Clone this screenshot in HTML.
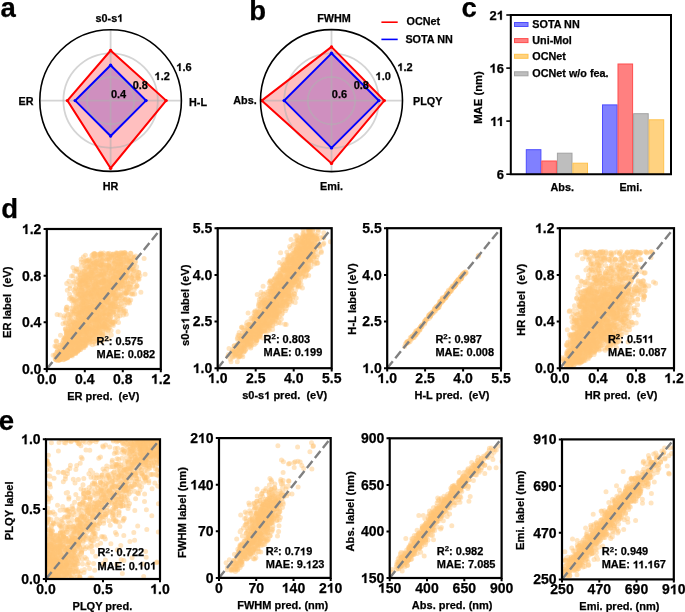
<!DOCTYPE html>
<html><head><meta charset="utf-8"><title>figure</title>
<style>
html,body{margin:0;padding:0;background:#fff;width:685px;height:612px;overflow:hidden}
svg{display:block;will-change:transform}
text{font-family:"Liberation Sans",sans-serif;font-weight:bold;fill:#000;stroke:#000;stroke-width:.25px}
.h{fill:none;stroke:none}
.o{fill:#000;stroke:#000;stroke-width:.25px}
</style></head><body>
<svg width="685" height="612" viewBox="0 0 685 612">
<rect width="685" height="612" fill="#fff"/>
<text x="0.6" y="17.3" font-size="27.5">a</text>
<text x="249.2" y="19.5" font-size="27.5">b</text>
<text x="461.5" y="17" font-size="27.5">c</text>
<text x="1.2" y="217.8" font-size="27.5">d</text>
<text x="-1.3" y="430" font-size="27.5">e</text>
<polygon points="110.6,65.2 146,100.6 110.6,136 75.2,100.6" fill="#0000ff" fill-opacity=".25"/>
<polygon points="110.6,50.5 166.1,100.6 110.6,168.2 67.4,100.6" fill="#ff0000" fill-opacity=".25"/>
<circle cx="110.6" cy="100.6" r="23.6" fill="none" stroke="#b0b0b0" stroke-opacity=".55" stroke-width="1.8"/>
<circle cx="110.6" cy="100.6" r="47.2" fill="none" stroke="#b0b0b0" stroke-opacity=".55" stroke-width="1.8"/>
<path d="M110.6 29.8V171.4M39.8 100.6H181.4" stroke="#b0b0b0" stroke-opacity=".55" stroke-width="1.8"/>
<polygon points="110.6,65.2 146,100.6 110.6,136 75.2,100.6" fill="none" stroke="#0000ff" stroke-width="2" stroke-linejoin="miter"/>
<polygon points="110.6,50.5 166.1,100.6 110.6,168.2 67.4,100.6" fill="none" stroke="#ff0000" stroke-width="2" stroke-linejoin="miter"/>
<circle cx="110.6" cy="65.2" r="1.7" fill="#00f"/>
<circle cx="146" cy="100.6" r="1.7" fill="#00f"/>
<circle cx="110.6" cy="136" r="1.7" fill="#00f"/>
<circle cx="75.2" cy="100.6" r="1.7" fill="#00f"/>
<circle cx="110.6" cy="50.5" r="1.7" fill="#f00"/>
<circle cx="166.1" cy="100.6" r="1.7" fill="#f00"/>
<circle cx="110.6" cy="168.2" r="1.7" fill="#f00"/>
<circle cx="67.4" cy="100.6" r="1.7" fill="#f00"/>
<circle cx="110.6" cy="100.6" r="70.8" fill="none" stroke="#000" stroke-width="1.6"/>
<text x="110.9" y="98" font-size="11">0.4</text>
<text x="132.7" y="89" font-size="11">0.8</text>
<text x="154.5" y="79.9" font-size="11"><tspan class="h">1</tspan>.2</text>
<text x="176.3" y="70.9" font-size="11"><tspan class="h">1</tspan>.6</text>
<text x="109.4" y="21.8" font-size="10.8" text-anchor="middle">s0-s<tspan class="h">1</tspan></text>
<text x="189" y="105.6" font-size="10.8">H-L</text>
<text x="110.6" y="189.8" font-size="10.8" text-anchor="middle">HR</text>
<text x="33.5" y="105.1" font-size="10.8" text-anchor="end">ER</text>
<polygon points="331.5,53.3 378.8,100.6 331.5,147.9 284.2,100.6" fill="#0000ff" fill-opacity=".25"/>
<polygon points="331.5,46.9 384.3,100.6 331.5,163.4 261.7,100.6" fill="#ff0000" fill-opacity=".25"/>
<circle cx="331.5" cy="100.6" r="23.7" fill="none" stroke="#b0b0b0" stroke-opacity=".55" stroke-width="1.8"/>
<circle cx="331.5" cy="100.6" r="47.3" fill="none" stroke="#b0b0b0" stroke-opacity=".55" stroke-width="1.8"/>
<path d="M331.5 29.6V171.6M260.5 100.6H402.5" stroke="#b0b0b0" stroke-opacity=".55" stroke-width="1.8"/>
<polygon points="331.5,53.3 378.8,100.6 331.5,147.9 284.2,100.6" fill="none" stroke="#0000ff" stroke-width="2" stroke-linejoin="miter"/>
<polygon points="331.5,46.9 384.3,100.6 331.5,163.4 261.7,100.6" fill="none" stroke="#ff0000" stroke-width="2" stroke-linejoin="miter"/>
<circle cx="331.5" cy="53.3" r="1.7" fill="#00f"/>
<circle cx="378.8" cy="100.6" r="1.7" fill="#00f"/>
<circle cx="331.5" cy="147.9" r="1.7" fill="#00f"/>
<circle cx="284.2" cy="100.6" r="1.7" fill="#00f"/>
<circle cx="331.5" cy="46.9" r="1.7" fill="#f00"/>
<circle cx="384.3" cy="100.6" r="1.7" fill="#f00"/>
<circle cx="331.5" cy="163.4" r="1.7" fill="#f00"/>
<circle cx="261.7" cy="100.6" r="1.7" fill="#f00"/>
<circle cx="331.5" cy="100.6" r="71" fill="none" stroke="#000" stroke-width="1.6"/>
<text x="331.8" y="98" font-size="11">0.6</text>
<text x="353.7" y="88.9" font-size="11">0.8</text>
<text x="375.5" y="79.9" font-size="11"><tspan class="h">1</tspan>.0</text>
<text x="397.4" y="70.8" font-size="11"><tspan class="h">1</tspan>.2</text>
<text x="334" y="21.8" font-size="10.8" text-anchor="middle">FWHM</text>
<text x="413" y="105.1" font-size="10.8">PLQY</text>
<text x="331.5" y="189.8" font-size="10.8" text-anchor="middle">Emi.</text>
<text x="256.7" y="103.9" font-size="10.8" text-anchor="end">Abs.</text>
<path d="M381.4 22.2H397.7" stroke="#f00" stroke-width="1.6"/>
<path d="M381.4 39.4H397.7" stroke="#00f" stroke-width="1.6"/>
<text x="406.6" y="25.2" font-size="10.8">OCNet</text>
<text x="405.4" y="42.9" font-size="10.8">SOTA NN</text>
<rect x="526.3" y="149.7" width="14.6" height="24.5" fill="#8080ff" stroke="#4d4dff" stroke-width="1"/>
<rect x="541.8" y="161" width="14.6" height="13.2" fill="#ff8080" stroke="#ff4d4d" stroke-width="1"/>
<rect x="557.4" y="153.2" width="14.6" height="21" fill="#bebebe" stroke="#a3a3a3" stroke-width="1"/>
<rect x="572.9" y="163.2" width="14.6" height="11" fill="#ffd280" stroke="#ffc24d" stroke-width="1"/>
<rect x="602.5" y="104.9" width="14.6" height="69.3" fill="#8080ff" stroke="#4d4dff" stroke-width="1"/>
<rect x="618" y="64" width="14.6" height="110.2" fill="#ff8080" stroke="#ff4d4d" stroke-width="1"/>
<rect x="633.6" y="113.7" width="14.6" height="60.5" fill="#bebebe" stroke="#a3a3a3" stroke-width="1"/>
<rect x="649.1" y="119.8" width="14.6" height="54.4" fill="#ffd280" stroke="#ffc24d" stroke-width="1"/>
<path d="M510.8 15H671V174.2H510.8Z" fill="none" stroke="#000" stroke-width="2"/>
<path d="M506.3 174.2H510.8" stroke="#000" stroke-width="1.6"/>
<text x="504" y="178.9" font-size="13" text-anchor="end">6</text>
<path d="M506.3 121.1H510.8" stroke="#000" stroke-width="1.6"/>
<text x="504" y="125.9" font-size="13" text-anchor="end"><tspan class="h">1</tspan><tspan class="h">1</tspan></text>
<path d="M506.3 68.1H510.8" stroke="#000" stroke-width="1.6"/>
<text x="504" y="72.8" font-size="13" text-anchor="end"><tspan class="h">1</tspan>6</text>
<path d="M506.3 15H510.8" stroke="#000" stroke-width="1.6"/>
<text x="504" y="19.8" font-size="13" text-anchor="end">2<tspan class="h">1</tspan></text>
<text x="562.2" y="190.7" font-size="10.8" text-anchor="middle">Abs.</text>
<text x="630.8" y="190.7" font-size="10.8" text-anchor="middle">Emi.</text>
<text transform="translate(481.6 97.5) rotate(-90)" font-size="11.3" text-anchor="middle">MAE (nm)</text>
<rect x="514.5" y="22.5" width="13.5" height="4" fill="#8080ff" stroke="#4d4dff" stroke-width="1"/>
<text x="532.3" y="27.8" font-size="10.8">SOTA NN</text>
<rect x="514.5" y="38.6" width="13.5" height="4" fill="#ff8080" stroke="#ff4d4d" stroke-width="1"/>
<text x="532.3" y="44.2" font-size="10.8">Uni-Mol</text>
<rect x="514.5" y="54.3" width="13.5" height="4" fill="#ffd280" stroke="#ffc24d" stroke-width="1"/>
<text x="532.3" y="60" font-size="10.8">OCNet</text>
<rect x="514.5" y="71.8" width="13.5" height="4" fill="#bebebe" stroke="#a3a3a3" stroke-width="1"/>
<text x="532.3" y="77.3" font-size="10.8">OCNet w/o fea.</text>
<clipPath id="cd1"><rect x="46.8" y="229" width="114" height="140"/></clipPath>
<g clip-path="url(#cd1)" fill="none" stroke="#ffc473" stroke-opacity=".45" stroke-width="5" stroke-linecap="round">
<path d="M101.8 256.2h0m1.3-1h0m6.1-1.9h0m7.3-0.5h0m2.6 0.7h0m3 0.1h0m12 3.6h0m-39.6 5.3h0m1.8 1h0m0.8 0.3h0m3-4h0m0.5-1.2h0m0.5 1.4h0m0.3 2.2h0m1.9-3.9h0m11.7 4.2h0m1.6 0.9h0m0.5-3.7h0m0-1.5h0m2 5.6h0m6.9-2.1h0m0.8-1.8h0m3.3 0.9h0m3 2.7h0m1.9-0.8h0m-45.2 1.3h0m0.1 3.3h0m2.3-2.5h0m3.4 0h0m0.5 3.9h0m3.7-4h0m0.6 0h0m8.6 3.3h0m0-1.1h0m14.8 0h0m0.1 0.4h0m2.1 2.4h0m2-1.3h0m-55.1 7.4h0m3.1-4.2h0m0.5 0.2h0m8-0.9h0m1.9 3.8h0m0.7-1.9h0m0.5-2h0m2.3 0.2h0m1.3 1.6h0m11.5 0.4h0m0.1 2.6h0m0.5-4.3h0m3.9 2.1h0m0.5 2.1h0m3.8-2.9h0m1.8-1.2h0m2.8 0.5h0m4.6 2.9h0m1.9-4.7h0m0.4 5.3h0m4.7-3.7h0m10.2 3.8h0m-57.2 3.2h0m2.3-1.5h0m2.3 2.5h0m0.3-2.1h0m1.7 3.7h0m0.8-1.5h0m1.5-0.4h0m6 2.5h0m1.2-0.6h0m0.2-4.9h0m1.6 0.2h0m2.2 0.6h0m1.1 2.1h0m1.4-1h0m2.6-2.1h0m3.6 4.4h0m3.8-3.9h0m1.9 1h0m3.2 3.7h0m1.7 0h0m1.8-4.6h0m2.9 0.9h0m5.8 2.2h0m0.3-2.9h0m2.4 4.7h0m5.7-2.5h0m-59.2 5.5h0m1.3-1.9h0m0.5 1.8h0m0.2-1h0m7 0.8h0m4.4 3.4h0m0.4-2.7h0m4.1-2.3h0m0.2 0.4h0m1.1 1.8h0m4.3-2.3h0m6.2 4.2h0m0.9-3.9h0m0.4-1h0m6.6 2.6h0m0.4 3.2h0m19.3-1.7h0m-61.6 2.3h0m3.5 2.3h0m3.4-0.3h0m5.1 2.6h0m4.7-1h0m6.1 1.1h0m1.4-3h0m0.5 0.7h0m2.9 0.9h0m0.7 0.3h0m0.2-3.6h0m0.4 1.1h0m6-0.7h0m0.3 1.5h0m6.4 3.4h0m7.5-1.3h0m7.4 0.9h0m2.3-3.7h0m-55.8 5h0m2.6 0.9h0m1.7-0.2h0m1.5 0.2h0m0.7-0.6h0m5.9 0.3h0m4.3 4.3h0m2.5-3.8h0m2.6 3.4h0m0.3-2.8h0m0.6-1.2h0m6.4 2.9h0m0.1 1.9h0m5.1-5.4h0m1.5 4.5h0m2.3-0.8h0m0.2-2.2h0m3.5-1.8h0m-39.4 10.1h0m2.8 0.7h0m0.4-4.2h0m0.7 2.5h0m0.2-2.3h0m4.3 0.9h0m7.7 2.2h0m2.6-2.8h0m0.4 3.7h0m0.8-0.9h0m3.2-3.4h0m0.1 1.2h0m0.4 2.3h0m4.1-1.9h0m1-0.8h0m1.2 1.5h0m2.4-0.2h0m0.8-2.1h0m1.4 1.3h0m1.9 1.6h0m-43.2 8.3h0m1.7-3.2h0m4.2 2.3h0m2.9-2.5h0m0 3.4h0m4.9-3.4h0m1.4 3.4h0m0.1-4.2h0m0.2-0.2h0m5.5 0.4h0m2.2 3.6h0m0.9-5.5h0m3.1 1.3h0m14-0.8h0m-48.7 9.9h0m1.1 1.5h0m0.6-3.7h0m1 3.2h0m9.2 0.1h0m1.7-3.5h0m1.9-0.7h0m0.8 1.2h0m1-0.5h0m2.1 1.2h0m1.4-2.6h0m2.7 5h0m0.3-2.1h0m2.3-3.1h0m2.2 1.2h0m2.5 4h0m0.3-3.8h0m2-1.8h0m0.8 3.6h0m2.6 0.8h0m0.4-0.2h0m0.2-1h0m5.9 0h0m4.3-3.1h0m-44.7 9.3h0m3.3 0.2h0m8 1.6h0m4.5-2.8h0m6.6 1.8h0m0.5-1h0m0.1 2.4h0m3.4-3.8h0m0.1-0.8h0m0.4-0.8h0m0.7 2h0m3.3-0.2h0m1.8 2.6h0m3.5 0.4h0m1.7-2.7h0m-32 4.1h0m0.6 4h0m0.2-4.1h0m1.3 1.1h0m2.3 4.4h0m0.9-0.3h0m1-5.1h0m1.6 2.5h0m1.5 2.5h0m0-1.7h0m0.1-1.2h0m3.6 3.3h0m2.7-0.4h0m1 0.4h0m0.7-1.6h0m1.7-2.4h0m1.5 0.9h0m1-1h0m5.7 0.8h0m3.1 0.7h0m0.6 2.2h0m3.9-4.6h0m3.3 0.7h0m-46.9 6.4h0m0.5 2.3h0m0.4-2.1h0m6.7-0.5h0m1 0.4h0m0.9-0.5h0m0.2 4.3h0m0.6-0.3h0m1.2-1.6h0m0.9-3.6h0m1.9 4h0m0.8-2.1h0m0.1 0.8h0m3.8-2h0m0.7-1h0m1.6 4.9h0m1.2-2.4h0m3 0.9h0m1.5 1.2h0m1.8-4.6h0m0.1 2.2h0m7.5 3.5h0m-39.6 4.3h0m1.1 1.7h0m0.7-4.1h0m1.7 3.7h0m0.8-1.5h0m0.7-1.4h0m2.5 1.8h0m2.4-3.3h0m0.1 4.1h0m3.4 0.6h0m1.8-3h0m0.3-1.1h0m0.1 2.3h0m0.4-0.1h0m0.5-0.5h0m1.9-2.6h0m0.2 3.7h0m0.3-3.8h0m2.5 1.9h0m3.9-1.4h0m0.7 2.8h0m1.8-1.6h0m6.6 1.5h0m6.1-0.3h0m-47 7.4h0m2.5-1.6h0m3.5 1.3h0m3.9-1.6h0m0.4-0.5h0m0 3.2h0m3.2-2.9h0m2.9 0.6h0m1.9 0.8h0m0-4.1h0m0.2 4.3h0m0.4-2.1h0m0.8 2.5h0m0.8-0.2h0m1.6 0.2h0m2.5-2.8h0m2.5-1.7h0m2.1 0.7h0m3.7 0.3h0m1.6-1.2h0m-34.5 10.3h0m2-0.1h0m1.1 0.8h0m3.1-0.3h0m0.8-2h0m0.4-2.4h0m1.4 1.2h0m2.4 2.9h0m0.6-3h0m1.6-0.6h0m0.5 4h0m0.8-2.1h0m1.7 1h0m0.7-1.8h0m0.3-1h0m0-0.2h0m1.4 0.8h0m4.4-1.5h0m-23.8 6.4h0m1 0.5h0m0.5 3h0m1.3-2.7h0m1 0.7h0m1 0.9h0m0.4-2.1h0m0.5 2.4h0m2.6-1.5h0m0.7 2.5h0m1.6-3.9h0m0.2 2.5h0m0.5 0.9h0m0.8-1.5h0m0.9-1.6h0m0.6 0.3h0m0.9-0.6h0"/>
<path d="M94.3 254h0m5.6 0.2h0m3.7-1.1h0m3.4 0.8h0m0.9 0.2h0m5 0.5h0m3.1 0.9h0m7.4-1.5h0m0.2 2.4h0m1.2-2.2h0m3.6 1.6h0m-44.9 6.4h0m5.3-2.6h0m18.2 0.4h0m3.4 3.4h0m6.1-1.8h0m4.1 0.3h0m8.8 0.2h0m1.4-1.2h0m-54.3 7.9h0m9.7-1.4h0m2.5-1h0m5.8-2h0m0.1 0.5h0m0 3.9h0m0-0.8h0m2.4-0.7h0m1.2-0.1h0m2.1 1.1h0m1.9 1h0m1-4.3h0m5.6-0.7h0m5.7 2.7h0m6-2.9h0m7.5 2.8h0m4.7 2h0m-46.4 3.9h0m3.9-2h0m3 4.9h0m1.1-3.2h0m3.8-2h0m0.3 5.1h0m2.2-1.8h0m3.2 0.2h0m3-3.9h0m2.8 2.3h0m0.1 0.6h0m9.1-0.8h0m3.8 3h0m15.2-0.5h0m0.9-2.1h0m-55.9 8.2h0m3.3-2.6h0m0.5-1h0m1.1 4.3h0m1.4-0.1h0m1.2-3.4h0m4 0.2h0m1.4-2.1h0m2.4 0.7h0m3.6 4.5h0m1.8 0.4h0m0.8-0.5h0m5.1-0.1h0m0.3-2.2h0m2.9-2.9h0m2.2 2.6h0m1.3 1.3h0m0.1 0.7h0m0.1-2.4h0m2.1-0.1h0m2.6 2.9h0m5.3-4h0m7.5 2.2h0m3.5-1.4h0m-57.9 5.6h0m1.2 2.1h0m0.1 1.6h0m2.4 0.2h0m0.5-0.3h0m2.2-1.6h0m7.5-1.9h0m1.1 3.1h0m1.4-3.4h0m1.5 3.6h0m4.8-3.9h0m7.3 4.6h0m1.5 0.3h0m0.2-1.3h0m2.5-0.3h0m3-0.1h0m0.8-2.2h0m2.7-0.7h0m1.9-0.8h0m1.2 2.9h0m6.2 1.4h0m-62.1 3.6h0m7.4 1.7h0m3.3 1.4h0m1.2-4.1h0m5.5 1.6h0m3.7-1.6h0m0.3-1.1h0m0.7 1.2h0m1.5 4.3h0m3.6-3.4h0m2.3-0.9h0m1.9 3.6h0m1.1-2.5h0m0.9-0.5h0m1.7-1.5h0m1.3 4h0m0.4-0.6h0m3.1-3.4h0m6.4 4.2h0m0.6-2.2h0m11.1 2.7h0m3.9-4.2h0m-48.8 8.8h0m3.2-2.5h0m2.4 3.3h0m6.5 1.1h0m8.6-2h0m0.2-2.4h0m0.9 4.6h0m3.1-3.7h0m1.7 3.7h0m1.8-1.9h0m5.7-3.3h0m0.3 4.2h0m0.6-0.1h0m0.9-1.7h0m5.2-1.9h0m3.8 4.2h0m-50 3.7h0m0.6 1.4h0m0.9-2.9h0m6-1.1h0m0.5 1.9h0m7.4-0.6h0m1.1 3.9h0m0.3-3.3h0m8.1 2.8h0m2.6-1h0m0.2-3.2h0m4.3 0.9h0m1.2-1.2h0m2.5 3h0m2.5-0.7h0m14.2-0.1h0m1.4-2.4h0m-63.1 9h0m6.3 1.2h0m9.8 1.2h0m2.4-3.4h0m0.4 2h0m2.8 0.9h0m0.5-2.7h0m0.3 0.9h0m8.6-3.4h0m4.6 0.3h0m4.3 5h0m0.7-1h0m2-2.5h0m0.1 1.6h0m1.7-3h0m8 0.7h0m5.6 4.3h0m-53.3 2.2h0m5.6 3.8h0m3.2-2.1h0m0 1.2h0m0.9 0.1h0m1.6-3.1h0m0.5 1.3h0m2.3 1.3h0m5.8 0.9h0m0.7-5h0m2.5 4.9h0m0.4-0.6h0m1-1.4h0m3-0.4h0m2-2h0m3.6 0.3h0m3-0.9h0m2 3.1h0m2 2.6h0m3.1-3.2h0m9.4 0.3h0m-53.9 3.1h0m6.7 5.1h0m2.9-4.4h0m2.7 2h0m0.1-0.4h0m1.5 0.6h0m8.5-2.6h0m2.1 1.3h0m3.6 3.6h0m0.6-5.1h0m1.6 2.4h0m0 1.4h0m2.6-1.2h0m1.4-0.5h0m1.3 1.2h0m0.8-1.8h0m0.9 0.5h0m0.2 0.1h0m3 0.5h0m3.5 1h0m5 0.8h0m-49.9 4.6h0m4 2.4h0m1.2-3.4h0m5-0.5h0m5.5 1.5h0m4.4 1.2h0m0.6-4.3h0m9 5.2h0m0.3-4.6h0m0.1 5h0m1.1-4.6h0m0.5 3.4h0m0-2.8h0m2-0.9h0m2.5 1.7h0m-38.6 6.6h0m4.7-0.8h0m0-1.9h0m5.2 2.9h0m0.1-1.2h0m0.7-1.1h0m2.9-0.2h0m0.6 2.8h0m5.2 0.5h0m0.9-2.1h0m6.5-1.4h0m2.5 1.6h0m0.2 1.4h0m0.5-1.1h0m0.1-1.5h0m14.8-0.5h0m-55 10.7h0m11.5-3.7h0m2 2.5h0m0.5 0.5h0m0.4 0.8h0m0.9-4.9h0m3.8 0.5h0m2.8 0.7h0m2.9 1.8h0m3.8-0.5h0m2 1.7h0m6-2.6h0m0.5 0.7h0m3.8-1.2h0m1.7 3.2h0m-34.2 6.4h0m0.4-3.4h0m2.8 2.4h0m1.5-1h0m0.2-2.2h0m0.6 1h0m2.1-0.9h0m1.8 2.7h0m0.1-0.4h0m1.5 1.5h0m1.9-4h0m2.4 2.7h0m0.7-2h0m2.8 0.1h0m0.9 0h0m0.3 2.2h0m0.1-2.8h0m0.4 1h0m-26.2 8.6h0m0.9 0h0m0.1-1.5h0m0.8 0.5h0m2.3 2.2h0m2-1.3h0m0.2 1.4h0m1.5-2.6h0m0.8-0.8h0m0.1 3h0m6.2-4.4h0m1.3 0.3h0m0.1 2.3h0m1.3-2.4h0m1 2h0m1-2.5h0m0.9 0h0m1.1 0.7h0m-21 8.6h0m0.1 1.4h0m0.1 0.4h0m0.7-2.6h0m1.3-1.6h0m1.5 0.5h0m0.4-0.8h0m0.2-0.7h0m0.3 3.1h0m0.6-1.9h0m1.3-1h0m1-0.2h0m0.5 1.5h0m0.3 1.3h0m1.4-1.5h0m-12.4 4.2h0"/>
<path d="M83.4 257.1h0m17.6-1.9h0m2 2.4h0m8.3-0.8h0m2.8 0h0m3.3-2.9h0m1.5 1h0m5.2 0.6h0m5 2h0m3.4-0.6h0m-45.6 3.5h0m3.2 0.9h0m8.1 1.9h0m3.1-1.5h0m3.1-3.4h0m1.3 0.3h0m3.1 1.5h0m0.6 3.8h0m2.3-3.1h0m10.7 2.5h0m1.5-4.9h0m0.5 2.8h0m5.9-0.5h0m-39.7 6.2h0m2.1 1.8h0m1.8 0.9h0m8.8-2.3h0m3.9 0.5h0m1 1.7h0m0.4 0.3h0m2.9-0.1h0m6-2.3h0m0.3 0.7h0m0.8-4.1h0m4.6 3.6h0m1.4-0.4h0m7 1.7h0m-57.2 2.1h0m5.9 4.1h0m2.3-0.3h0m3.1 0.7h0m2.7 0.3h0m2.3-2.2h0m0.1-1.6h0m1.3-1.4h0m3.1 0.5h0m14.6-0.9h0m5.4 1.3h0m0.6 2.3h0m2.3-1h0m0.3-2.8h0m3.5 1.3h0m1.6 4.3h0m2.8-2.9h0m10.5-1.4h0m-67.9 9.9h0m1.1 0.5h0m12.9-2.3h0m7.5 1h0m0.4-1.4h0m0.7 0.2h0m0-2.1h0m4.5 3.8h0m8-1.2h0m0.8 0.8h0m1.4-0.1h0m10.8-4h0m4.2 2.4h0m1.6 1.9h0m2 1.2h0m6.8-3.6h0m6-0.8h0m-63.3 6h0m4.9 3.2h0m0.5-4.1h0m1.1 1.5h0m1.3 1.7h0m1.1-1.3h0m1.9-2.2h0m1.9 5.4h0m7.6-2.5h0m0.8 0.7h0m1.4 1.9h0m2.5-5.5h0m4-0.3h0m0.4 5.3h0m0.3-3.9h0m2.7 0.3h0m0.1-1.5h0m3.4 1.3h0m3.9 2.3h0m1-0.3h0m1-2.8h0m0.9 1.3h0m3.5 2.1h0m0-1.7h0m7 2.9h0m-57.5 1.3h0m13.3 3.7h0m0.1-4h0m0.1-0.1h0m4.3 4h0m3.3-1.7h0m4.8-1.8h0m4.1 1.4h0m0.9 0.7h0m0.3-0.8h0m0.9 2.8h0m1.9-4.1h0m1.3 1.6h0m0.8 1.9h0m1.9-0.9h0m2.7-0.8h0m0.6 1.5h0m0.8-3.2h0m1.9 0.7h0m12 3.2h0m1.9-2.9h0m-55.5 9.8h0m7.2-5h0m0.4 1.5h0m3.5-0.2h0m4.2-0.7h0m2.9-0.4h0m2.3 2h0m2.6-1.7h0m0.9 1.9h0m0.2 1.4h0m0.8-3.7h0m2.4-0.6h0m2.4 3.2h0m1.9-1.7h0m0.6-1.6h0m2.1 5h0m2.1-2.7h0m4-2.2h0m4.8 2.2h0m3.2 2.9h0m1.9-0.4h0m-39 1.3h0m0.5 3.2h0m0.1 0.8h0m0.1 1.6h0m3.7-4.2h0m0.7 2.1h0m0.3-2.7h0m1.5 4.3h0m1.4-3.8h0m1.3 1.1h0m2.2 0.3h0m2 1.7h0m2.7-2.6h0m4.4-1.6h0m7.1 4.4h0m3-3.9h0m0.4 4.9h0m0.3-1.1h0m-48.9 5.8h0m9.1-3.5h0m0.8 1.8h0m6.8 0.3h0m0-1.8h0m4-0.1h0m1.1 4.7h0m2.5-0.7h0m1.2-1.9h0m3.9 0.3h0m1-1.9h0m3.4-1.6h0m1.1 0.2h0m0.9 0.6h0m2.6 2.6h0m5 1.9h0m0.2-1.1h0m0.2-2.8h0m2.5-0.9h0m4.5 2.7h0m-49.6 5.4h0m4.6 0.1h0m0.1-2.5h0m6.8 0.2h0m1.1 0.4h0m5.2 4.9h0m2-3.6h0m0.2-2.1h0m12.5 5.5h0m3.2 0.4h0m3-1.7h0m0.8-1.2h0m8.8-0.9h0m10.2 0.1h0m-62.6 3.8h0m2 4.3h0m1.5 1.4h0m3.2-1.8h0m4.6 0.4h0m3.2 1h0m1.8-2h0m1.6-3.2h0m3.4 2.8h0m3.3 0.9h0m0.4-0.5h0m3 0.2h0m0.9 0.7h0m2.1-0.9h0m0.9-1.7h0m0.9 3.8h0m1.3-1.3h0m2.4-3.4h0m5.6 4h0m1-2.9h0m0.6 2.6h0m2.4-2.6h0m7.9-1.5h0m-43.9 9.2h0m0.5-2.2h0m1.5 3.7h0m0.7-2.5h0m0.2 3.3h0m0.6-1.2h0m1.2 1h0m0.1-1.7h0m3.4 0.8h0m0.4-3.8h0m2.4 2.1h0m2 0.3h0m5.7 0.8h0m0.4 1.8h0m0.3-4.6h0m1.3-1.2h0m0.2 3.4h0m2-3.1h0m1.5 3.9h0m5.5-1.7h0m2.8 1.2h0m5.3-3.5h0m-41.8 6.6h0m0.6 2.6h0m3.2 2.2h0m2.2-2.5h0m0.4-0.1h0m1.2-0.8h0m0.3-1.6h0m0.3 5h0m1.5-4.8h0m3 1.1h0m2.1-0.8h0m0.9 0.6h0m0.5 3.6h0m1.6-3.4h0m0-0.2h0m0.2 4h0m0.3-1.7h0m2.4-3.7h0m0.7 3.6h0m1.7-0.7h0m2.1-0.1h0m2.1-2.6h0m2.2 0.3h0m0.6 1.9h0m18-1.1h0m-52.9 7.7h0m2.3 0.2h0m3.3-0.3h0m1.1 2.6h0m2.8-5.9h0m0.8 5.6h0m0.3-1.9h0m0.5-1.6h0m0.9 1.1h0m0.6 0.5h0m0.1 1.1h0m0.1-3.7h0m1.2 4.1h0m1.1-0.7h0m0.3-1.3h0m1.5 2.2h0m2.4-4.2h0m0.2 0.3h0m1.2 3h0m0.4-1.2h0m0.4-1.9h0m0.1 3.8h0m0.4-0.7h0m0.3-1.1h0m2.2-2.6h0m2.3 4.6h0m2 0.4h0m-27.8 1.2h0m1 0.2h0m0.3-0.8h0m1.6 4.9h0m0.3-3.3h0m1.7 2.4h0m0.6-2.4h0m0.7 0.4h0m0.8 0.8h0m0.5 2.5h0m2.8-1.5h0m1.2 0.6h0m2.2-4h0m2.8 0.7h0m1.2 4.3h0m-26.4 2.8h0m2.4 2.4h0m1.1-1.1h0m1.6-1.9h0m1.8-1.5h0m1.4 5.3h0m0.2-4.5h0m0.1 4.4h0m0.4-1.5h0m0.4-1.3h0m0.2 0.8h0m0.2 1h0m0.4-2.5h0m1.5 0.4h0m0.7-1.7h0m0.2-0.9h0m0.5 2.6h0m0.4 1.6h0m0.9 0.4h0m3.5-0.2h0m2.6-1.1h0m-23.2 4.3h0m0.4 3.2h0m5.5-1.4h0m0.9-2h0m0.5 2h0m1.5-0.8h0m0.7 0.1h0m1.4-0.7h0m0.1-1.2h0m0.8 3.4h0m0.9-1.9h0m4.9-1.8h0m-12.9 5.6h0"/>
<path d="M93.9 253.5h0m0.3 2.6h0m6.1-2h0m0 3.8h0m7.1 0h0m0.7-0.8h0m10.1 0.8h0m0.7-0.3h0m2.6-5.2h0m0.3 0.4h0m3.2-0.3h0m1.3 4.9h0m-39.4 4.3h0m9.2 0.1h0m11.1-2.9h0m8.1-0.6h0m6.2 2.6h0m6.3-1h0m7.8 1.3h0m-50.9 4.9h0m2.8 0.3h0m4.1-1.8h0m3.3 4.7h0m0.5-4.4h0m5.1 0.1h0m6.8-0.1h0m1.5 0.9h0m4.9 2.9h0m12.4-1.1h0m3.7-2.2h0m-51 6.7h0m17.7-2h0m0.5 0.7h0m4 3.9h0m0.2-3.5h0m2.9 1.2h0m16.5-1.5h0m1.9-0.5h0m10.5 3.3h0m2.3 2.2h0m-54 6h0m5.2-2h0m1.8-2.8h0m3 1.3h0m2.7 0.9h0m10.6 2h0m8.6-3.3h0m1.1 3.9h0m1.6-4.7h0m3.7-0.9h0m2 4h0m2.3-2.4h0m-39 5.6h0m1.2 0.3h0m1.7 4h0m0.1-0.6h0m4.4-0.7h0m1-3.9h0m2.4 1.7h0m0.8 0.6h0m1.1-1.6h0m1.1-1.1h0m3.3 0.5h0m1.6-0.1h0m2.6 2.7h0m1.1 2.1h0m1 0.2h0m0.8-5.6h0m2.2 4h0m0.1-0.5h0m0.3 1.3h0m14.9 1h0m1.5-4.2h0m3 0.7h0m5.7 1.1h0m-56.4 8.2h0m8.2-0.7h0m2.8 0.6h0m0.2-1.3h0m4.6 0.9h0m0.2-4.9h0m0.5 0.5h0m0.2 3.6h0m0.2-1h0m2.5-2.6h0m1.8 3.9h0m0.9 1.2h0m1.8-1.3h0m1.6-4.3h0m7.6 4.7h0m7.4-4.5h0m6.1 3.9h0m-57.6 6.5h0m7.9-3.4h0m0.3 1.1h0m1.1 0h0m2.4 2.8h0m3.6-5.1h0m0.4 1.5h0m5.9 1.3h0m2.8-2.6h0m1.4 4.9h0m5.1-2.2h0m0.8-0.9h0m1.8 1.5h0m0.7-1.3h0m5.5-2.3h0m9.9 3.9h0m11.9-4h0m-54.3 8.7h0m1.5-2h0m1.2-0.4h0m1.9 4.1h0m4.4-4h0m0.1 3.8h0m2.7 1.1h0m5.8-4.9h0m5.6 5.4h0m0.6-2.5h0m4 0.1h0m3.5 2.2h0m20.8-4.1h0m-46.5 7.7h0m1.8-2.1h0m5-0.3h0m0.9 4.2h0m0.4-4.2h0m0.3 1.9h0m0.8 1.8h0m2.4-4.4h0m0.7 1.5h0m2.8 4.2h0m0.5-1.3h0m5.4-2.3h0m0.1-1.9h0m0.1 2.7h0m2.4-1.4h0m0.7-0.3h0m6.6 4h0m1-3.8h0m-43.1 9.6h0m2.1-3.4h0m3.3 0.3h0m1 1.6h0m0.8-2.4h0m6.4-1h0m0.3 2.6h0m4.4-2.1h0m2.2 1.5h0m0.2 2.9h0m3.2-4.1h0m0 4.5h0m4.5-0.5h0m0.9-2.6h0m3.9 0.1h0m0.5 3.4h0m4.4-0.1h0m1.5-3.9h0m-33 6.2h0m0.6 0.7h0m1.2 2.7h0m0.3-4.1h0m3.6-1.1h0m0.2 3.1h0m0.3-2.7h0m7.3 1.8h0m1.4-0.5h0m1.3 1.4h0m2-2.3h0m5.1 2.1h0m0.5-0.4h0m0 0.6h0m1.4 2h0m7.1-2.5h0m-39.4 8.1h0m1.5 0h0m0-3.9h0m4.8 1.7h0m2.7-2.3h0m0.2 1h0m0.5 0.7h0m5.4-1h0m0.3-0.3h0m0.2 3.2h0m3.4-2.1h0m2 2.6h0m0.1 0.6h0m0.7-0.1h0m1.5-0.2h0m0.6-1.4h0m0.2 1.7h0m3-0.3h0m2.2-1.3h0m2.6-2.3h0m1.4 0.4h0m0.5-0.9h0m0.1 2.5h0m4.9 0.1h0m-42.1 3.9h0m0.4 4.2h0m3.5-0.1h0m2.7-3.6h0m0.8 0.8h0m1 2.4h0m4.6-3.7h0m1.7-0.7h0m4.4 1.4h0m2.5 2.3h0m0.4 0.9h0m2.7-1.8h0m1 1.8h0m0.7 0.2h0m2.3-1.3h0m0-0.3h0m0.2 0.4h0m4.8-1.2h0m0.9 2.2h0m0.8-3.5h0m8.7 3.2h0m-47.1 5.1h0m1.6-0.8h0m1.7-1.9h0m1 1.6h0m0.8-2.2h0m2.2 0.4h0m1.2 4.2h0m1.7 0h0m0-1.3h0m3 1.8h0m0.3-4.4h0m1 1.4h0m0.6-1.5h0m0.6 3.2h0m4.9-1.5h0m1.6 2h0m4.3-1.4h0m2.1-3.3h0m1.7 2.1h0m0.4-2.3h0m-31.9 6.1h0m1 3.6h0m1 1.1h0m0.5 0.5h0m1.1-2.7h0m0.7 1.4h0m0.6 1.5h0m0.1-2h0m1.7 1.1h0m0.4-0.2h0m1.1-0.4h0m0.1-3.7h0m0.3 0h0m0 4.7h0m0.8 0.4h0m0.8-4.6h0m1.8 2.3h0m2.5 1.6h0m4.9-0.4h0m-24.8 5.1h0m2.7 2h0m4.5-4.5h0m2 3.4h0m0.7-2h0m0.6 2.8h0m1.4-1.8h0m0.6-0.5h0m1.7 1.3h0m0.3-3.8h0m0.5 0.3h0m0.5 1.3h0m1.5 1.6h0m0.1 1.6h0m0.9-1.1h0m0.7-3.3h0m1.2-0.4h0m2.9 1h0m-23.9 7.1h0m0 0.4h0m0.6 0.1h0m0.2-0.4h0m0.2 1.5h0m1.8-0.2h0m0.1 1.6h0m0.1-5.4h0m0.2 1h0m1.1 0.7h0m1.6 1.8h0m0.9-0.3h0m0.3 2.4h0m0.2-2.8h0m0.5 1.3h0m0.4 0.2h0m3.2-1.3h0m3.6-2h0m0.1-0.9h0m-15.1 5.8h0m2.3 0h0"/>
<path d="M85.4 255.3h0m6.4 0.3h0m2.4 0.4h0m2.3-1h0m3.6-0.4h0m11.9-0.3h0m9.6 0h0m1.2-0.2h0m6.1 3.8h0m-47.7 4.2h0m4.2-1.1h0m0.4 2.8h0m1.6-2.8h0m6.4 2.1h0m1.4 0.2h0m1.7-2.1h0m1.7 0.5h0m11-3.2h0m5.2 2h0m6.4-1.8h0m2.7 1.4h0m1.8 3.3h0m2.1-4.8h0m2.2 3.6h0m2.1-3.5h0m12-0.3h0m-58.6 10h0m0 0.1h0m13.2-4.5h0m2.3 1.6h0m0.8-0.5h0m3.5 0.5h0m3-0.7h0m0.5 1.1h0m6.5-2h0m4.5 5.4h0m0-2.2h0m0.6-0.6h0m0.5-2.2h0m5.3 4.1h0m6.4-2.1h0m0.7 1.9h0m-51.6 5h0m10 1.5h0m1.3-0.5h0m8.5 0.5h0m7.8-3.6h0m0.1 2.4h0m6.4-3h0m5.9 3.7h0m1.2 1h0m1.8-3.7h0m0.4 3.3h0m0.5-1.3h0m0.2 1.6h0m7.3-0.5h0m1.7-3.3h0m1.3 0.7h0m2.8 0.4h0m6.2 1.7h0m-71.3 7.5h0m4.7-3.6h0m0.4-2h0m2.1 4h0m0.9-2.5h0m1.1 2.5h0m0.6-3.4h0m3.6 0.7h0m4 0.9h0m0.8 1.6h0m1.5-3.7h0m0.9 5.1h0m0.7-1.3h0m2.5-2.8h0m1.6 4.4h0m2.3-5.4h0m0.2 2.2h0m0.2 2.4h0m0.9-1.2h0m8.3-0.4h0m3 0.1h0m0.8-2.9h0m2.3 2.6h0m4.8 2.1h0m3.8-3.5h0m10.1 3.7h0m2.4-2.6h0m-62.6 9.1h0m0.8-2.9h0m6 1.9h0m3.7-3.1h0m0.9 2.5h0m2.2-1.2h0m1.3 1.1h0m3.4-2.1h0m4.6 1.9h0m1.7 0.2h0m0.4-1.6h0m0.2 3.1h0m1-4.8h0m5-0.5h0m0.5 3.3h0m1 0.3h0m1.6-2.5h0m0.6 0.3h0m1.9 2.2h0m0.8-1.9h0m1.6 0.5h0m3.8-1.5h0m12.8 4.2h0m4.3-0.2h0m-54.2 1.5h0m12.6 1.2h0m1.8 2.6h0m12.1-0.6h0m8.9 0.3h0m3-0.4h0m0.8 1.9h0m20.1-1.3h0m-68.9 5.2h0m3.9-2.7h0m1-0.1h0m5.3 3h0m2.5-0.6h0m1.9 0.6h0m2.8-3h0m2.1 3.4h0m2.1-1.5h0m6-0.6h0m7.5 1.2h0m0.7-2.5h0m1.1 1.6h0m1.5 2.4h0m2.6-2.8h0m1 0.2h0m18.8-1.8h0m-58.7 6.4h0m2.4 0.6h0m1.9-0.7h0m1.2 2.9h0m1.1-0.9h0m2.4 0.3h0m5.9-2.6h0m8.9 2.9h0m0.2 2.2h0m0.8-4.5h0m1.7 3.9h0m4.3-3.6h0m2.5 2.1h0m3.1 2.1h0m8.3-4h0m2.2-0.2h0m-40.4 5.1h0m0.6 5.6h0m5.3-5.6h0m0.3 3.5h0m0 1.8h0m0.7-1.6h0m0.3-2.2h0m1.8 4h0m0.2 0h0m0.2-4.1h0m3.4-1h0m0.8 4.9h0m0.8-2.2h0m3.1 0.3h0m2 0.9h0m1.3-4.1h0m9.2-0.2h0m0.3 2.5h0m2.1 1.2h0m2.7-0.9h0m2.6 0.9h0m1.7-2.7h0m1.1 1.4h0m-61 6.4h0m15.6-1.7h0m0.7-0.5h0m3.3-0.3h0m5.7 0.4h0m1.3 4.5h0m0.9-4.7h0m4.3 0.9h0m0.2-1.6h0m4.5 3.7h0m5.6-1.2h0m0.4 3.3h0m0.3-4.8h0m6.4 0.7h0m-46.3 10.1h0m11-0.7h0m0.7-0.5h0m5.9-0.2h0m1.5-2.4h0m1.9 3.3h0m2.8-1h0m0 1.4h0m0.8-4.4h0m2.3 1.4h0m0-2.4h0m1.8 0.9h0m0.3 0.2h0m1.1-1.1h0m3.8 1.5h0m2.6 3h0m6.4-0.4h0m7.1 0.1h0m-47.3 6.2h0m2.2 0.7h0m5.2-0.3h0m2.7-5.1h0m0.4 2.1h0m1.1 3.1h0m1.3-1.2h0m1.9-0.3h0m0.2-2.8h0m0.3 3.4h0m0.2-0.1h0m2.5-2.5h0m0 3.7h0m3.6-0.5h0m0.1-1.5h0m0.4-2h0m1.6 3.3h0m0.9-2.5h0m1.8 1.4h0m2.6 1.4h0m2 0.5h0m0-0.2h0m2.5-2.9h0m4.7 0.8h0m0.3-3.1h0m3.5 2.2h0m-47.2 8.9h0m9.2 0.7h0m2.4-3.4h0m1.6-2.2h0m0 2.2h0m1.6-1.3h0m1.8 2.1h0m1.7 2.3h0m1.9-0.7h0m4.9-2.5h0m0.6 2.8h0m0.3-4.6h0m1.8 4h0m2.5-1.1h0m0.8 1.4h0m1-3h0m1.8 1.1h0m1.5-1.9h0m0 0.7h0m2.5 2.8h0m-34.2 3.7h0m2.3 2h0m2.6-3.1h0m3 3.1h0m4.8-2.3h0m3.8-0.1h0m0.9 0.7h0m0.8 0.5h0m0.9-0.3h0m3.8 2.1h0m0.3-1.8h0m0.3-1.5h0m1.1-0.9h0m0.2 3.2h0m0.7 0.7h0m5 0.3h0m-35.2 6.7h0m4.9-4h0m1.3 2.9h0m1.7 1.1h0m5.1-5.3h0m3.6 0.2h0m0.2 2.9h0m1.3-2.1h0m1 1.1h0m3.8 1h0m0.8 1.8h0m0.2-1.1h0m0-1h0m0-1.9h0m0.3-0.5h0m2 2.1h0m2-2h0m-28.9 10.4h0m0.8-1h0m4.8 0.6h0m0.9-0.7h0m1.3-2.3h0m4.4 0.1h0m1.4 2.9h0m1.7-3.2h0m0.8 2.1h0m0.8-3.2h0m1.8 1.4h0m0.2 0.5h0m0.9-0.7h0m-23.2 4.8h0m2.5 0.7h0m2.2 3.6h0m0.5 0.2h0m0.6-3.3h0m0.3 2h0m1.7 1.8h0m1.2-3.9h0m0 1.7h0m0.6-3.2h0m0.4 3.8h0m2.1-2.3h0m0.1 1.4h0m3.5-2h0"/>
<path d="M92.7 257.8h0m4.8-1h0m4.4-2.9h0m6.2 1.1h0m5.2 0.7h0m3.2-2h0m2.1 3.5h0m7.6-3.3h0m4.3-0.7h0m-40.4 8.8h0m6.5-3.8h0m0.1 1.5h0m4.9 1.1h0m1.2 0.1h0m0.4 2.6h0m5-4.9h0m6.3 2.7h0m1.4-2.5h0m1.3 2.5h0m4-1.5h0m2.2 1.8h0m0 0.3h0m0.9-3.2h0m3.4 1.7h0m1 2.1h0m-55.8 4.9h0m4.5 2.2h0m1.5-0.3h0m0.4 0.6h0m1.2-2h0m1-2.1h0m15.2 1h0m4.2 1.3h0m7.8-2h0m1.2 0.7h0m0.2 0.6h0m7.5-0.3h0m1.2-2.5h0m1.7 3.1h0m2.8 0.6h0m3.2-3.8h0m1.4 5.2h0m1.9-0.1h0m4.3-4.2h0m-46 9.2h0m3.2-1.3h0m0.4-3.2h0m0.5 2.2h0m0.3 2.3h0m0.4 0.7h0m2.9-1.6h0m2.2 0h0m4 1.2h0m2.3-0.8h0m0 0.2h0m7-1.2h0m0.9-0.6h0m1.5-1.2h0m2.5-0.7h0m2.3 3.5h0m0.8-0.3h0m3.2-1.2h0m0.4-2.1h0m4.2 5.3h0m3.7-5.7h0m-59.4 6h0m4.6 2.7h0m3.9-0.8h0m3.7 1.7h0m0.9-3.6h0m1.1 3.6h0m6.2-1.9h0m11.7 2h0m3 1.8h0m15.3-4.8h0m4 0.8h0m6.2 0.2h0m-50.7 6h0m0.6 2.9h0m0.4 0h0m1.4-3.5h0m1.1-0.7h0m10.4 2.1h0m0.6 2.1h0m6.2-4h0m0.8 0.3h0m2.7 1.4h0m3.8-2.4h0m4.4 2.3h0m1.2 3.1h0m0.9-1h0m0.8-0.8h0m1.1 1.7h0m3.8-1h0m1.7 0h0m2.7-3.3h0m1.7-0.8h0m0 0.3h0m0.7 4.4h0m2 0.4h0m-50 3.4h0m2.3 1.7h0m1.8 0h0m0.3-0.9h0m0.6 0.3h0m6.3-1.5h0m0.6 0.1h0m0.7-0.5h0m2.8 1h0m6.7-2h0m0.5 1h0m0.2 2.6h0m2.3-3.6h0m2.4-0.4h0m3.3 3.6h0m0.5-2.6h0m0.1 2.4h0m0.6-2.1h0m3.2 1.4h0m11 2.1h0m0.2-4.9h0m2.6 0.5h0m0.8-0.2h0m-60.5 5.5h0m4 5.1h0m12.6-3.4h0m0.4 1.4h0m2.7 1.4h0m2.1-1.8h0m2.2-2.2h0m3-0.5h0m9.2 5h0m1.6-3.9h0m0.5 2.2h0m2.1-2.5h0m5.8 3.6h0m9.3 1.3h0m9.6-5.9h0m-48 7.6h0m4 3.4h0m7.1-2.6h0m0.5-0.4h0m8.5 0.6h0m0.8-2.6h0m4.6 3.6h0m8.9 2.3h0m3.1-0.8h0m6.5-5.1h0m-64.2 7.4h0m3.4 1.3h0m1.5-0.3h0m2.6 0.4h0m5.7-1.6h0m0.4-0.3h0m4.1 1.6h0m1.6-0.8h0m3-1h0m1 2.2h0m2-0.9h0m1 0h0m4.5 0.9h0m0.6 2h0m0.8-4.9h0m1 2h0m1.8 0h0m2.5 2.8h0m0.1-3h0m2.2 2.5h0m3.1-1.9h0m2-0.5h0m4.9-1.4h0m3.7 4.1h0m0.7-3.8h0m0.6 3.4h0m2.9 0.7h0m1.4 0.2h0m-47.9 2.5h0m1.2 1.1h0m0.7-2.2h0m0.6 3.3h0m1.5-2.6h0m3.9 3.8h0m1.1-4.8h0m1.7 5.7h0m0.7-2.5h0m0.3 0.9h0m1.9 1.1h0m3.8-5.1h0m4.4 3.4h0m2.9-1.7h0m3.4-1.3h0m2.1 1.3h0m2.9 2.4h0m-37.6 5.3h0m4.8 1.4h0m5.1-4.7h0m0.2 2.2h0m1.1-0.7h0m0.5-0.1h0m2.5 3h0m2.4-2.6h0m6.6-0.2h0m0 1h0m1.6-2.7h0m1.4 3.2h0m8.3-2.6h0m4.6 3.7h0m-44.1 2.8h0m6.4 4.5h0m2.5-4.1h0m6.2 4h0m1.4-0.1h0m0.3-4.6h0m0.6 0.3h0m0.5 1h0m0.3 0.3h0m2.4 1.4h0m0.1 1.1h0m2.6 0.2h0m3.9-3.9h0m2.7 3.8h0m0.4-4.2h0m0.4 1.8h0m0.5-0.3h0m3.9-1.5h0m0.7-0.8h0m3.9 5.1h0m-40.9 4.2h0m1.4 1.1h0m2.9-2.5h0m1.3 2h0m7.6-1.1h0m2.8 0.6h0m1.5 0.4h0m8-3.4h0m1.3 0.2h0m8.5 1.8h0m2.7 2h0m1.3-3h0m1 1.5h0m-41.6 3.5h0m1.4 2.6h0m1.3-1.2h0m2 3.1h0m0-0.6h0m1.9-3.7h0m0.9-0.6h0m1.8 2.5h0m1.1 3.1h0m2.5-3.2h0m2.9 0.4h0m0.9 0.6h0m2.3 0.8h0m0.5-3.6h0m0.6-0.7h0m3.3 1.7h0m11.8 1.2h0m0.6 2.7h0m-45.4 4.4h0m6.4-2.8h0m0.5 1.7h0m2.4 0h0m2-0.6h0m3.5-1.6h0m0.1 4.7h0m0.3-1.2h0m8.3-1.4h0m6.1 0.8h0m6.8-1.1h0m-30.6 8.3h0m1.4-1.7h0m0.9-2.7h0m0.3 4.8h0m0.3-3.5h0m1.1-0.7h0m2.1 2.9h0m0.1-1.7h0m0 2.1h0m0.6-4.1h0m0.9 3.9h0m0.5-1.8h0m0.2-2.2h0m2.9 3.2h0m1.4 0.6h0m1.2 1.3h0m2.5-5.2h0m0.7 0.9h0m-22.7 9.9h0m2.6-0.6h0m0.3 1h0m2.4-3.2h0m0.7 1.9h0m0.4-1.4h0m1-1.8h0m0.1 1.6h0m0.3-2.4h0m0.1 1.8h0m0.3-1.7h0m0.1 1.1h0m0.2-1.1h0m0.2 4.1h0m0.5-0.4h0m6.4-3.2h0"/>
<path d="M94.9 254h0m0.5 3.7h0m3.2-3.4h0m2-1.2h0m7.1 0.7h0m4 3.7h0m5.2-4h0m2.2 4.1h0m0.8-4.7h0m0.5 1h0m1.2-0.1h0m3.4-0.7h0m10.7 2.9h0m-47.4 4.5h0m5 2.3h0m20.8 1h0m5.2-5.1h0m0.4-0.3h0m9.9 3.2h0m2.1 0.3h0m-42.6 5.7h0m12.4-3.1h0m0.3 4.7h0m0.3-0.6h0m2.8-1.4h0m1.5 2.1h0m2.5-2.9h0m2.7 2h0m3.2-0.7h0m0.8-1.1h0m0.3-1.5h0m2.7 1h0m3.1-1.7h0m7.6 4.6h0m7.4-2.2h0m-52.9 6.2h0m0.4-1.6h0m3.6 3.7h0m4-2.7h0m0.3 0.9h0m7 1.7h0m1.5-0.6h0m4.1 1.5h0m0.7-5.4h0m0.2 4.6h0m9.2-2h0m1.1 1h0m1.3-1.1h0m2.2 1.4h0m8.4 1h0m0.2-3.6h0m1.9 3.3h0m3.6-4.8h0m0.3-0.1h0m-53.9 9.8h0m0.5 1h0m2.9-2.3h0m1.9-2.6h0m1.4 1.4h0m9.5 0.7h0m4.9 3.4h0m2.7-5.3h0m0.4 4.5h0m1.4-2.7h0m2.7-1.7h0m4.1 3.8h0m0.6 0.1h0m0.9-2.1h0m5 3.7h0m0.9-3.1h0m4.9 2.2h0m-44.7 6.7h0m6.3-4.8h0m0.8 1.8h0m0.9 0.2h0m10.6-0.5h0m5.2 1.8h0m3.7 0.6h0m0.2 0.6h0m3.5-2.7h0m1.9-2.3h0m5.6 2.2h0m0.3 2.4h0m3-1.5h0m0.7 1.2h0m-44.7 4.1h0m3.6-0.1h0m6.5 2.4h0m0.8-1.9h0m1.6 2.6h0m0.3-1.3h0m2.3 0.5h0m0.3-0.4h0m1-3.2h0m4.3 1.1h0m0.7 1.2h0m1.3-0.6h0m2.7 0.6h0m0.7 1.2h0m2-1h0m2.5-2.1h0m4.8-0.6h0m1.9-0.7h0m13 3.8h0m-52.2 7.3h0m6.1-1.6h0m12.4 1.3h0m2.4-5.3h0m0.7 3.4h0m2.1-3.4h0m0.9 3.3h0m3.5-0.7h0m5.1 1.8h0m2.7 0h0m0.8-3h0m0.2 3.4h0m2.2-0.4h0m-41.6 5.4h0m0.5 0.3h0m7.7-1.2h0m4.2 2.1h0m1.1-0.3h0m6.4-1.4h0m0.8-2.9h0m4.4 4.5h0m1.5-2.6h0m2 2.9h0m1.3-5.1h0m3 1.2h0m3.2 2.2h0m1.7 1.7h0m1.5-3.9h0m1.5 1.2h0m0.8 1.5h0m-42 2.3h0m3.6 0.1h0m0.3 1.8h0m1.4-0.1h0m0.2-0.4h0m1.8 1.6h0m4.3-2.3h0m0.6 1.6h0m4.9-0.7h0m0.8 4h0m0.6-3.2h0m1.3-1.7h0m11 0.5h0m0.7 3.9h0m1.1-1.7h0m2.8 2h0m1.5-0.1h0m13.2-2.3h0m-66.1 5.1h0m19.7-0.3h0m4 2.4h0m0.6-4h0m0.1 0.7h0m0.1 2.9h0m11.8-2.8h0m2.4 2.6h0m0.4-1.5h0m8.9 1.4h0m0.6 0.8h0m7.4-4h0m3.2 4.3h0m1.6-1.2h0m1.6-3.2h0m-54 10.5h0m8.8-3.5h0m0.7 1.6h0m1.5-0.5h0m0.1-0.2h0m0.1 0.1h0m5.5-1.3h0m0.4 2.5h0m0.8-0.5h0m0.3 0.9h0m3-2.9h0m0.7-0.2h0m6.2 0.1h0m1.8 2h0m1.4-0.1h0m2.6-2.9h0m3.2 1.7h0m0.2-0.2h0m11.9 2.6h0m-49.4 6.8h0m5.1-3.1h0m1.2-0.9h0m0.4 4h0m14.2-1.6h0m1.8 1.6h0m1.5-2.5h0m1.4 2h0m0.5-3.5h0m2 2h0m0.8 1.4h0m0.3-4.3h0m1.5 1.1h0m0.2 0.2h0m2-0.3h0m0.6 1.8h0m3.9-0.9h0m1.1 2.8h0m4.7-3.2h0m0.5 2.2h0m3.8-3.8h0m-46.4 10.8h0m3.2-1.7h0m4.1 1.3h0m0.2 0h0m3.1-0.4h0m0.7 1.5h0m3.8-4.7h0m0.1 1.5h0m0.3 0.8h0m1.1 0.4h0m0.1-3.1h0m1.1 2.5h0m1.2-1.1h0m2.7-0.3h0m0.5 0.4h0m5.2 3.9h0m4.5-3.4h0m3.2 1.6h0m1.3 0.2h0m-37.1 4.7h0m3.4 0.5h0m0.1 0.6h0m0.8 1.8h0m0.1-1.3h0m7.4-1.9h0m2.6 3h0m9.3-3.6h0m0 1.1h0m-34.5 6.8h0m5.4-0.6h0m4.7 2.5h0m0.6-0.7h0m1.1 0.3h0m2-1.3h0m0.1-0.5h0m0.3-0.6h0m3.7 0.8h0m0.6-0.4h0m0.5-3.1h0m0.7 4.2h0m3.4-1.6h0m3.1-2.1h0m0.7 3.4h0m0.3 0.2h0m0.6-2.6h0m1.7 0.9h0m-23.6 8.1h0m0.5-2.4h0m0.3 0.6h0m1.6 2.4h0m0.5-5.2h0m0.1 2.5h0m0.9 1.1h0m1.6-1.5h0m3.6-0.5h0m0.9-1.3h0m1.3 2.3h0m0.3 2.7h0m2-1h0m0.2-0.7h0m1.2 1.1h0m0.3-2.8h0m0.5 0.3h0m1.1-0.6h0m-22.2 9.6h0m1-0.6h0m0.2-1.7h0m1.9 2.3h0m2.3-0.4h0m1.7-4.9h0m0 2.7h0m3.1 1.4h0m0.8-1h0m1.6-2h0m2 0.6h0m-11.9 4.8h0"/>
<path d="M92.9 254.6h0m2.2-0.8h0m6.2 2.6h0m2-1.5h0m7.4 1.9h0m2.7-2.9h0m5.9 1.5h0m1.1 1h0m3.4-3.6h0m6.9 0.5h0m0.4 0.4h0m2.7 4.1h0m-52.7 1.4h0m4.2 1.9h0m6.7-1.1h0m4.1 3.4h0m1-1.1h0m5.4-2h0m0.5 3.5h0m0.4-1.7h0m5.5-2h0m0.5-0.1h0m4.7 3.3h0m5.2-1.9h0m12.8-0.5h0m-41.6 5.4h0m1.7-0.1h0m1.9 2.4h0m0.6-1h0m6.1-2.4h0m3.7-1.1h0m1.8 3.6h0m6.9-0.3h0m1-2.5h0m3.1 0.1h0m1.8 3.2h0m1.6-3.8h0m1.8 5.3h0m-42.2 4.9h0m2.5-2.9h0m0.5 1.8h0m2.4-1.3h0m4.8 0.4h0m0.5 3h0m1.5-1.8h0m0.9 1.4h0m3.6-0.4h0m2.3-3.2h0m0 2.4h0m1.1 1.8h0m4.7-3.2h0m0.4-2.2h0m8.4 4h0m4.8-2.8h0m0.5 1.1h0m1.8 1.1h0m0.3-2.8h0m1.9 1.6h0m1.3 0.1h0m15.5 3h0m-62.1 6.2h0m4.1-1.2h0m5.7-0.3h0m0.4 1.5h0m10.4-0.3h0m2-5.4h0m1.7 1.5h0m2.3 2.8h0m0.4-3.2h0m3.6 4.3h0m1.2-3.9h0m3.8-1.1h0m0.9 2.6h0m0.7-1.8h0m2.1 0.8h0m3 1.9h0m1.8 0.6h0m0.6-2.8h0m0.7-1.7h0m3.5 1.3h0m0.3 0.4h0m-60.4 5.6h0m3.4 2.5h0m9-2.8h0m8.1 3.3h0m2.3 0.8h0m0.2-5.1h0m15.8 3h0m0.5-0.5h0m0.2-0.3h0m0.7 0.5h0m0.5 1.3h0m1.4 0.3h0m0.1-3.5h0m0.2 4.4h0m0.5-0.1h0m2.9-1.3h0m4.1-4h0m0.3 1h0m1.1 1.7h0m4.2 0.6h0m1.9-0.2h0m4.8-1.5h0m2.6-1.2h0m-57.6 7.9h0m0.8 0.3h0m12.4 1.3h0m3-2.5h0m4.7-1.2h0m0.1 5.5h0m5.5-3.9h0m0.1 3.8h0m0.8-3.6h0m0.7 2.4h0m2.2-3.5h0m0 2h0m0 0.5h0m1.3 0.6h0m0.8-0.4h0m0.8-0.4h0m5.9 2h0m4.8-4.6h0m6.6 2.3h0m-53.6 7h0m10.3 1.1h0m0.3-4.2h0m0.5 0.2h0m3.7-0.7h0m0.9 0.1h0m2.7 1.8h0m0.3-0.9h0m2.3 1.2h0m3.1-1.9h0m3.1 3.6h0m1.1-2.5h0m0.2 2.4h0m0.8-0.4h0m2.2-3.5h0m0.1 0.2h0m12.6 0.7h0m2 0.4h0m2.6 0.3h0m3.9 1.9h0m1.3-2.8h0m0.7-0.9h0m2.1 5h0m-55.8 1.8h0m10.7 3.7h0m0.7-3.8h0m2.5-0.4h0m1.9 0.7h0m0.3-1h0m3.7 2.1h0m1.1 1.5h0m0.2 1.1h0m3.2-1.7h0m0.6 1.7h0m2.9 1.2h0m0-1.1h0m7.3-4.6h0m3.8 3.7h0m1.9 0.5h0m8.5-1.3h0m0.8 0.4h0m4.2-1.2h0m3.5 0.8h0m-62.6 3.8h0m7.3 3.6h0m4 1.2h0m0.3-4.6h0m2 3.5h0m3.4-0.4h0m1-0.2h0m0.8 1.3h0m0.7-4.7h0m0.2 5.2h0m0.3-3.6h0m2.5 3.4h0m3.2-3.5h0m1.6-1.9h0m2.6 5.4h0m1.3-2.5h0m2.7-2h0m0.5 3.2h0m4-1.2h0m1.1-1.6h0m2.5 3.6h0m0.2-3.1h0m0.3 0.6h0m0.7 2.9h0m2.1-5.5h0m0.6 3.6h0m-48.5 6.1h0m13.9 1.2h0m0.4-3.5h0m0.7 3.2h0m5.2-4.6h0m1 2h0m6.2-1.7h0m2.3-0.3h0m4.7 1.7h0m0.4-0.4h0m0.5-1.3h0m0.5 1.6h0m1.1 0.2h0m3-1.7h0m0.5 0.9h0m1.8 0.2h0m13.4 2.5h0m4.1-2.6h0m-54.4 7.8h0m1.4 3h0m4.9 0h0m0.6-0.1h0m1.1-1.8h0m1.6-1.8h0m0.7 2.3h0m2.2 0.4h0m1.4-3.6h0m2.3 3.1h0m0.1-1.3h0m0.6 1.5h0m2-1.9h0m5.6 0.6h0m2.6-1.6h0m0.4 0.8h0m7.5 1.1h0m6.2 0.1h0m4.4-0.5h0m-44.8 3.4h0m1.4 1.4h0m4.2 3.2h0m0.1-4.9h0m2.2 5.5h0m0.4-2.7h0m3.2 0.7h0m1.6 2.1h0m1.5-0.5h0m0.1-2.5h0m0.3 3h0m1-5.2h0m1.5 3.3h0m1.6 1.6h0m5.4-4.7h0m2.5 0.1h0m0 1h0m1.1-1.8h0m0.8 3.2h0m2-1h0m1 1.8h0m0.7-0.4h0m3.1-2.2h0m-40.2 4.9h0m2.2 3.6h0m2.7-4h0m0.2 1.6h0m0.6 3.7h0m2-5.1h0m2.7 3h0m3.8 1h0m2.6-0.1h0m0.8 1.6h0m4.8-3h0m0.1-1.6h0m6.7 1.1h0m1.5 1.7h0m3.3-1.2h0m8.3-2.4h0m-51.6 11.1h0m7.9-2.7h0m3.6 1.4h0m1.2-4.1h0m0.1 2.7h0m1.4-0.2h0m1.9 2.4h0m0.3 0h0m1.6-1.9h0m1 1.4h0m0.3-0.3h0m1.6-1.9h0m1.5 0.5h0m2.1 1.3h0m1 0.6h0m1.4-1.8h0m0.2 0.9h0m0.5-3.2h0m4.8 4.8h0m0.2-4.9h0m0.1 3h0m0.2 2.1h0m4.4-4.2h0m2 2.2h0m3.7-2.4h0m8.6 1.6h0m-45.7 7.6h0m0.1-0.7h0m4.2 0.3h0m0.1-1.7h0m0.5 1.2h0m0.9 0.4h0m2.7 1.5h0m0.4 0.3h0m0.4-2.4h0m1.3-1.2h0m3.1 0.7h0m1.1 0.5h0m0.1-1.8h0m0.7-1.1h0m0 4h0m0.2-0.1h0m5-2.2h0m1.3 0.1h0m0.3-1.3h0m10.3 0.8h0m-35.7 10.2h0m0.4-1.4h0m0.3-3.1h0m2.5 2.1h0m0.4-1.7h0m0.2 0.6h0m0.1 2.5h0m0.1 0h0m0.8-1.8h0m0.2-2.2h0m1.2 3.7h0m1.2-0.1h0m0.9 0h0m2.4-2.2h0m0.1-0.9h0m1.5 0.8h0m4.1 0.5h0m0.9 0.1h0m0.8-0.4h0m-24.6 4.9h0m5.7 3.9h0m0.2-2.8h0m1-1.1h0m0.9 2.8h0m1.4-2.5h0m2.6 1.9h0m0.6 0h0m0.8-1.6h0m6 0h0"/>
</g>
<path d="M46.8 369L160.8 229" stroke="#808080" stroke-width="2.4" stroke-dasharray="8.9 3.9" clip-path="url(#cd1)"/>
<rect x="46.8" y="229" width="114" height="140" fill="none" stroke="#000" stroke-width="2.2"/>
<path d="M46.8 369V372.2M43.6 369H46.8M84.8 369V372.2M43.6 322.3H46.8M122.8 369V372.2M43.6 275.7H46.8M160.8 369V372.2M43.6 229H46.8" stroke="#000" stroke-width="2"/>
<text x="46.8" y="383.8" font-size="14" text-anchor="middle">0.0</text>
<text x="41.4" y="373.9" font-size="14" text-anchor="end">0.0</text>
<text x="84.8" y="383.8" font-size="14" text-anchor="middle">0.4</text>
<text x="41.4" y="327.2" font-size="14" text-anchor="end">0.4</text>
<text x="122.8" y="383.8" font-size="14" text-anchor="middle">0.8</text>
<text x="41.4" y="280.6" font-size="14" text-anchor="end">0.8</text>
<text x="160.8" y="383.8" font-size="14" text-anchor="middle"><tspan class="h">1</tspan>.2</text>
<text x="41.4" y="233.9" font-size="14" text-anchor="end"><tspan class="h">1</tspan>.2</text>
<text x="103.3" y="400" font-size="11" text-anchor="middle">ER pred.  (eV)</text>
<text transform="translate(10.8 302.2) rotate(-90)" font-size="11.2" text-anchor="middle">ER label  (eV)</text>
<text x="96.5" y="344.7" font-size="11">R<tspan font-size="7.8" dy="-3.6">2</tspan><tspan dy="3.6">: 0.575</tspan></text>
<text x="96.5" y="357.8" font-size="11">MAE: 0.082</text>
<clipPath id="cd2"><rect x="217.7" y="228.2" width="114" height="140"/></clipPath>
<g clip-path="url(#cd2)" fill="none" stroke="#ffc473" stroke-opacity=".45" stroke-width="5" stroke-linecap="round">
<path d="M310.8 230h0m-9 8.5h0m1.6-3.8h0m2.3 2.1h0m1.6-0.9h0m0.4 3.9h0m0.9-0.7h0m2.1-1.7h0m0.5-2.8h0m4 3.3h0m1.8 1.3h0m-16.4 5.6h0m1.2-1.1h0m0.6 0.1h0m3.3-0.2h0m0.5-1.9h0m1.4 4h0m1.6-0.9h0m0.8-1.8h0m13.8 0.3h0m-34.2 3.1h0m4.6 4.4h0m2-0.8h0m0.9-2.8h0m0.4-0.7h0m0.2 0.4h0m0.6 1.6h0m0-2.5h0m2.4 1.8h0m0.9 1.4h0m2.7-2.8h0m0.5 3.5h0m1.5-2.6h0m0.2-0.7h0m0.5 0h0m5 0.9h0m-22.6 9.1h0m2.2 0.5h0m2.8-3.6h0m1 0.1h0m1 0.6h0m2.9 1.9h0m0.6-1.1h0m0.4 0.7h0m3.6-3.7h0m2.2 1.4h0m0.3 4.5h0m0.3-2.5h0m0.8-2.9h0m0.4 3.4h0m0.5-0.8h0m2.4-2h0m1 0.2h0m0.3-0.2h0m-32.8 9.5h0m9.1 0.9h0m1.7-3h0m3 0.4h0m0.6 2.6h0m0.3-1.7h0m2.6 0.5h0m2.4-0.5h0m0.3-2.8h0m0 2.8h0m0.9-2.1h0m2.7-0.7h0m5.8 0.1h0m-22.4 9.4h0m0.3-4.1h0m1 3.7h0m3.6 0.6h0m2.1 0.5h0m0.4-1.7h0m3.9 1.8h0m0.9-4.4h0m1.3 3h0m1.6-0.4h0m3.2 1.9h0m-24.6 1.3h0m0.2 4.1h0m2.2-1.9h0m2.2-1.7h0m0.9 4.3h0m1.5 0.4h0m0.1-1.6h0m0.8-2.2h0m0.6-1h0m0.1 0.7h0m2.7-0.5h0m0.3-1.3h0m0.1 4h0m0.1 0.5h0m0.7-2.1h0m2.7 1.1h0m1.7-1.2h0m0.2-2.3h0m0.5 3.5h0m-19.1 4.9h0m0.1 3.3h0m0.3 0h0m2.5-1.9h0m0.8 0.9h0m0.5-2.5h0m1.3 2.8h0m0.8 0.6h0m0.8-0.6h0m0.6-0.3h0m3-3.4h0m0.6 2.3h0m4.3 1.2h0m0.5-4.5h0m10.5 0.6h0m-30.6 8.4h0m0.8 1.6h0m3.6-3.6h0m3.4 3h0m1.3 1.6h0m2.1-3.3h0m0.4 0.3h0m1-0.4h0m0.3 2.4h0m1.8-2.5h0m4.6 1.1h0m1.2-2.3h0m0.5 0.7h0m2.1 1.8h0m-28.1 2.3h0m2.4 2.9h0m0.8 1.1h0m0.9 0.2h0m3.7-0.8h0m2.3-0.6h0m0.2 0.8h0m0.2-1.2h0m2.4 0.5h0m2 2.1h0m-25.1 6.6h0m9.1-0.1h0m1-2.9h0m3.4 3.3h0m1-1.6h0m0.7-3.5h0m0.4 3.4h0m0 0.3h0m0.5-3.3h0m2.4 4.4h0m0.7-2.8h0m2.4 0.9h0m0.4-2.3h0m0.4 3.2h0m7.4-2.7h0m0.2-1.8h0m-28.8 7.5h0m3.5 1.8h0m1.9 0.2h0m1.9-2h0m1.9 2.6h0m3.2 0.3h0m0.8 1.3h0m1.3 0h0m0.4-5.5h0m0.3 3.2h0m0.4-3.5h0m0.6 4.4h0m0.1-3.8h0m1.2 1h0m1.8 2.8h0m9.2 0.6h0m-24.1 4.1h0m2.1-0.4h0m0.3 0.6h0m0.6-1.3h0m0-0.7h0m0.2-0.4h0m0.7 1.1h0m0.5 1.6h0m0.9-2.8h0m0.1 2.4h0m0.4-1.9h0m0.8-0.7h0m0.5 3.7h0m0-3.9h0m2.6 2.9h0m7.8-2.1h0m2.3 1.2h0m1.6 0h0m-30.3 5.9h0m0.1 2.5h0m8.7-2h0m1.8 0.2h0m1.4 2.2h0m0.5-3.4h0m0.1 2.4h0m0-4.2h0m5.5 4.1h0m2.5-1.3h0m5.8-1.5h0m-35.7 10h0m0.5-1.1h0m0.9-0.5h0m8.4-3.4h0m0.9 4.1h0m1.3-1.9h0m0.3-1.5h0m0.8 2.3h0m2.1-3.3h0m0.2 1.4h0m0.5 1h0m0.4 2.5h0m1.5-0.9h0m2.1-0.4h0m1.6 2.3h0m1-4.5h0m4-0.3h0m2.9 0.9h0m5.2-1.1h0m-39.3 8.2h0m5.3 0.2h0m4.2 0.5h0m0.1 1.1h0m2.2-3.6h0m0.6-0.8h0m3.6 1.8h0m0.8 1h0m6.4-2.7h0m0.9 0.4h0m2.1 2.3h0m1.7-2.1h0m-31.8 10h0m9-1.1h0m3-3.8h0m1.4 1.2h0m4.1 0.6h0m3.6-0.8h0m0 4.5h0m2-3.9h0m3.8-0.8h0m-27.7 7.9h0m3.8 0.2h0m0.7-2.2h0m0.4 3.4h0m0.5-2.8h0m2.6-1.5h0m1.4 0.1h0m1-0.1h0m0.4 4.9h0m0.4-4.9h0m1.4 4.2h0m0.5-3.4h0m0.3 4.7h0m1.5-4.3h0m0.9 0h0m2.2 0.4h0m-21.1 8.1h0m7.9 1.8h0m0.1-3.6h0m1.3-1.6h0m0.1 1.2h0m0.3 0.1h0m-7.1 8h0m2.9 1.8h0m1.8-4h0m0.3 0.9h0m-14 6.2h0m2.5 2.7h0m8.3-5.3h0"/>
<path d="M301.6 239.8h0m0.6-0.6h0m0.9-2.3h0m1.6 1.6h0m7.7-4.2h0m5.7 3.7h0m1.4 0.9h0m0.8-1.2h0m-26.9 6.6h0m3.8-4.3h0m0.3 4.1h0m1.2 0.8h0m3.1-1.1h0m0.7-0.5h0m0.4-2.1h0m0.8 2.5h0m2-1.7h0m1.8 2.2h0m0.2 0.3h0m1.5-3.6h0m0.2 4.7h0m2-1.5h0m6.2 1.3h0m1.7 0.1h0m-19.9 3.2h0m0.9 3.2h0m1.4-0.4h0m0-1.3h0m3.4-3.5h0m0.1 3.2h0m0.4 0.8h0m0.2-2.4h0m2.7 3.5h0m0.9-4.7h0m-22.5 5.2h0m8.2-0.1h0m1.1 2h0m0.9-1h0m1 2.8h0m4.8-0.6h0m1-0.7h0m0.3 0.2h0m1.2-2.5h0m1.5 0.2h0m4.1 0.2h0m-23 6.5h0m3.5 2.4h0m0 0.6h0m2.1-3.1h0m1.2 3.6h0m0.8-2.1h0m0-1.2h0m0.8 0.5h0m1.2 3h0m2.3 0.3h0m0.3-2h0m0.8-0.2h0m0.1 0.4h0m0.2-2.8h0m0.4 4h0m0.6 1.1h0m1.8-5.2h0m1.3 4.8h0m0.6-0.8h0m0.5-3.5h0m0.1-1.1h0m0.9 1h0m1.9 0h0m-29.3 10.6h0m3.1-3.5h0m2.9 1.5h0m0.9-1.3h0m0.2 3.2h0m0.3-3h0m2.3 1.1h0m0.6 1.4h0m1.2-2.1h0m0.7-1.4h0m5 3.7h0m0.1-4.8h0m1.3 1.9h0m3.9-1.4h0m-11.8 7.5h0m1.4-1.1h0m1 1.3h0m0.9-1.1h0m0.6 3.5h0m0.7 0.2h0m0.9-3.9h0m0.1 2.6h0m0.7-1.4h0m0.1-1.9h0m0.2 0.3h0m0.6 1.7h0m4.9 2.2h0m1-3.2h0m2.7-0.7h0m-28.9 6.1h0m2.2 3.9h0m0.9-4.9h0m2.2 5.9h0m1.9-1.8h0m0.8 0.3h0m1.1 0.6h0m0 0.1h0m0.5-3.5h0m0.6 2.1h0m0.6 1.1h0m0.3 0h0m2.4-4.7h0m0 0.4h0m0.4 0h0m4.7 4.9h0m5.6-4.1h0m-30.5 4.8h0m3 3.5h0m6.1 2h0m0.3-3.7h0m2.5 1.7h0m1.2-2.8h0m0.8 1h0m2.5 0.5h0m0.6 3.4h0m0.9-4.7h0m2 0.4h0m7.6-0.2h0m-26.9 8h0m3.1 2.5h0m0.4-5.1h0m0.5 3.5h0m0.6-2.1h0m0.3 1.5h0m0.2-1.3h0m1.1 2.5h0m0.6 0.1h0m0.4-0.1h0m0.5-0.8h0m1.5-3.4h0m0.4 2.2h0m0.2 2.8h0m1.1-4.4h0m2.3 2.7h0m3.9-2.2h0m2.3 0h0m-30.6 6.7h0m3.4-2h0m0.1 3.4h0m3.8 0.1h0m1.8-2.6h0m2.4 0.3h0m2.4-0.9h0m2.5 1.9h0m3.5 3.1h0m0.8-3.5h0m2.6-1.5h0m0.1 0.9h0m2.5-0.4h0m3.2 0.7h0m4.2 0.8h0m2.1 1.3h0m-32.7 3h0m3.1 3.2h0m1.9-2.2h0m0.2-1.8h0m0.7 0.5h0m0.9 3.7h0m0.3-0.5h0m0.3-0.5h0m1.2-2.4h0m0.3 3.9h0m2.6 0.8h0m0.2-4.6h0m1.7 2.5h0m5.6 1.7h0m3.3-3.7h0m5.7 0.6h0m-35.9 9.8h0m8.2-0.5h0m2.4-3.4h0m1 1.1h0m2.4 0.3h0m0.2-2h0m1.3 3.2h0m1.9-2.1h0m1.9 2h0m1.8-3.1h0m0.7 4.4h0m1.9-1.9h0m0.1-2.5h0m0.2 3.1h0m0.3 0.8h0m0.9-2.9h0m2.2 0.4h0m-29.1 7.3h0m1.6-0.2h0m3.3 0.9h0m3 0.7h0m0.2-2.3h0m0.8-0.6h0m1.9-0.7h0m0 3.1h0m2.4-0.7h0m0.4-1.6h0m2.7-0.9h0m2.1 1.5h0m0.4-0.8h0m0.7 0.7h0m2.5 0h0m2.1-2.8h0m-27 5.9h0m8.5 0.9h0m0.3 2.7h0m2.6 0.5h0m0.1-3.8h0m0.7 2.3h0m1.2-1h0m6.5 1.8h0m3.6 0h0m5.8 1.4h0m-33.7 2.3h0m3 0.2h0m5.9-0.7h0m0.1 2.3h0m3-0.8h0m0.5 3.4h0m0.9-0.4h0m0.5-4.6h0m2.8 1.2h0m0.2-1.2h0m2.3-0.8h0m2.1 1.6h0m0.9-0.9h0m0 1.3h0m1.5 2.5h0m2.3 0.9h0m-30.4 3.5h0m3.3 1.1h0m0.4-0.8h0m1.9 2h0m1.2-0.9h0m2.4-1.1h0m0.6-0.5h0m0.3 3h0m1.7-1.3h0m0.7 0.8h0m1.2-0.7h0m5.2-3.3h0m1.5-1.1h0m2.2 0h0m-20 8.6h0m1.7 3.2h0m0.2-3.8h0m5.5-1.2h0m0.8-0.4h0m1.6 0.7h0m2.1 2.8h0m2.4-4h0m0.3 0.9h0m-25.2 9.2h0m4.6-1.8h0m1.6-0.2h0m1.5-0.1h0m0 1.6h0m0.6-0.4h0m1.5 0.4h0m0.9-2.6h0m1.8 3.1h0m1.7-0.9h0m0.5 1.6h0m1-1.4h0m-15.4 5.2h0m2-0.6h0m0.4-1.5h0m0 4.7h0m4.5-3.2h0m2.1 2.2h0m2.7-3.5h0m-10.9 6.5h0m3.2 1.6h0m3.5-1.7h0m-11 6.7h0m6.3 0h0"/>
<path d="M307.8 228.3h0m16 4.5h0m-19 4.2h0m1.5-0.1h0m2.1-0.7h0m0.4-1.3h0m0.6-0.4h0m0.4 2.5h0m0.2-0.1h0m1.7 2.4h0m0.9-3.4h0m0.4 1.3h0m4.1-1.3h0m0.1 4h0m-15.3 2.9h0m0.6 1.9h0m0.3 1h0m0.1-4.8h0m0.2 2.7h0m0.5 1.1h0m0.6-2.2h0m1.2 0.6h0m0.2-1.5h0m0.6-1.6h0m2.6 0.7h0m1.7 1.6h0m1.3-0.3h0m1.1 0.5h0m-16.9 6.9h0m2.2 0.6h0m0.8 1.2h0m1.1-4.5h0m1.3 0.6h0m0 2.3h0m1.8-0.7h0m0 2.8h0m0.6-1h0m0.1-1.5h0m0.3-1h0m2.5 1.9h0m0.6 1.5h0m2.7-3.5h0m1.7 0.9h0m3.8-2.8h0m0.4 5.5h0m-25.5 4.8h0m1.2-1.3h0m0.5 2.5h0m1-4.4h0m3.3 3.3h0m3.7-2.4h0m1 1.6h0m0.4-0.5h0m0-1.1h0m3.5 2.4h0m1.6-1.1h0m0.6-2.3h0m0.5 1.7h0m0.6-0.8h0m2.6-1.1h0m0.5 1.3h0m2-1.8h0m0.5 4.2h0m4.1-2.3h0m-32 8.2h0m1.1-2.8h0m0.9-0.4h0m1.4 4.1h0m3.2-3.1h0m2.6 2.6h0m0.4-0.7h0m0.6-0.2h0m1.1 0.4h0m0.3-2.7h0m0.2 2.4h0m1.8 1h0m0.3 0.5h0m0-2.8h0m0.9 2.6h0m0.2-5.4h0m1.5 4h0m2.7-2h0m4.9-0.3h0m4.4 2.3h0m3.3 0.8h0m-35.6 5.6h0m3.8 1h0m1.7-0.9h0m2.2 0.1h0m1.4-2.9h0m1-0.7h0m0.8 0.7h0m0.2-0.2h0m0.4 1.4h0m3.5 0.1h0m0.1-0.9h0m0.5 2.7h0m1-4.8h0m1.7 0.8h0m0.1-0.5h0m0.1 2.3h0m4.3-0.6h0m-22.8 8h0m0.5-1.8h0m3 2.9h0m1.1-4.9h0m0.7 4.9h0m0.8-3.3h0m2.3 2.9h0m1 0.2h0m1.3-0.1h0m2.6-4.7h0m1.1 4.7h0m0.4-4.9h0m0.9 4.3h0m0.7 0.5h0m1.1-0.9h0m2.7-1.1h0m1.6-1.2h0m-33.8 9.8h0m7.1-2h0m7 1h0m1.7 0.1h0m0.7-3.9h0m0.4 0.7h0m1 0.4h0m1.5 0.7h0m0.9-1.3h0m1.1 0.3h0m1.2-0.9h0m1.3 3.4h0m1 1.3h0m1.5-3.2h0m-21.8 8h0m0.3 1.7h0m1.7-3.9h0m3.8-0.3h0m0.6 1.7h0m0.2 2.4h0m0-4.3h0m0.7 3.2h0m0.1-1.7h0m0.8 2.5h0m6.7-3.9h0m2-0.8h0m2.3-0.1h0m4.9 3h0m-28.1 3h0m0 3.9h0m1.9 0.9h0m1.4-2.1h0m3.5-1.3h0m0.3 0.6h0m0.1 0.1h0m2.1 0.2h0m1.1 1h0m1.4-2.5h0m0.1 3h0m3.7 0.4h0m0.1-3.4h0m0.8 0.6h0m0.6-0.3h0m2.7 3.2h0m-23 3.9h0m1.6 2.6h0m5.3-2.1h0m0.1 2.3h0m3.8-4.2h0m0.4-0.2h0m0.5-0.8h0m3.8 1.4h0m0.2-0.9h0m1.2-0.7h0m4.2 0.6h0m1.3 4.2h0m-26.4 6.4h0m1.4-5h0m3.9 3.5h0m1 1.3h0m0.1-1h0m0.7 0.8h0m0.1-4.7h0m0.6 4.1h0m0.3-0.8h0m0.8 0.5h0m1-1.5h0m0.1-1.5h0m2.2 0.8h0m0.4 2.6h0m0.9-1.4h0m0.4 1.2h0m1.9 0.8h0m2.9 0.6h0m0.6-3.7h0m4 1.8h0m0.4-3.3h0m-28.6 11.4h0m3.6-0.6h0m0.3-0.4h0m1.9-0.7h0m0.7-1.5h0m0.3 3.1h0m1.2-2.8h0m0.4-2.2h0m1.9 2.4h0m1.8-0.5h0m0 3.2h0m0.5-0.1h0m4.4-0.4h0m0.1-2.2h0m1.3-3.1h0m2.8 5.6h0m5.5-0.9h0m-17.7 3.5h0m4.1 3h0m1-1.9h0m1 1h0m0.6-0.6h0m1-0.4h0m1.5 1.5h0m0.7-2.5h0m0.7-1.5h0m-23.6 6.2h0m1.5 3.6h0m0.9-0.9h0m0.1 1.8h0m1.5-0.8h0m6.1 0.9h0m0.8-0.6h0m0.8-2.8h0m0.2-2h0m0.5 3.8h0m1.4-2.4h0m0.8 2.2h0m0.7-1.3h0m1.8 0.8h0m0.1-3h0m1.3 3.2h0m1-2.3h0m3.9 2.3h0m0.5 1.1h0m-37.2 4.8h0m4.5 2.5h0m2.8-5.3h0m5.6 0.7h0m4 0h0m0.8 2.3h0m0 1.6h0m1.8-3.3h0m1.6-0.9h0m1.1 1.9h0m2-1h0m3.9-0.6h0m3.3 0.5h0m12-1.5h0m-45.6 8.3h0m10.4-0.4h0m0.7 2.7h0m2.5-3.6h0m3.7-0.5h0m1.1-0.4h0m0.1 3.5h0m2.3-2.1h0m3.8-1h0m-24.9 9.7h0m1.3-1.8h0m0.2 3.2h0m3-2h0m2.2 1.6h0m3.7 0.1h0m0.6-2.6h0m0.8 0.3h0m1.3 0.5h0m0.8-3.2h0m0.8 3.3h0m3.7-2.6h0m3.6-0.3h0m1.8 0.9h0m-20.7 4.1h0m1.9 4.1h0m6.1-2.6h0m1.5-1.3h0m-19.8 9.2h0m1-2.2h0m3.3 4.7h0m0-1.1h0m1.9-2.3h0m3.4 0.6h0m-2.3 5.2h0m3.8 0.4h0"/>
<path d="M308.6 231.3h0m1.1-1h0m-7.1 6.3h0m0 0.9h0m3.5-2.8h0m1.9 1.1h0m4.6 2h0m-16.8 2.8h0m4.6 1.9h0m2 0.1h0m4.2 3.3h0m1.8-5.6h0m1 1.7h0m0.7 3.5h0m1.9-4.3h0m3.1 0.6h0m-17.2 6.2h0m1.9 1.8h0m0.4-0.7h0m2.5 0.5h0m1.3-2h0m0.2 0.2h0m0.8-0.2h0m0.6-0.5h0m0.5 4h0m0.1-3.5h0m4.5 0.3h0m3.7 0.7h0m-33.8 4.1h0m7.2 4.1h0m5.2-2.1h0m2.9-2.3h0m0.9 0h0m0.7 0.9h0m0.1 1.7h0m0.5-2.5h0m3 4.4h0m3-1.4h0m1.5 0h0m1.8 1.1h0m0.3-2.7h0m5.5-1.4h0m8.1 0.1h0m-31.8 9.6h0m0-2.7h0m2.2 4.3h0m0.6-0.5h0m0.9-4.5h0m1.8 4h0m1.1 0.9h0m0.4-4.3h0m3.6 0.3h0m0.3 2.5h0m1-2.6h0m0.8 2.4h0m1-2.2h0m0.1 3.8h0m1.5-4h0m2.5 0.7h0m-25.2 3.7h0m7.6 0.5h0m0.5 2.1h0m1.3 2.2h0m1.6 0h0m1.9 1.1h0m1.3-0.9h0m1.7 0.8h0m2.6-3.2h0m0.7-1.3h0m2.4-0.3h0m1.4 3.2h0m3.2 0.8h0m-27.2 4.7h0m1.3-1.4h0m0 3.3h0m2.3-5.1h0m3.5 3.2h0m1.9-2.8h0m3.1 3.3h0m1.2-1.4h0m0.5 2h0m1.5-3.6h0m0 4.6h0m5-4.8h0m-31.1 9.8h0m8.9-3.9h0m0 0.6h0m4.6-1.4h0m0.1 2.7h0m0.2-0.1h0m1.7 2.6h0m1-4.4h0m0.8 3.8h0m0.8-2.1h0m0.5 0h0m0-1.8h0m3.1 0.9h0m0.9 3.6h0m1.9-3.3h0m1.4 2.6h0m0.9-1.7h0m1.3-2.3h0m-27.8 9.4h0m1.6 1.6h0m6.7-4h0m1.2-0.7h0m0.7 2.2h0m2.2-0.7h0m0.3-2.4h0m0.2 0.7h0m0.2 3.9h0m0.8-4.6h0m1.6 5.7h0m0.4-0.4h0m0.6 0.2h0m0.4-4.4h0m0.1-0.9h0m0.4-0.1h0m-21.5 10.5h0m2.1-1.2h0m4.1 0.8h0m2.3-2.2h0m0.7-0.1h0m3.4 2.2h0m1-3.4h0m1.1 0.9h0m0.1-0.5h0m0.5 1.1h0m0.9-0.3h0m0.4 1.2h0m2-2.7h0m2 1h0m0 3.2h0m0.4-2.8h0m1 0h0m2.6-1.7h0m3.1 5.4h0m-37 1.1h0m13.7 2.5h0m1.1 1.8h0m0.5-3.3h0m1.8 3.3h0m1.6-3.4h0m2 2.8h0m1.9-4.1h0m2 2.6h0m0.3 1h0m2.4-0.5h0m0.5-2.4h0m0.7-0.5h0m2.7 1.6h0m4.6 0.9h0m-33.8 5.6h0m1.1-0.1h0m1.2 0.7h0m2.8-0.2h0m1-0.5h0m5.2-1.8h0m1.5-0.2h0m0.8 1.7h0m0.5 1.8h0m9-0.8h0m0.8-0.4h0m2.5-1.6h0m1.2-0.2h0m0.6 3.3h0m-28.4 7.6h0m1.3-5.3h0m3 2.7h0m1.2 2.6h0m1.2-0.4h0m1.4-3.1h0m1.5 0.1h0m0.6 0.5h0m2.7 2.5h0m0.3-1.9h0m0.2 2h0m0.6-5.5h0m1.6 3.7h0m0.2 1.5h0m0.8-2.7h0m0.6-0.4h0m0.5 1h0m0.4-1.8h0m-29 5.7h0m6.5 4.5h0m2.6-1.6h0m4.8 1.1h0m0.8-2.9h0m1.3 1.9h0m3-1.1h0m1.6 0.4h0m1.9-3.3h0m2.8 3.2h0m2.7-0.1h0m1.1-1.7h0m-21.8 8.9h0m1.2-0.5h0m1.4-2.8h0m0.5 0.8h0m0.4 2.4h0m1.5-3.2h0m0.7 0.5h0m3.5 1.4h0m0.1-0.4h0m2.7-2.3h0m-24.5 10.1h0m6-3.9h0m1.6 3.8h0m3.3-1.4h0m2.1 0.1h0m1.1 3h0m0.2-2.3h0m1.3-3.4h0m0 2.8h0m0.4-0.7h0m0.2 1.8h0m1.4 1.4h0m0.4-2.9h0m1.2-0.4h0m0.5 3.4h0m0.7-3.4h0m2.7 3.1h0m1.1-2.5h0m19.1-2.2h0m-41 11.3h0m7.3-4.3h0m0.5 1.1h0m0.1-0.8h0m0.4 0.8h0m3.1 2h0m0.7-4.4h0m0.2 0.8h0m0.9 2h0m0.1-3h0m1.4 3.1h0m0.1 0.5h0m0.9-3.4h0m1.2 1.1h0m2.9-1.2h0m4.1 0.2h0m-27.9 7.7h0m4.2 2.7h0m0.8 0.8h0m1.3-4.5h0m0.8 0.7h0m1.2 0.4h0m0.3 1.5h0m1.5-2h0m0.3 1.4h0m2.4-3h0m1.5 2.6h0m-16.6 7.9h0m1.1-0.1h0m0.5-4.3h0m0.6 1.3h0m1.8 4.2h0m0.2-3.9h0m0.5 2.6h0m2.1-1.5h0m0.3-1.8h0m3.1 0.4h0m2.8 1.1h0m-18.5 7.1h0m1.1 1.4h0m5.4-4.2h0m0.4 3.4h0m3-4.1h0m-10.9 9.1h0m4.8-3.3h0"/>
<path d="M303.9 232.3h0m4.8-1.2h0m1.2-1.7h0m1 0.3h0m1.9 0h0m-15.8 6.1h0m7 3.9h0m0.8-5.5h0m3.7 3.9h0m1.3-2.5h0m1.8-0.6h0m-7.7 9.7h0m0.5-2.4h0m0.4-1.8h0m0.2 0.4h0m3 4h0m0.7-1h0m9.2 1h0m-22 5.8h0m5.4-1.4h0m1.2 1.2h0m1.7 0.3h0m0-3.3h0m5.1 1.7h0m3-1.6h0m0.3 3.1h0m0.4-3.3h0m7 0.8h0m1.2 3h0m-27.3 6.6h0m3.9-5.7h0m1.4 1.6h0m1.7 1.4h0m0.2 2.5h0m1.7-3.5h0m2.5 2.6h0m2.7-3.6h0m2.1-0.9h0m1.1 4.3h0m-24.3 7h0m6.2-0.8h0m0.8-0.6h0m3-3.4h0m0.9 2.4h0m0.6-0.1h0m0-2.6h0m0.2 2.6h0m2.1 0.4h0m0.8 0.6h0m3.6-2.6h0m1.3 4.1h0m2.1 0.2h0m8.4-0.4h0m-33 1.5h0m2.1 0.9h0m0.5 3.6h0m0 0.1h0m2.3-0.4h0m3.6-1.2h0m2.5-2.9h0m1.7 0.8h0m2.6 0.2h0m3.8-1.6h0m0.7 0.4h0m0.4 3.3h0m3.4 1.5h0m0.1-2.2h0m1.5 0.2h0m-30.1 8.1h0m5-5.2h0m5.1 0.5h0m0.2 0.1h0m3.6 0.6h0m2.6 0.3h0m0.2 1.3h0m0.1 2.7h0m2.9-4h0m2.1 2.2h0m2.7-3.3h0m5.2 4.6h0m-34.5 4.5h0m3.9-2.5h0m0.6 3.1h0m1.6-4.4h0m2 4h0m2.8 1h0m1.1-3.9h0m0.1 3.5h0m0.1-3.2h0m0.9-0.5h0m6.9 0.9h0m3.8 3.3h0m0.8-0.9h0m-26.5 5.4h0m4.1-2.8h0m3.5 4.7h0m1.5-2.9h0m4.1 2.9h0m2.1-2.8h0m0.9-1.6h0m1.3 4.6h0m3.4-5.4h0m9.2 5.5h0m-41.3 4.4h0m11-3.4h0m1.3 0.4h0m1 1.3h0m0.5 0.8h0m0.2-0.2h0m1.1 2.5h0m0.1-2.7h0m1.9-3h0m1.4 1.6h0m0.4-0.1h0m0.5 2.3h0m1.2-2.5h0m1.7-0.4h0m0.3-0.9h0m0.1 4.9h0m1.3-1.2h0m0.2-2h0m0.4-0.6h0m2.2 4.1h0m0.5-4.1h0m7 1.5h0m-24 4.5h0m3.1 1.5h0m0.5-0.5h0m0.4 0.2h0m0-2.2h0m6.8 3.5h0m0.3-3.2h0m2.7 3.4h0m1.3-3.6h0m-21 11.5h0m3.8-2.2h0m0.2-2.2h0m0.2 3h0m0.3 1.1h0m1-0.7h0m0.8-2.1h0m0.3-0.2h0m1.3-1.7h0m5.4 3.7h0m3.1-0.7h0m0.9-3.4h0m0.5 4.5h0m2.5-1.4h0m0.6 2.2h0m6.5-4.5h0m2.3 1.4h0m-36.5 3.6h0m3.6 5.6h0m5.3-2.8h0m0.5 2.2h0m1.2-2.9h0m4.2-0.2h0m0.6 0.2h0m0.5 0h0m1.5 0.9h0m0.2 2.6h0m0-4.4h0m2.1 3.4h0m0.4-3.9h0m0.3 1.5h0m1.2-0.5h0m1.5-0.9h0m-29.1 11h0m1.3-5.4h0m0.2 0.5h0m1.4-0.3h0m3-0.7h0m1.2 4.3h0m1.4-0.7h0m1.5 0.9h0m2.3-0.1h0m0.6-3.9h0m0.3 4.5h0m0.2-1.9h0m0.5 2.2h0m0.8-4.3h0m0.3 0.5h0m0.4 3.8h0m0.4-0.7h0m1.3-0.6h0m0.6 0h0m0.6-4h0m1.7 1.8h0m2.1 2.8h0m0.3-0.4h0m0.4-3.6h0m0.5 3h0m-23.8 4.5h0m0.2 0.1h0m1.8 2.9h0m4.8-5h0m0.9 3h0m2.4 2.3h0m0.8-3.4h0m0.1 1.9h0m3.9 1.7h0m5.4-3h0m-17.9 9.2h0m1.7-1.9h0m1.9-0.4h0m1.1-0.8h0m0.6-2.2h0m2.1 1.2h0m1.5-0.1h0m3.3 1.5h0m2.6 0.8h0m-23.9 5.7h0m2.3-1.6h0m0.5-1.2h0m0.8 1.2h0m1.6 0.5h0m0.8 1.2h0m0.6-3.7h0m1.2 1.7h0m0.3 1.8h0m0.2-3.4h0m0.9 3.7h0m0.6-3.4h0m1.3 2.1h0m0.3-2.2h0m0.2 5.4h0m0.5-5.4h0m0.4 3.3h0m1.9 1.7h0m0.7-1h0m2.1-3.1h0m4.8-0.7h0m-21.7 10.3h0m1.6-3h0m1.2-1.6h0m0.5 0.1h0m0.4 2.4h0m0.4 2h0m0.1-2.1h0m0.1 2.1h0m0.5-4.4h0m3 4.4h0m2.5 0.1h0m-18.7 4h0m2.4 2.9h0m3.1 0.1h0m4.5-2.7h0m2.8-1.3h0m-16.7 6.6h0m0 2h0m12-2.2h0m-10 4.2h0m4.8 1.7h0"/>
<path d="M309 229.7h0m8.9 3h0m0.4-1h0m-27.3 7.8h0m4.7-3.7h0m3 1.7h0m8.5 0.9h0m0.9-2.7h0m0.9-0.3h0m0.1 3.8h0m3.3-2.4h0m0.4 1.2h0m1.5-1.9h0m1.6 0.8h0m7.8 1.2h0m-25.8 4.8h0m4.9-0.4h0m0.6 0.9h0m3.2-1.9h0m1.4 1.6h0m0.2-2.3h0m1.5 3.8h0m4-1.6h0m0.5-1.1h0m-23.7 6.7h0m5.7 0.3h0m0.3 0.3h0m1.4-2.6h0m1 4.4h0m0.3-1h0m1.9-3.8h0m4.2 0.5h0m1.1 0.1h0m0.6 0.8h0m0.7 1h0m0.9 1.5h0m0-1.5h0m0.6-0.2h0m0.4-2.3h0m2.7 5.2h0m0.2-4.8h0m1.2 0.1h0m1 0.6h0m0.4 2.4h0m4.5-3.3h0m-31.8 11.6h0m0.3-2.7h0m4.3-2h0m2.1 0.7h0m2 3.7h0m1.8-0.5h0m0-1.4h0m1.9-1.7h0m0.8-0.9h0m0.3 1.4h0m1.5-0.3h0m0.7 2.4h0m2.8-0.5h0m2-2.3h0m0.2 1.9h0m5.6-0.6h0m2.8 1.6h0m-29.3 4.4h0m1.4-0.1h0m0.6-0.3h0m0.8 2h0m0.6-2.6h0m0.4 1.6h0m3.7-2.2h0m0.8 3.5h0m4.3-3.8h0m0 3.2h0m0.7 0.4h0m8.2-2.7h0m2.3 1.3h0m-27.8 3.7h0m0.2 3.4h0m6.3-0.3h0m3.4-0.5h0m1.5 1.8h0m0.1 0.1h0m0.5-3.6h0m1.7 2.1h0m0.4-4h0m1.2 1.3h0m0.6 1.1h0m4.6-1.6h0m0.6 1h0m0.9 2.6h0m2.5-3.7h0m2.3 0.7h0m0.5 1.5h0m-34.5 7.9h0m3.2-1.5h0m4.3-2.9h0m3.4 0.1h0m0.3 1.4h0m1.8 2.8h0m2-0.4h0m0.3-2.8h0m1 3.4h0m0.6 0.9h0m1.1-0.1h0m2.4-5.1h0m0.6 4h0m2.7-1.5h0m0.5-2.1h0m4.9 3.2h0m0.2 1.3h0m0.5-4.3h0m-30.9 7.1h0m4.4-1.7h0m2.1 1.3h0m0.9 1.1h0m0.8 2.5h0m1.3 0h0m3.4-4.5h0m3.5 4.8h0m1.3-2.3h0m3-2.4h0m1.1 1.6h0m0-1.6h0m-34 9.1h0m10.6-0.2h0m2-2.9h0m0.6 1.7h0m2.1-1.8h0m4.1 0.8h0m0.2 2.3h0m1.5-1.1h0m3.7-0.7h0m1.7 0.4h0m0.6-0.2h0m0 2h0m2.3-1.5h0m3.6-0.2h0m-25.6 6.5h0m1-0.1h0m5.3-0.1h0m2.2-1h0m1.7-2h0m0.2 3.2h0m0 1.2h0m0.3-3.3h0m0.4 1.2h0m0.2 2.3h0m1.8-1.2h0m0.1-3.5h0m2.6 2.7h0m0.5-0.2h0m1.6 0h0m-24.1 9h0m8.8-2.1h0m1.9 2.4h0m1.6 0h0m1.2-2.3h0m1.4-3.4h0m1.9 1.9h0m5.7-0.7h0m0.9 3.3h0m4-4.4h0m-29.5 8.5h0m2.8-2.7h0m1.5 2.2h0m0.4 0.7h0m1 0.6h0m0.1-2.8h0m0.4 3h0m0.9-1.6h0m2.1-1.6h0m3.2 1.6h0m0.4 1.5h0m0.8-2h0m0.7 1.4h0m0.8-1.5h0m0.7-1.2h0m4.5 0.4h0m1.7 1.5h0m-29.1 8.6h0m7.4 0.5h0m2.1-3.8h0m1.5 1.5h0m1.5-1.8h0m0 2.9h0m1.5-3.5h0m2.4 1.7h0m1.2-1.1h0m0.5 1.3h0m0.3-2.5h0m0.1 3.9h0m2-3.5h0m0.4 5.2h0m0-2.9h0m0 0.5h0m2.3-2.9h0m-22.8 9.1h0m0.9 1.5h0m1-3.4h0m4.2 1.6h0m0.5 2.6h0m2.9-3.3h0m0.1 2.1h0m0.8-4h0m0.2 4.4h0m3.8-5h0m1.4 5.7h0m1-4h0m3.7 3.2h0m-17.1 1.6h0m2.7-0.3h0m0.5 4h0m0.1 1.1h0m1.6-3.7h0m0.2 0.6h0m0.1-1.3h0m0.3 4.6h0m1.2-0.5h0m0.1-1.3h0m0-2.4h0m1.6 3.3h0m3.4 0.4h0m5.2 0.5h0m-24.8 4.9h0m0.1-3.5h0m0.2 2.3h0m0.2 0.9h0m1-2.6h0m2.6-1.2h0m0.5 5h0m0.1-2h0m0.1-0.7h0m0.5 2.8h0m0.5-1h0m4.5-1.3h0m0.4-2.9h0m0.6 0.5h0m1.1 3h0m1.4-3.3h0m0.8 3.1h0m-24.2 8.3h0m2.5-5.3h0m2.5 4.9h0m0.2-4.1h0m2.4 1.5h0m2-2h0m0.1 3.4h0m0.3 0.9h0m1-4.8h0m0.2 1.3h0m1.5 2.3h0m2 0.4h0m2.6-1.4h0m1.8-2.6h0m-22.9 7.1h0m5 3.3h0m1.2-1.3h0m1.4-1.2h0m1.8 1.5h0m0 1.6h0m1-5.3h0m0.3 1.2h0m0.4-1.2h0m1.2 1.9h0m2.4-1.7h0m1.2 2.9h0m2.2-1.5h0m1.2 2.8h0m0.8-4.1h0m-20.7 9.9h0m0.3-1.8h0m3.3 1.1h0m0.5 0.9h0m3.6-4.3h0m0.6 3.1h0m0.7-1.2h0m0.9-0.6h0m0.3 2.6h0m0.1-3.1h0m6.9 1.5h0m-25.3 4.2h0m6 3.3h0m0.3 0.4h0m0.3 1.2h0m0.5-1.8h0m2.6-0.8h0m2.4 1.1h0m0.4-2.8h0m9.3-1.2h0m-22.3 6.4h0"/>
<path d="M303.2 229.8h0m6.4 1.6h0m1-2h0m2.1 1.3h0m5.3-0.7h0m-12.5 6.5h0m3.9-2.5h0m3.2 3.9h0m2.5 1.7h0m0.1-4.9h0m-17.5 5.9h0m3.5 1h0m3.4 3.2h0m0-2.4h0m0.4 3.5h0m0.5-2.5h0m1.4-1.5h0m0.3 1.7h0m0.4-2.9h0m0.5 1.6h0m0.2 2.6h0m2.3 0.4h0m2.3-0.7h0m1.4-1.6h0m0.7 0.2h0m3.4 1.8h0m12-3.2h0m-30 8h0m1.1 1.4h0m0.3-3.7h0m1.4-0.5h0m1.7 3.5h0m1.3 1.3h0m1.2-4.3h0m3 2.1h0m0.9 1.3h0m0.2-3.1h0m1.2 3.7h0m-19.2 6.2h0m2.2-0.7h0m1.6-3h0m4.2 2.1h0m0.9 1.5h0m0.6-2.5h0m0.5-1.8h0m0.3 4.3h0m1.3-3.6h0m4.3-1.2h0m0.6 3.8h0m3.8 0.9h0m-30.1 2.1h0m1.4 2h0m1.9-0.1h0m4.6-0.9h0m0.6-1.6h0m2.6 4.9h0m6-3.2h0m1.4-2.5h0m1.1 0.9h0m2.4-0.8h0m0.1 1.9h0m0.5-1.8h0m4 2.2h0m1.3-1.9h0m0.4-0.7h0m-28.6 10.1h0m1.5 1.7h0m2.4-5.1h0m0.6 5h0m3.1-3.2h0m1 1.6h0m2.3-2.3h0m1.4 2.4h0m1-0.4h0m0.4-1.6h0m0.7 3.7h0m1.3 0h0m0.3-2.2h0m2.4-1.1h0m1.9 3.3h0m0.5-0.7h0m0.2-3.8h0m2.5 1.5h0m-29.6 6.7h0m2.9 1.2h0m7-3h0m0.5 3.5h0m1.5-1.7h0m0.7-1.5h0m0.2-0.4h0m0.9-0.2h0m0.1 2.6h0m0.1-3.6h0m0.7 3.7h0m3.4-0.9h0m1.2-2.1h0m6.8 2.2h0m2.2 0.6h0m0.8 0.9h0m0.3-4.7h0m0.6-0.1h0m-33.4 9.5h0m8.6-0.4h0m3.2 1.5h0m1.5-0.2h0m2.9-4.3h0m0.1 4.4h0m0.8-3.2h0m0.8 3.3h0m0.1-3.8h0m2.3 4.6h0m1.1-1.8h0m1.4 2h0m-27.4 1h0m6.1 5h0m0.9-4.1h0m2.1-1.5h0m0.6 3.4h0m2.1-3.2h0m0 1.7h0m0.1 3.7h0m2.6-4.8h0m1.8-0.2h0m2.3 0.7h0m1.4 1.2h0m2.8 0.3h0m6.1 1.7h0m1-4.6h0m-30.5 9.4h0m3.7 1.3h0m0.2-0.8h0m4 1.5h0m0-2.4h0m5-2.8h0m0.9 0.6h0m0.8 1.9h0m0.3-1.6h0m0 2.5h0m1.5-0.7h0m-23.9 7.9h0m0.5-0.5h0m3-0.4h0m8.8-0.8h0m1.3-1.6h0m0.7 3h0m2.9-0.2h0m0.5-0.5h0m0.6-2.4h0m2.5-0.7h0m0.1 1.6h0m0.3 2.2h0m5.7-1.3h0m0.2 1.4h0m1.4-0.5h0m-31 6.4h0m6-1h0m1.2-0.9h0m2.2 2.9h0m0.5-1.4h0m2.3 1.6h0m1.3-1.9h0m0.3 0.7h0m2-3.4h0m0.1 0h0m0.1 1.6h0m0.3 2.7h0m1-3h0m0.2-1h0m1.8 1.4h0m0.4 0.5h0m1.9 2.1h0m0.3-4h0m1.5 4.5h0m0-1.5h0m3.4-4.4h0m-25.2 6.4h0m2.6 0.2h0m3.5 4.3h0m0.9-1.7h0m0.8 2.5h0m3.3-1.3h0m2 0.4h0m0.3-3.4h0m0.8-0.4h0m2.5 4.9h0m4.8-0.4h0m0.3-0.7h0m-23.5 6.3h0m6.5-1h0m1.2-1.6h0m0.2-1.7h0m1-0.5h0m1.2 4.5h0m0.9-0.1h0m0.8-4h0m1.6-0.4h0m1.4 0.8h0m0.3 4.4h0m2.7-5.5h0m0.2 5.7h0m0.1 0.2h0m1.7-5.7h0m3.3 2.3h0m-28 5h0m2.7 1.7h0m2.4 2.1h0m0.4-3.8h0m0.7 1.1h0m0.7 2.2h0m0.5-1.5h0m0.5 2.6h0m4.7-2.6h0m0.8 1.5h0m1.5-0.3h0m0.9-0.5h0m0.2 0.6h0m2.5-2.9h0m3.3-1.3h0m-24.8 9.9h0m2.2-0.6h0m0.7-1.7h0m0-1.9h0m3.1 0.4h0m3.3 3.5h0m0.1-2.5h0m0.1-1.2h0m0.3-0.3h0m0.9 2h0m1.6-0.3h0m6.4-0.5h0m2.7-0.2h0m0.2 0h0m-33 10.8h0m4.4-0.7h0m3.6-2.6h0m3.7 0h0m3.1 2.5h0m0.7-5h0m0.7 1.4h0m0.1-0.4h0m2.5 1h0m0.2-0.8h0m1.5 2h0m1.3-0.7h0m-20.3 8.2h0m2.8-1.7h0m2.1-1.1h0m0.5-1.2h0m0.6 0.7h0m0.3-1h0m0.4 2.5h0m1.5-1.5h0m0.7 3.4h0m0.2-2.7h0m0.3 1.9h0m0-1.9h0m0.1-1.2h0m0.1 0.9h0m0.6 2.9h0m8.8-4.2h0m-22.9 8.7h0m10.9-2h0m3.4 2.9h0m4.9-3.1h0m-23.8 9.4h0m2.7 1.1h0m2.7-3.7h0m6.2 1.2h0m0.3-2.7h0m-10.1 7.3h0m4.7 1.6h0"/>
<path d="M302.8 233.7h0m6.1-3.1h0m1.2 2.1h0m-10 5.4h0m3.8-1.4h0m0.7 2.4h0m5.4-3.2h0m3.7 1.8h0m0.4-0.5h0m2.9 1.8h0m5.8-1.8h0m-30 8.1h0m1.9-0.4h0m0.1 0.8h0m3.6-0.2h0m0.3-4.2h0m1.5-0.7h0m1.2 1.9h0m1-1.3h0m1.5-1h0m0.9 1.6h0m1.6 0.4h0m2.7 0.4h0m1.2-0.9h0m1 3.9h0m0.3-3h0m2.8 3.3h0m8.7-1.5h0m-28.4 2.2h0m2.5 1.8h0m0 2.1h0m0.6 0.6h0m1.3 0.7h0m2.3-3.4h0m0.8 1.8h0m2.7 0.3h0m0.3-2.6h0m0.3 0.9h0m1.3 2.6h0m0.2-0.1h0m0.6-0.4h0m1.2-2.3h0m0.1-1h0m1.4 1.6h0m1.9 0h0m1.4-0.2h0m-23.8 6.3h0m0.4 0.8h0m6.5-3.5h0m3.9-0.4h0m0.6 2h0m0.2-0.7h0m1.1 4h0m2.4-3h0m1.4-0.7h0m0 2.6h0m1.2-2.5h0m0.4 2.7h0m2.1-2.4h0m4.4 2.7h0m-25.8 1.3h0m0 3.7h0m3.1-3.5h0m2.1 5.4h0m0.3-1.6h0m0.8 0.4h0m1.8-3.2h0m1 4.4h0m0.4-1h0m1 0.5h0m0.2-1.1h0m0.5-4.1h0m0.4 2.8h0m0.1 2.2h0m1.2-4.8h0m0 2.6h0m1.8 1h0m3.1 0.3h0m3.1-1.3h0m1.2-2.1h0m0.2 1.7h0m5.5-0.2h0m-33.5 8.9h0m3.3-0.6h0m0.1-0.5h0m4 1.5h0m2-1.3h0m3.1 1h0m0.1-4.5h0m1.1 2.7h0m5.5-2.3h0m5 2.4h0m1-2h0m6.4-1.6h0m-28.4 11.9h0m1.4-1.6h0m0.1-3.8h0m0.8 3.6h0m2.2 0.8h0m2-3.1h0m1.9 0.4h0m2.7-1.8h0m0.2 2.2h0m-22.5 5.5h0m1.6 3.2h0m0.4-1.9h0m5.7-2.2h0m2.2 1.7h0m4.9 1.1h0m2.1-1.5h0m0-2.2h0m0.3-0.2h0m1.2 3.5h0m2.3-0.8h0m3-1.5h0m0.5-0.2h0m0.2-1h0m1.3 4.5h0m1.3-4h0m-28.5 7.3h0m0.4 3.2h0m1.2-3.9h0m2.1 1.8h0m0.9-0.8h0m2.4-2h0m1.4 5.5h0m1.2-0.2h0m2.7 0.3h0m0.1 0.1h0m1.5-2.2h0m1.9-1.4h0m0.9 2.3h0m1.4-2.2h0m0.7-1.8h0m0.2 0.5h0m0 2.3h0m1.1-1.3h0m4.7 2.9h0m1.6-0.3h0m1.3-2.5h0m-27.7 5.5h0m0.5 4.1h0m0.2-5.7h0m2.3 3.5h0m0.8-3h0m11.4 5.2h0m0.5-3.5h0m2.2-1.1h0m-28.3 4.8h0m4.7 0.3h0m7.2 5.4h0m0.7-2.4h0m2.8 0.7h0m1-2.1h0m0.6-0.9h0m1.4 1h0m3-1.5h0m5.6 4.5h0m4.7-4.7h0m-34 11h0m0.5-2h0m1.5 0.4h0m0.4-1.4h0m4.2 3.5h0m2.3 0h0m1 0h0m0.5-0.1h0m0.4-2.3h0m0.2-2.3h0m0.2 2.8h0m0.3-0.3h0m1.3 2.3h0m0.3-5.9h0m0 4.8h0m0.2 0.9h0m1.9-0.3h0m1.6-3.4h0m0.1 3h0m3.2-0.6h0m0.1-1.7h0m3.4-1.2h0m2 4.2h0m0.1-1.3h0m3.4-3.2h0m-32.2 10h0m0.2-1.5h0m1.8-0.8h0m3.8 1.4h0m4.4 1.4h0m1.9-5.2h0m1.5 4.2h0m0-3.1h0m0.1 3h0m0.4-0.3h0m1.1-1.7h0m0.9-0.1h0m0.5-2.3h0m0.4 0.7h0m0.6 0.9h0m1.2 4h0m1-1.8h0m1.3 1.4h0m0.4-4.6h0m0.6-0.5h0m-17.6 7.6h0m0.2 1h0m4.6-1.2h0m1.8-1.4h0m1.9 1.9h0m0 2.2h0m0.2-4.4h0m0.8 1h0m1.8-0.9h0m0.4 2.1h0m0.4-0.8h0m1 2.7h0m0.2-2.4h0m0 0.5h0m1.8 2h0m2 0.8h0m-24.8 3.6h0m1.8-0.5h0m4.4-1.2h0m2.2 3.9h0m0.8-3.2h0m4.5 2.1h0m0.1 1.6h0m2.8-1h0m1.8-1.9h0m-25.3 9.1h0m2.3-5.1h0m0.3 1.4h0m2.7 3.2h0m0.1-4.4h0m2 3.4h0m3.5 0.2h0m0.9-0.4h0m0.1-1.2h0m1.4 1.2h0m0.2-2.6h0m-13.7 9.4h0m0.4-2h0m1.8-1.2h0m0.5-0.8h0m0.1 4.9h0m1.4-4.5h0m1.9-0.7h0m0.3 0.4h0m0.2 4.7h0m0.4-3.5h0m1.3 1h0m0-2h0m1.9 2.8h0m0.5-0.1h0m0.6-1.1h0m7.8 2.3h0m-22.4 5.2h0m1.8 1.1h0m0.6-2.1h0m1.7-1.5h0m0.9 1.8h0m5.8-2.7h0m1.9 3.2h0m-18.4 6.4h0m1 0.9h0m1.2 0.7h0m3.8 0.1h0m0.4-2.9h0m0.7-1.8h0m2.5 1h0m-15.3 8.7h0m6-4.3h0m0.2 1.4h0m1.9 1.7h0m3.8-0.1h0m-12.5 3.1h0m1.9 2h0m0.7-0.6h0m5.3-0.4h0"/>
</g>
<path d="M217.7 368.2L331.7 228.2" stroke="#808080" stroke-width="2.4" stroke-dasharray="8.9 3.9" clip-path="url(#cd2)"/>
<rect x="217.7" y="228.2" width="114" height="140" fill="none" stroke="#000" stroke-width="2.2"/>
<path d="M217.7 368.2V371.4M214.5 368.2H217.7M255.7 368.2V371.4M214.5 321.5H217.7M293.7 368.2V371.4M214.5 274.9H217.7M331.7 368.2V371.4M214.5 228.2H217.7" stroke="#000" stroke-width="2"/>
<text x="217.7" y="383" font-size="14" text-anchor="middle"><tspan class="h">1</tspan>.0</text>
<text x="212.3" y="373.1" font-size="14" text-anchor="end"><tspan class="h">1</tspan>.0</text>
<text x="255.7" y="383" font-size="14" text-anchor="middle">2.5</text>
<text x="212.3" y="326.4" font-size="14" text-anchor="end">2.5</text>
<text x="293.7" y="383" font-size="14" text-anchor="middle">4.0</text>
<text x="212.3" y="279.8" font-size="14" text-anchor="end">4.0</text>
<text x="331.7" y="383" font-size="14" text-anchor="middle">5.5</text>
<text x="212.3" y="233.1" font-size="14" text-anchor="end">5.5</text>
<text x="284.7" y="399.2" font-size="11" text-anchor="middle">s0-s<tspan class="h">1</tspan> pred.  (eV)</text>
<text transform="translate(189.2 305.3) rotate(-90)" font-size="11.2" text-anchor="middle">s0-s<tspan class="h">1</tspan> label (eV)</text>
<text x="263.6" y="342.8" font-size="11">R<tspan font-size="7.8" dy="-3.6">2</tspan><tspan dy="3.6">: 0.803</tspan></text>
<text x="263.6" y="355.9" font-size="11">MAE: 0.<tspan class="h">1</tspan>99</text>
<clipPath id="cd3"><rect x="387.2" y="228.2" width="113.8" height="140"/></clipPath>
<g clip-path="url(#cd3)" fill="none" stroke="#ffc473" stroke-opacity=".45" stroke-width="5" stroke-linecap="round">
<path d="M478.2 256.2h0m-20.5 24.5h0m1.1-0.3h0m2.7-1.8h0m-8.3 7.7h0m0.7 0.8h0m0.5-1h0m0.8-1.2h0m0.3-0.5h0m-8.9 9.2h0m1.2 0.1h0m3.4-4.3h0m-6 7.4h0m0.7-1.3h0m-6.9 9.1h0m3.6-3.5h0m-6.2 5.5h0m-6.2 7.2h0m-17.7 22.1h0m2.1-0.9h0m0.2-1.5h0m1.4-1h0m0.6-0.3h0m-4.9 5.5h0m1.2-1.7h0m-7.6 7.8h0m0.9-0.3h0"/>
<path d="M462.9 273.7h0m-3.1 5.9h0m0.8-2.3h0m0.9-0.5h0m-9.1 11.1h0m2.9-3.4h0m0.1 0.4h0m-7 5.3h0m0.7 1.8h0m-3 4.2h0m1.4-1.6h0m-5.4 5.6h0m0.1 0h0m-6.3 6.9h0m0.3 0.7h0m0 0.6h0m0.8-1.2h0m0 0.8h0m-6.3 7.3h0m-5.8 5.8h0m-2.7 4h0m-7.8 10h0m3.7-3h0m-6 5.4h0m1.2-0.3h0"/>
<path d="M463.5 273.4h0m0.6-0.7h0m-3.1 5.9h0m-7.7 8.5h0m0.6-0.6h0m1-2.8h0m0.4 1.4h0m0.3-1.1h0m0.3-1.5h0m2.9-0.4h0m-9.3 9.8h0m0.5-0.2h0m0.2-0.3h0m0.7-3.1h0m0.5 1.2h0m0.6-0.9h0m-6 7.2h0m-4.5 6.6h0m0.6-1.6h0m0.1 0.3h0m-7.1 8h0m0.1 0h0m2-1.8h0m-5.7 6.2h0m0.1-0.8h0m0.4-0.4h0m2.1 0h0m-7.2 6.7h0m-7.6 10.1h0m-4.3 5.9h0m-0.9 2.5h0"/>
<path d="M464.5 273.2h0m1.2 0.1h0m-9.2 8.6h0m0.8-0.5h0m1.4-2.4h0m2.2 0h0m0.5-2.6h0m-5.2 6.3h0m-9.1 10.8h0m4.2-2.5h0m0.4-2.9h0m0.9 0.3h0m0-0.1h0m-10.2 9.4h0m1.7 0.7h0m2.3-2.4h0m-8 8.8h0m0.8-1.3h0m0.7 0.4h0m0.5-1.7h0m1.6-0.9h0m0.1-0.9h0m-9.1 11.4h0m0.1-0.4h0m2.1-1.4h0m0.3 0.7h0m-6.2 5.4h0m1-0.2h0m0.8-1.4h0m-6.6 9.4h0m0.3-1.3h0m0.1-0.3h0m-6 6.8h0m1.7-1.9h0m0.2 0.2h0m1.1-0.6h0m0.1-0.3h0m-5.9 8.3h0m0.1-2.4h0m-8.6 9.4h0m1.9 0.1h0m0.6-0.5h0m0.2-3.8h0m-3.2 5.5h0"/>
<path d="M461.9 275.7h0m2.4-2.4h0m0.2-0.6h0m-6.3 7h0m2-2.2h0m-6.4 9.5h0m1.1-1.9h0m1.4-2.2h0m-14.2 16.9h0m2.8-1.9h0m3.4-3.9h0m-9.5 11.2h0m-0.6 2.2h0m-9.5 8.8h0m0.7-1.5h0m-3.1 4.4h0m-5.6 8h0m-7.6 8.8h0m2.1-0.4h0m0.6-4.5h0m0.3 1.2h0m0.7 0.1h0m0.4-1.4h0m0.2 1.7h0m-10.3 9.1h0m5.2-3.5h0m-5.3 4.5h0m0.1-0.5h0"/>
<path d="M478.7 255.3h0m-16.6 19.4h0m2.5-0.3h0m0.9-2.6h0m-7.4 7.9h0m4.7-3.6h0m-10.4 10h0m3.3-3.1h0m0.3 1.5h0m-7.4 7.1h0m1.1 0.2h0m0.1-0.8h0m0.3 0h0m-6.1 6.5h0m0.6 0.5h0m1.4-0.2h0m-6.1 6.4h0m0.6-2.3h0m0.7-0.8h0m1-1h0m-7.5 8.9h0m4-2.6h0m0.4 0.6h0m-8.5 8h0m-11 14.7h0m1.4-2.7h0m0.3-1.6h0m0.8-0.6h0m-8.3 10.4h0m1.4-1.2h0m1.8-0.8h0m1.4-3h0m-7.2 9h0m1-2.6h0m-7.6 9.8h0m3.6-4.3h0"/>
<path d="M462.1 275.5h0m-5 5.3h0m3.3-4.1h0m0.4 0.9h0m0.2 1.1h0m0.5-2.5h0m-7 10h0m-7.4 7.5h0m0.5 0.1h0m1.6-1.5h0m-4.1 6h0m3.3-4.3h0m-9.5 11.5h0m0.2-1.3h0m0.5-2.6h0m0 3.3h0m-5.2 5.4h0m1.3-1.5h0m0.9-0.1h0m1.6-0.9h0m-9.6 7.5h0m1.8 1h0m0.1-0.8h0m0.3-0.7h0m0.9-0.8h0m0.8-0.4h0m-8.1 8.8h0m0.4 0.2h0m1-2.5h0m0.1 0.1h0m-6.4 8.4h0m1.7-2.1h0m-5.8 8.1h0m1.1-3h0m0.5-1.2h0m0.9 0.2h0m-9.7 11.3h0m3.6-5.2h0"/>
<path d="M466.2 272.6h0m-4.7 4.4h0m-8.3 9.4h0m1.5-0.1h0m1.1-2.4h0m0.6-0.9h0m-8.9 10.8h0m3.4-3.7h0m1.5-2h0m-10.4 10.6h0m3.8-1.6h0m0.5-1.6h0m0.7-0.2h0m-6.7 6.1h0m2.2-0.4h0m1.1-0.7h0m-9 8.3h0m2.1 0h0m0.6-2.2h0m-8.5 10.3h0m0.1-0.3h0m0.9 1h0m2.4-4.5h0m0.2-0.5h0m-7.6 8.7h0m3.7-2.3h0m-8.5 11.1h0m0.9-3.3h0m-6.7 7.3h0m1.7-0.1h0m-6.7 6.8h0m-2.4 1.5h0m1.5 0h0"/>
</g>
<path d="M387.2 368.2L501 228.2" stroke="#808080" stroke-width="2.4" stroke-dasharray="8.9 3.9" clip-path="url(#cd3)"/>
<rect x="387.2" y="228.2" width="113.8" height="140" fill="none" stroke="#000" stroke-width="2.2"/>
<path d="M387.2 368.2V371.4M384 368.2H387.2M425.1 368.2V371.4M384 321.5H387.2M463.1 368.2V371.4M384 274.9H387.2M501 368.2V371.4M384 228.2H387.2" stroke="#000" stroke-width="2"/>
<text x="387.2" y="383" font-size="14" text-anchor="middle"><tspan class="h">1</tspan>.0</text>
<text x="381.8" y="373.1" font-size="14" text-anchor="end"><tspan class="h">1</tspan>.0</text>
<text x="425.1" y="383" font-size="14" text-anchor="middle">2.5</text>
<text x="381.8" y="326.4" font-size="14" text-anchor="end">2.5</text>
<text x="463.1" y="383" font-size="14" text-anchor="middle">4.0</text>
<text x="381.8" y="279.8" font-size="14" text-anchor="end">4.0</text>
<text x="501" y="383" font-size="14" text-anchor="middle">5.5</text>
<text x="381.8" y="233.1" font-size="14" text-anchor="end">5.5</text>
<text x="452" y="399.2" font-size="11" text-anchor="middle">H-L pred.  (eV)</text>
<text transform="translate(356 299) rotate(-90)" font-size="11.2" text-anchor="middle">H-L label (eV)</text>
<text x="435.4" y="342.8" font-size="11">R<tspan font-size="7.8" dy="-3.6">2</tspan><tspan dy="3.6">: 0.987</tspan></text>
<text x="435.4" y="355.9" font-size="11">MAE: 0.008</text>
<clipPath id="cd4"><rect x="559.9" y="228.2" width="114.1" height="140"/></clipPath>
<g clip-path="url(#cd4)" fill="none" stroke="#ffc473" stroke-opacity=".45" stroke-width="5" stroke-linecap="round">
<path d="M616.6 251.9h0m-29.3 1.8h0m1.6-1.6h0m5.8 0.9h0m16.1 2.9h0m16.5-3.9h0m4.8 3.4h0m-21.8 5.3h0m17.5-2.5h0m13.2 1.2h0m-41.9 5.9h0m12.2 0.5h0m9.8 2.9h0m18.3-0.9h0m-44 3.8h0m10.2 2.2h0m6.3 1.8h0m16.7-3.9h0m1.2 0.1h0m6.3 3.3h0m-46.2 3h0m2.8 0.5h0m0.9-0.6h0m2.6 1.8h0m0.8-2.7h0m2 1.6h0m7.2-0.3h0m4.5 2.9h0m5.9-0.9h0m24.7 1.2h0m1.8-0.5h0m-51.1 4.1h0m4.9-1.6h0m3.6-0.3h0m5-0.8h0m1 2.7h0m2.9 1.2h0m20.6-2.5h0m23.5-1.8h0m-66.2 7.1h0m1 2.2h0m1.6-2.6h0m2.1 1.5h0m3.9 1.2h0m0.1 1.2h0m6.4 0.4h0m0.8 0.2h0m2.3-2.5h0m7.6-1.3h0m0.4-0.2h0m1.4-0.8h0m1.8 1.6h0m0.7-1.2h0m0.9 0h0m3.4 3.8h0m3.3 0.3h0m8.3-0.5h0m3.7-1.4h0m-57.3 8.7h0m5-3.7h0m0.4-0.1h0m1.3 3.8h0m5.5-0.4h0m1-0.2h0m2.7 0.1h0m1.4-2.9h0m2.4 0.4h0m5.2 2.7h0m0.1-3.3h0m2.6 0.3h0m0.8 2.3h0m1.7-1.8h0m2 0.9h0m2.3-3h0m0.9-0.8h0m2 5.5h0m0.5-0.4h0m0.6 0.1h0m1.7-1.9h0m2.2 1.6h0m15.7 0h0m6.8-2.7h0m-65.3 8.2h0m1.5-1.1h0m2.9-2.1h0m2.5 2.9h0m1.3-1.9h0m2.8 2.5h0m0.4-4h0m1.1 3.5h0m0.5 1.2h0m1.8-1h0m0.1-4.4h0m2 5.3h0m1.1-3.2h0m5.8 3.4h0m2.5-2.5h0m4.7-1.3h0m1.8-1.2h0m0.6 2.6h0m3.7 2.5h0m0.2-5.6h0m0.2 0.6h0m0.8 5h0m1.8-3.4h0m0.6-1h0m0.2 2.1h0m4.4-2.1h0m2.7 3.9h0m0.4-1.6h0m0.9-1.5h0m-45.5 9.7h0m2.1-5.7h0m0.1 4.1h0m1.5 1.7h0m2.4-0.1h0m0.1-1.3h0m2.6-3h0m0.8-0.3h0m2.6 2.3h0m2.7-0.7h0m3.6 1.7h0m3.9-0.6h0m2.8-3.1h0m4 4.6h0m0.2-2.5h0m0.7-1.4h0m0.9-0.4h0m0 2.6h0m3.3-2.8h0m1.6 3.3h0m5-0.5h0m1.5 0.2h0m0.6-2.6h0m-45.7 5h0m0.4 2h0m1 1.4h0m2.1 0.8h0m3.9 1.3h0m3.2-4.7h0m5.5 4h0m3.8-0.1h0m1-1.5h0m1.5 0.5h0m7.7-1h0m0-2.2h0m2 0.5h0m0.2 4.6h0m3.2-2.9h0m4.3-2.9h0m3.2 0.6h0m0.9 3h0m7.7-2.7h0m-57.1 6h0m2 1.3h0m1 2.4h0m1.9-2.1h0m5.6-1.4h0m0.4 0.1h0m0.6 1.7h0m1.3-3h0m0.1 2.2h0m0.6 0.5h0m2.7 1.1h0m0.7 0h0m1.2-2h0m1.6 0.2h0m0.3-0.3h0m0.1 0.7h0m0.5-0.6h0m0.8 1.7h0m0.2-3.1h0m2.5 3.6h0m1.7-0.9h0m4.7 1.7h0m0.7-1.5h0m0.5-0.8h0m0.1 1.8h0m0.1-3.1h0m1.1 1h0m2.9-1.4h0m5.2 0.1h0m4-0.8h0m1.1 1.8h0m-39.3 9.4h0m0.7 0.2h0m0.6-4.3h0m2.8 0.2h0m4.4 1.2h0m0.2 0.1h0m0.2-2.7h0m5 0h0m1.9 2.2h0m0.9 0.3h0m1.5-0.6h0m0.6-1.9h0m6.8 3h0m0.3 2.5h0m0.4-1.1h0m0.9-3.7h0m0.8 3.1h0m4.7-1.3h0m1-1.7h0m4.4 5h0m9.7-3.9h0m2.8-1.2h0m-61.4 9.8h0m5-0.8h0m1.7-1.8h0m3.7 3h0m4.1-4.7h0m0.2 0.3h0m2.7 2.9h0m0.6 0.5h0m3.8-1.3h0m0.3 0.8h0m0.7-2.7h0m0.3 0.3h0m2.1-0.5h0m2.4 1.4h0m1.5 2.9h0m1.6 1.1h0m1.5-2.9h0m7.1-1h0m6.3-2h0m-45.2 6.1h0m2.4 3.6h0m0.7-2h0m0.1 1.3h0m4.6 1.3h0m1.5-2.8h0m0.7 0.9h0m2.4 1.3h0m2 0.7h0m0.6-1.5h0m1.2 2.6h0m1.2-0.7h0m0.4-1.2h0m3.1 1.6h0m0.9-3h0m0.2 1.4h0m0.2 0.5h0m0.4-4.1h0m0.2 1.7h0m2 0.4h0m2.3-1.3h0m3.6-0.5h0m4 3.8h0m5.1-1.6h0m1.1-2.4h0m2.2 1.9h0m-39.1 8.2h0m0.7-0.1h0m0.6-0.7h0m0.9 1.6h0m3.7-1h0m1.5 0.4h0m0.4-1.7h0m4.5-0.1h0m0.7-2h0m2.6 0.8h0m1.5 3.5h0m0.5-3h0m0.5 1h0m3.1-2.4h0m0.2-0.3h0m0.4 0.2h0m-28.5 10.3h0m0.6-1.1h0m1.6 0.4h0m0.8-1.5h0m0 2.5h0m0.6-1.7h0m0-0.5h0m1-2.4h0m0.6 0.7h0m0.5-0.6h0m1.2-0.4h0m3.1 4.8h0m1.3-1h0m0.5 1h0m1.5 0.2h0m0.8-2.2h0m0.1 2h0m3.4-4.4h0m1.3 3.7h0m2.5 0.4h0m0.4-0.3h0m0.3-1.6h0m0.2 1h0m1.4-1.1h0m0.3 1.9h0m0.2-3.9h0m1.4-0.6h0m0.2 4.5h0m4.7-2.2h0m-31.6 4.1h0m2.2 5.5h0m1.5-0.7h0m0.2-2.9h0m0.6 3h0m4.8-0.5h0m1.4-4.3h0m0.5 0.5h0m-12.3 10.5h0m0.8-0.9h0m0.1-1h0m1.1 0h0m0.9 2.1h0m1.5-2.3h0m0.4-2.2h0m1.4 0.9h0m0.7-2.1h0m3.3 1.8h0m3.3-0.7h0m0.4-0.1h0m1-0.3h0m1.6-0.6h0"/>
<path d="M633.4 251.7h0m-39.6 5.2h0m1.1 0.3h0m4.6 0.7h0m3.4-2.2h0m2.2 1.1h0m14.2-3.9h0m3.6 4.2h0m2.4-2.2h0m1.2-1.3h0m6.6 4h0m1.5-4.8h0m2.3-0.6h0m-54.4 6.5h0m7.6 0.1h0m7.5 4.8h0m6-3.9h0m1.6 1.3h0m9.8-0.8h0m8.9 0.8h0m4.5-2.5h0m-37.2 10.3h0m1.4-2.4h0m5 1.6h0m23.9 1h0m0.9-3.4h0m4.2-0.9h0m3.9 0.5h0m-42.1 9.9h0m10.5-4.7h0m11.5 5.5h0m6.9-0.2h0m5.5-1.4h0m1.2-0.6h0m-29.2 3.3h0m0.1 2.5h0m7.7-1.4h0m1-0.5h0m4.3 2.9h0m1.8-0.5h0m13.1-3.9h0m6.2 1.6h0m1.5 3.9h0m2.3-4.2h0m-37.3 6.6h0m4.1-0.9h0m2.3 1.4h0m4.1-0.4h0m5 1.8h0m18 1.7h0m6.6-1.8h0m4.9-2.3h0m-57.3 7.4h0m4.1 1.4h0m2 0.8h0m0.8-4.7h0m4 4.6h0m1.1-0.6h0m1.5 0.1h0m3.9-4.1h0m16.2 0.2h0m0 0.8h0m0.9 3.6h0m20.2 0.2h0m-51.5 2.7h0m0.9 0.3h0m4-1h0m5.4 3h0m0.2 1.2h0m0-4.5h0m3.3 3.3h0m1.8-2.6h0m4.4-1.1h0m0.7 2.8h0m1.5-2.9h0m2 4.9h0m0.1-3.7h0m2.3 1.9h0m1.1-3.1h0m6.7 3.4h0m2.4-1h0m9.4-1.7h0m4.2-1h0m-55.5 10.5h0m0.2-4.3h0m1.7 0.4h0m0.8-0.2h0m0.6 2.4h0m4.8-2.7h0m3.1 0.2h0m1.8 3.1h0m3.4-1.9h0m1.1 3.4h0m1.9-1.5h0m0.2 0.6h0m1.1-4.1h0m0.7 5.9h0m1.1-0.1h0m0.8-3.7h0m0.9 1.9h0m0.7-1h0m5-2.9h0m0.5-0.1h0m2.1 2.1h0m1.6 0.2h0m0.9-2.1h0m3.1 5.2h0m3.7-2.7h0m0.8-0.4h0m1.8-1h0m4.1 3.8h0m-60.6 6.5h0m4.4-1h0m3.5 1.3h0m2.6-5.6h0m4 5.4h0m0.9 0.2h0m0.2-5.5h0m8.4 2.9h0m0.3 1.5h0m1.6-3.2h0m0.2-1h0m0.4 4.7h0m1.3-1.7h0m5-0.7h0m7.6 1.7h0m1.2-4.6h0m11.3 3.8h0m0.8-3.8h0m3.9 2.7h0m2.9-2.7h0m1.3 2.3h0m-55.4 5.3h0m9.8 1.8h0m0.4-0.3h0m1.4-0.1h0m2.3 2.7h0m8.9-2.6h0m0.5 2.4h0m0.2-2.3h0m1.5 0.2h0m0.5 0h0m0.2 1.9h0m0.7-2.2h0m1.9-1.4h0m1.9 3.9h0m0.1-5.3h0m7.3 0.2h0m0.5 0.1h0m2.1 3.8h0m2.9-0.4h0m4.1 1.5h0m1.9-1.5h0m1.7-1.5h0m-50.4 6h0m0.7 2.9h0m2.2-5.4h0m3.9 2.3h0m0.7 0.9h0m2.6 0h0m1.4 0.1h0m1.5-1.4h0m4.3 0.3h0m0.4 0.1h0m0.7-1h0m2.1 3.7h0m3.1-2.1h0m6.2-1.2h0m2.1 1.4h0m15.1-1.7h0m2.6-0.5h0m6.5 3.6h0m-59.3 5h0m4 1h0m0.2 0.5h0m0.4-3.7h0m4 2h0m2.6-1.4h0m0-1.5h0m1.4 3.9h0m1.3 1.4h0m2.4-2.5h0m0 1.5h0m0.1-2.7h0m6.7-1.3h0m3.5 0.3h0m0.8 2.8h0m0.5-1h0m0.5 2.8h0m2.4-3.8h0m1 3.1h0m0.3-3h0m1.6 0.8h0m0.1-1.2h0m1.6 0.5h0m0.8 3.6h0m4-4.7h0m0.2 0.2h0m1.1 2.3h0m-42.8 8h0m4.2-0.6h0m1.4-0.7h0m0.5-4h0m0.4 3.4h0m1-1.7h0m0.4-0.8h0m0.7 0.7h0m4.7 3.4h0m0.1-3.1h0m0-1.3h0m5.8 0.6h0m2.8 0.5h0m1.1 0.3h0m0.2 2h0m0.2 1.6h0m5.8-4.8h0m0.6 4.1h0m0.7 0.3h0m2.1-0.3h0m0 0.4h0m0.6-3.5h0m0.5 1.2h0m4.1-1.3h0m1.9-1h0m1.1 3.4h0m2.7 0.3h0m-44.9 3.3h0m0.1 3.9h0m7.8-3.7h0m1.1-1.1h0m1.8 2.6h0m4.4 2.2h0m1.1 0h0m1.2-5.3h0m0.6 4.8h0m0.9-3.1h0m0.7-1.4h0m0 0.8h0m0.1 2.4h0m2.6-1.5h0m1-1.9h0m1-0.5h0m2 1h0m2.4 3.6h0m0.6-0.2h0m0.2-1.4h0m2.7-1.3h0m0.7 2.1h0m1.1-0.9h0m4.3-2.4h0m4.7 0.4h0m2.6-0.7h0m2.8-0.1h0m-50.7 10.2h0m1.9 1.1h0m0.6-0.9h0m0.3 0.6h0m2.6 0.8h0m0.6-3.2h0m2.6 0.4h0m2.3 0.7h0m3.4 1.7h0m2.6-2.2h0m0.6 0.4h0m3.2-0.1h0m0.1 2.1h0m2.1 0h0m0.9-1.7h0m0.4-3h0m3.2-0.7h0m0.8 2.7h0m0.4 2.1h0m0.4-2.1h0m1.9-0.5h0m2.8-2.1h0m0.7 1.4h0m0.2 1h0m5 0.2h0m2.9-1.5h0m6.1-0.8h0m-48.5 8.2h0m1 1.5h0m2.9-2.5h0m0.6 1.2h0m0.4 2.7h0m0.2-3.6h0m1.7-1.5h0m1.4 1.1h0m0.8 2.3h0m1.6-1.8h0m0.8 2.6h0m1-0.7h0m0.5-2.3h0m0.5-1.3h0m4.5 1.3h0m0.9 0.6h0m0.5 1.9h0m0.1-2.9h0m0.3 2.2h0m0.2-1.9h0m0.2-1.5h0m1.4 3.3h0m0.5 0.2h0m15.1-1.5h0m-42 8.6h0m1.2 0.5h0m4.5-4.6h0m5.3 0.9h0m2.6 3.1h0m0-0.3h0m1.6 1h0m0.9-0.6h0m8.9-4.1h0m0.1 3.9h0m-20.3 1.7h0m2.2 1.9h0m4.1 0.2h0m0.1 0h0m1.6-1.7h0m0.4 2.4h0m0.4-1.7h0m1.9 0.5h0m0.9 0.2h0m1.1 0.3h0"/>
<path d="M587 252.3h0m6.2 0.7h0m1 2.8h0m5-0.2h0m0-3.4h0m3.7 0.1h0m8.8 1.9h0m9.8 2h0m8.3-1.6h0m3.4 2.3h0m17.8 0.6h0m1.5-5.1h0m-55.9 9.7h0m12.1-2.9h0m13.5 1.1h0m1.3 3.6h0m1.1-0.5h0m15.5-3.7h0m-54.2 10.2h0m1.9-1.8h0m2.9-4.1h0m7.1 4.9h0m13.1-1h0m8.7-1.7h0m4.8 3.7h0m-26.9 5.3h0m0.3-1.9h0m10.6-0.9h0m8.9 1.4h0m2.2-3h0m2.8 2h0m6.9-1.6h0m-33.2 9.4h0m16.3 0.7h0m10.3-0.1h0m-18.6 2.4h0m6.1 0.3h0m5.8 0.7h0m4.3 0.2h0m1.4 3.1h0m0.4-0.3h0m0.4-2.6h0m6.3-1.4h0m16.6 3.9h0m-64.8 4.8h0m6.4 1.6h0m1.1-3.5h0m2.3 0.3h0m0.3 0.4h0m0.2 0.5h0m1.3 1.4h0m2.3-1.6h0m1.4 1.7h0m7-1.8h0m0.5 1.8h0m0.9-3.3h0m9.6-0.7h0m1.5 1.4h0m3.3 0.3h0m4.4 2.5h0m0-2.7h0m5.1 2.7h0m0.2-2.5h0m-51.5 7.3h0m5.5-1.3h0m1.8 2h0m0.9-2.2h0m9.5 2.9h0m0.8-4.8h0m0.7 5h0m0.4-5.3h0m4.3 3h0m2.9 1.9h0m1.7-4.5h0m2.4-0.5h0m8.2 5.3h0m1.1-0.6h0m0.9-2h0m0.4-0.8h0m0.6 1.5h0m0.6 1.1h0m1.3-1.9h0m0.6 0.5h0m3.1-2.7h0m0.9 2.1h0m4.9 0.5h0m14.1-1h0m-62.3 5.2h0m3.4-0.5h0m4.1 4.7h0m6.6-5.6h0m3.8 5.7h0m1.5-5.3h0m0.8 0.2h0m0.4 4.6h0m0.8-0.4h0m0.7-0.5h0m1.7 0.9h0m1.9-3.4h0m0.6 3h0m0.5-2.6h0m0.1 3.2h0m13.7-3.7h0m1.2-1.7h0m-54.2 10.7h0m11.9-4h0m3.7 2.3h0m2.1 1.1h0m1.8 0.7h0m0.4-3.9h0m3.1-0.4h0m4.4 2.4h0m0.1-2.2h0m0.1-0.2h0m0.9 3.4h0m1.9-1.8h0m6 1.7h0m0.5-2.1h0m0.7-1.4h0m3.6 2.9h0m1 1.4h0m1.8 0.4h0m1.1-2h0m0.6-1.2h0m0.3 2.6h0m1.2 0.1h0m0.2-1.1h0m10.1 1.1h0m9.1-0.5h0m-58.7 4.3h0m5.1 3.3h0m3.2-0.9h0m0.1-4.8h0m0.8 3.6h0m1.5-1.8h0m3.7 0.7h0m0.9 3h0m0-2.4h0m3.6 2.6h0m2.3-4.8h0m0.3 4.8h0m3.7-2.4h0m0.2-1.9h0m4.4 0h0m1.8-0.2h0m1.9-0.8h0m2.3 1.7h0m13.6 3.4h0m2.2-0.8h0m5.9-4.3h0m0.9-0.4h0m-62 8.9h0m0.8-0.3h0m2.8 0h0m1.9 1.2h0m4.1 1.9h0m0.9-1.7h0m0.2-2h0m0.9 0.1h0m0.5 2.7h0m0.1 0.2h0m2-3.1h0m0.3 2.4h0m3.2-1.8h0m0.4 3.3h0m0.4-2.4h0m1.8 2.2h0m2-3.2h0m2.5 2h0m0.3-3.4h0m0.8 3.9h0m0.5-1.5h0m1.9 0.1h0m0.7-0.2h0m3.2-0.6h0m1.1 1.8h0m1.2 0.2h0m1.3 1.1h0m0.1-3.1h0m0.6-0.8h0m0 2.1h0m0.8 0.7h0m0.4 0h0m0.6-2.8h0m0.2 2.9h0m1.4-2.5h0m0.2 2.4h0m2.6-2.6h0m6.7-1.7h0m0.7 4.4h0m-48.4 2.1h0m5.3 1.9h0m0.4 2.3h0m0.1-0.2h0m1.7 0.1h0m0.1-1.5h0m4.1-1.1h0m0.1-0.8h0m1.1 1.3h0m0.5 2.5h0m0.8-4.3h0m1.1 3.6h0m3-1.1h0m2.1-3.5h0m2 5.3h0m2.5-2.9h0m8.1 3.4h0m3.1-0.1h0m0.5-0.6h0m1.7-0.9h0m-42.9 7.4h0m2.5-1.6h0m0-0.4h0m4.4 2.1h0m4.4-3.1h0m0.8-1.8h0m1.9 0.7h0m0.3-1h0m1.8 3.6h0m1.6 0.5h0m0.9-0.4h0m1.5-0.4h0m1 2h0m0.1-3.7h0m1.2 1.4h0m1.1-0.4h0m1.1-1.3h0m4.3 2.1h0m0.4-3.3h0m1.4 3h0m0.4 0.5h0m1-2.7h0m0.7 2.4h0m0.1-2.2h0m3.1 2.5h0m4.2-3.6h0m2.4 2.3h0m3.6 2.8h0m2.1-3.9h0m2.3 0h0m-45.2 7.4h0m0.7 1h0m1.8-2h0m2.4 1.6h0m2-3.1h0m0.5 0.1h0m4-0.2h0m0.6-0.1h0m1 2.6h0m1.1-2.3h0m0.2 1.5h0m0.3-1.5h0m1.1 2.9h0m0 0.9h0m1-1.6h0m0.2 0.3h0m8.4-3.3h0m1.9 1.8h0m2.8 1.1h0m10.2-1.6h0m-50.4 7.7h0m7.5-2.8h0m6.6-0.2h0m6.1 1.5h0m0.4 4.1h0m1.3-3.8h0m0.2 4.1h0m1.1-4.6h0m0.8 3.6h0m3.2-2.7h0m0.1-2h0m3.2 5h0m10.5 0h0m5.7-2h0m-44.6 8.6h0m1.9-2.6h0m3 2.1h0m1.7-0.2h0m0.8-2.7h0m1 1.3h0m0.2 1.8h0m0.6-3.6h0m1-0.7h0m0.9-0.2h0m2.7 1.3h0m1.5 3.2h0m0.3-1.4h0m0.1 0h0m0.6 0.7h0m1.2-4.3h0m1.1 1.9h0m3.3-2.3h0m0 3h0m0.6 1.6h0m1.3-4.6h0m1.9 0.2h0m0.5 2.9h0m2.3-1.9h0m-29.3 10h0m2-0.2h0m2.3-0.5h0m0.6-3.4h0m1 0h0m1.2 4.5h0m0.4-5.5h0m1.1 4.5h0m1.5-0.6h0m1-0.8h0m0.9 1.1h0m1.7-4.1h0m3 3.9h0m0.4-3.7h0m0.5 2h0m5.7-1.6h0m-25.4 5.5h0m0.4 2h0m9.8-2h0m2.8 1.4h0"/>
<path d="M606 251.8h0m45.3-0.3h0m-65.6 3.5h0m0.3 2h0m20.7-4h0m3.3 0.5h0m26.2-1.5h0m3.1 2.6h0m0.4-0.7h0m-42.3 4.6h0m7.6-0.2h0m10.4 1h0m6.6-0.6h0m2.5 4.3h0m4.4-3.7h0m5.5 0h0m0.3 1h0m-29 5.5h0m6.1 1.6h0m1 2.5h0m2.4-5.1h0m1.2 1.8h0m-26.8 4h0m9.9 2.4h0m5.9 0h0m1-1.8h0m26.5 3.8h0m-36.3 4.7h0m4 0.4h0m2.1-1.8h0m10.4-0.5h0m1-0.7h0m1.7-0.9h0m1.4 0h0m1.7 3.7h0m6.2-1.8h0m6.2 1.7h0m12 0.9h0m-50.7 6.7h0m1.3-4.9h0m0.5 3.7h0m3.6 0.3h0m1-3h0m2.1 1.6h0m11.1 2.4h0m0.5-3h0m9.1 2.3h0m5.5-4.4h0m14.4 2.3h0m2.6 1.1h0m-63.1 6.9h0m4.1-1.7h0m0.4-0.2h0m8.3-0.3h0m13.3 2h0m0.7-2.9h0m0.2 2.4h0m1.1 1.4h0m4-2.6h0m0.4 0.2h0m0 2.2h0m3.8 0.7h0m0.1-4.2h0m2.6 2.4h0m2.1 1.7h0m4.7-2.2h0m1 1.3h0m1.1-4.7h0m12.2 1.8h0m-60.7 8.5h0m2.9-1.5h0m1-3h0m5.5 5.2h0m0.9-4.2h0m0.2 1.1h0m1.2 3.6h0m2.2-1.1h0m0.2-1.8h0m1.5 2.4h0m2.1-0.8h0m0.2 0.7h0m3-3.6h0m0.3 0.3h0m2.5 1.6h0m4.6-0.9h0m0.7 1.2h0m0.5-2.6h0m2.7 3.7h0m3.2 0.4h0m2.1-2h0m2.3-0.6h0m2.1-0.3h0m0 2.9h0m0.3-3.8h0m9.7 4.4h0m-45.2 3.1h0m0.5-1h0m3.5 3.5h0m3.8 0.2h0m0.3-4.9h0m6.4 3.7h0m6.3-0.8h0m0.4 1.9h0m5.3-3.5h0m1.9 0.1h0m1.8-2h0m2.2 0.8h0m2.5 2h0m1.8 0.5h0m-39.4 5.6h0m1.1 0.8h0m1-0.2h0m0.9-0.4h0m3.2 2.4h0m3.5-1.5h0m1.4-0.1h0m3.4 0h0m0.5 1.9h0m0.4-2.1h0m0.9-1.1h0m1.4-0.9h0m3 3.1h0m0.8-1.1h0m5.2-3.4h0m0.2 2.8h0m7.7-1.7h0m0.2-0.9h0m1.7 0.1h0m1.7 2.8h0m11.4-1.4h0m-61.1 6.4h0m9.3 0.4h0m2.7-0.9h0m0.7-0.3h0m0.2-0.4h0m1.5 2.9h0m5-0.1h0m0.3 1.2h0m0.4-2.1h0m0.5 2.6h0m2.1-3.8h0m6.7 1.1h0m1.5-1.3h0m1.5-0.4h0m8.6 3.9h0m0.1 0.3h0m0.3-0.8h0m2.3-3.4h0m0.4 3.2h0m5.8-1.4h0m-45.9 8.1h0m5.7-5.3h0m1.2 5.7h0m0.4 0h0m0.7-1.8h0m0.6-2.1h0m0.1 3.4h0m5.1-1.8h0m2.9-1h0m0.4 0.1h0m6 3.3h0m2.7-5.3h0m10.5 5.3h0m4.1-5.6h0m4.5 4.1h0m-48.2 5.4h0m3 2.2h0m1.5-0.6h0m1.5-3.5h0m2.2 1.1h0m0.2-2.5h0m0.2 5h0m1.1-4.4h0m2 0.7h0m6.4 2.2h0m1.8-2.5h0m2.8 1.4h0m1.8 0.6h0m0.2 1.5h0m0.5-0.4h0m2.5-4.1h0m0.2 4.8h0m2.8 0h0m0.1 0.1h0m0.5-1.1h0m0.4-1.4h0m4.9-1.8h0m0.2 3.7h0m1.3-4.3h0m2.2 1.8h0m0.5 0.8h0m9 1.5h0m2.3-2.6h0m-47.6 9.3h0m1.4-0.3h0m0.4-2.9h0m1.2-1.5h0m0.4 3.3h0m4.2-3h0m2.1 0.8h0m0.6 1.4h0m3.1 0.6h0m3-2.6h0m2.4 1h0m1.6-1.6h0m2.5 4.4h0m0.2-2.4h0m0.1-0.4h0m1.9 0.3h0m0.1 2.1h0m0.6 0h0m0.3-3.9h0m0.3 1.1h0m1.8 0.3h0m1.4-0.3h0m2.1-0.5h0m8.8 3.7h0m1.5 0.9h0m5.9-3h0m-52.5 6.9h0m0.4 2.1h0m0.6-2.7h0m2.5 2.3h0m0.1-0.2h0m1.9-4.3h0m1.4 4.4h0m0.8-2h0m1.6 0h0m3.7 2.5h0m3.3-1h0m1.1 1.2h0m0-2.3h0m0.1 1.4h0m1 0.2h0m1.6 0.2h0m1.1-1.2h0m3.4-1.5h0m3.4-2.1h0m0.1 4.5h0m1.5-3.2h0m0.1 1.3h0m16.5 1.3h0m-52.9 4.3h0m0.3-2.1h0m6.3 5.1h0m1.3-5.6h0m1.3 1.5h0m0.4-1.5h0m0.7 3.5h0m0.1-0.5h0m1.3-0.5h0m1.5 0.2h0m0.1-0.2h0m0.5-2.4h0m2.4-0.2h0m1.2 0.6h0m0.3 4.6h0m2.7-2.4h0m0.3-2.3h0m0 1.9h0m2.8 2.8h0m0.2 0h0m0.7-3.9h0m1.7 3.6h0m0.7-3.6h0m0.5 2.6h0m2.5-2h0m1.2-1.2h0m1.9 1.6h0m0.9 1.3h0m6.9-3.5h0m1.1 3.2h0m1.1-3.1h0m0.4 4.9h0m5.2-5.2h0m-47.8 10.8h0m1.6 0.1h0m4.6-2.8h0m1.2 3.3h0m1.1-5.3h0m0.2 3.2h0m0.6-1.8h0m0.4 3.8h0m0.9-4.8h0m0.1 4h0m1.4-2.1h0m0.5-0.6h0m1.8-1.1h0m2.3 1.1h0m1.3 0.9h0m2.7 3h0m2.7-3.4h0m1.6-2.1h0m1.7 0h0m0.7 2.8h0m0.8-2h0m-26.9 7.9h0m0.7 1.1h0m2.5-1.6h0m1.8 0.9h0m0.1-2.7h0m0.9 2.4h0m0.3 0.6h0m0.7 0.4h0m0.5-1.2h0m3 2.3h0m1.2-0.9h0m1-1.7h0m0.4 0.2h0m0.2 1.8h0m0 0.7h0m1-1.3h0m1.1-1.6h0m3.7 1.1h0m1.5-0.9h0m-25.1 5.4h0m3.3 3.9h0m1.2-5h0m0.2 2.5h0m3.1 0.2h0m4.2-2h0m1.3 0.2h0m1.5 0h0m0.1-1.3h0m0.6 1.3h0m0.9-1.2h0m0.7 1h0m3.6-1h0m0.1 0h0"/>
<path d="M585.2 251.8h0m5.9-0.1h0m-5.8 1.3h0m2.5 0.3h0m7.2-0.6h0m16-0.2h0m25.3 1.6h0m4.2-1.3h0m5.8-0.8h0m-57.7 8h0m12.3-1.1h0m14.5 0.4h0m20.2 2.3h0m-38.3 3.1h0m4.1 4.6h0m16.5-1.4h0m1 1.4h0m2.9-4.6h0m10.7 4.9h0m3.7-4.6h0m-43.7 5.6h0m13.3 4.9h0m20.7-5.5h0m1.7 4.6h0m8.4-4.6h0m-58.9 7.2h0m3.3 3.9h0m12.6-2.8h0m3.8 1.8h0m3.2-3.6h0m3.9 1.7h0m1.5-1.2h0m14.4 2.6h0m11.5-2.7h0m-46.9 8.2h0m2.9-1.6h0m1.3 4.4h0m2.7-4h0m29.2 3.3h0m4.1-0.5h0m18.7-0.7h0m11.7-2.8h0m-77.6 6.1h0m6.6 1.5h0m5.8 1.7h0m9.8-0.9h0m0.3-0.3h0m1.3-2.2h0m5.7 3.5h0m6-2.8h0m0.2 2.9h0m1.7-1.3h0m0.3 2.2h0m2.7-3.6h0m2.1 0.4h0m4.7-0.4h0m2.9 0.5h0m6.3-0.6h0m3.5 0.7h0m1.8 0.9h0m0.5-2.6h0m-57.9 9.3h0m0.6-2.7h0m0.1 4.1h0m1.4-0.7h0m1.8-1.5h0m2.9-2.3h0m1.1 4.1h0m2.2-2.9h0m1.3 1.8h0m6.9-1.2h0m0.4-0.5h0m0.2 3.4h0m2.2-1.5h0m1.4-3.6h0m0.2-0.3h0m2.8 2.5h0m2.4 1.7h0m2.8 1.1h0m3.7-1.9h0m2.8-3.1h0m7.1 0.5h0m1.3 4.3h0m3.9-1h0m0.1-1h0m-53.4 4.8h0m1.1-0.9h0m0.2 0.7h0m8.6 2h0m0.1-1.3h0m3.7 1.2h0m3.9-2.1h0m0.4 3.3h0m1.3-2.6h0m1-2h0m6.1 3.6h0m0.7-2.9h0m4 2.9h0m0.4-1.6h0m0.1-1.9h0m1.1 4.5h0m0-4.4h0m5.1 3.8h0m2-2.2h0m3.2 0.4h0m7.4-0.9h0m3.5-1.4h0m-52.3 6h0m1.8 1.2h0m4.2 1.2h0m1-2.8h0m1 2h0m0.4 1h0m2.5-2.8h0m6.4 2.2h0m0.3 3.3h0m2.3-5.7h0m1.7 4h0m2.8-2.7h0m2.9 1.7h0m0.3 2.4h0m2.1-1.2h0m1.2 0.6h0m2.8-3.5h0m2.6 2.4h0m1-0.5h0m1.1-0.4h0m4.7 2.1h0m3.8-2h0m1.2-1.5h0m6.2 3.1h0m-53.1 2.4h0m0.6 0.1h0m0.7 3.3h0m3.6-0.5h0m3.5 1.5h0m3.2-5.2h0m0.8 2h0m0.6 3.5h0m1.3-0.8h0m2-2.2h0m1 0.2h0m1.8 0.7h0m2.4 1h0m1.7 0.2h0m2.9-0.1h0m1.7-3.8h0m2.2 1.1h0m1.6 2h0m0.9-3.5h0m3.4 2.8h0m0.6-2.1h0m0.3 2.6h0m5.5-2h0m1.9 1.4h0m-53.4 6.6h0m7.1-2.7h0m3.7 1.1h0m0.6 1.8h0m0.6-0.9h0m1.9 2.1h0m1-0.1h0m0.8-1.6h0m0.8-2.6h0m0.1-0.9h0m0.6 4.6h0m1.1-3.7h0m1.4 4.5h0m1-5.3h0m0.2 3.2h0m3.2 0.1h0m0.2-0.5h0m1.9 2.9h0m0.8-5h0m0.5 2h0m1.4-1.7h0m1.6 3.3h0m0.9-0.1h0m3.6-2.5h0m6.3-1.2h0m0.7 1.1h0m6.1 1.1h0m0.7-0.5h0m3.9 3.1h0m2.6-2.6h0m-42.7 3.8h0m4.9 1.1h0m0.5 2.3h0m1.9 1.8h0m5.4-5.6h0m0.4 3.2h0m0-0.5h0m2-2.2h0m0.8 3.5h0m1.3 0.5h0m0.7-2.2h0m2.2-0.4h0m1.9 0.1h0m1.3 2h0m0.2-1.8h0m0.9 1.1h0m0.7-1h0m13.2-1.4h0m-53.6 9.5h0m7.5-0.3h0m0.8 0h0m7-3.2h0m1.1 0.1h0m3.3 1h0m0.3 2h0m4.2-2.4h0m1.3 3.3h0m1.6-4.4h0m0.6 3.5h0m7.1-4.2h0m0.1 2.3h0m0.2 1.5h0m11.8-0.3h0m5.3 1h0m-44.3 2.2h0m1 0.7h0m0.5 2.6h0m1.2-3.4h0m1 0.2h0m1.4 3.4h0m1.3-0.3h0m2.6 0.7h0m2.8 0.9h0m0.5-0.4h0m2-3.9h0m0.3-0.9h0m1.1 3.4h0m0.4-1.3h0m0.2 3.3h0m1.7-5.4h0m6.4 2.3h0m14.1 0.8h0m-48.3 6.2h0m0.8-3.6h0m3.4 1.1h0m1.5 2.4h0m0.5-3.2h0m2.8 3.5h0m3.7 1.8h0m0.3 0.1h0m2.1-1.3h0m0.7-2h0m0.8 2.8h0m0.5-1.7h0m0.1 2h0m0.9-2.6h0m0.1 0h0m1.1 0.9h0m3.9 0.9h0m0-3h0m1.1 0.2h0m0.2-1.8h0m1.3 2.3h0m1.7 3.3h0m0.7-3.3h0m1.8-1.8h0m-27.8 7.2h0m0.3 3.9h0m2.6 0h0m0.4-3.4h0m0.8 3.2h0m1.6-5.5h0m0.2 1.8h0m2.3 2.6h0m1.1-0.5h0m1.7 0.5h0m2.4 1.5h0m0.9-4.7h0m6.3 2.1h0m1.5-0.2h0m1.1 0.7h0m1.4-3h0m0.3 1.2h0m0.9-1.1h0m0.4-0.1h0m2.5 0.3h0m-29.9 8.8h0m0.7-1.9h0m2.3 3.2h0m0.4 0h0m2-3.1h0m0.9 2.7h0m0.1-1.5h0m0.1-2.7h0m5.3 2.4h0m0.4 2.4h0m1-0.5h0m1.1-4.2h0m1.2 2.1h0m0.8 0.1h0m-17.9 5.3h0m1.4 0.1h0m0.2-1.7h0m1.4 5.1h0m1.1-1.1h0m3.5-2.1h0m1.2-0.7h0m1.9-1.5h0m2.9 0.2h0m0.8 0.8h0m0.4-0.4h0"/>
<path d="M620.7 251.8h0m24.6 0h0m-55.5 5.4h0m6.8-1.8h0m3.4-3.2h0m0.2 0.4h0m24.4 4.4h0m2.9-4.6h0m-36.5 11.2h0m10.5-1.6h0m7.8-2.4h0m10.3 0h0m12.4-1.6h0m-31.7 7.5h0m1.3-0.8h0m7.4 3.8h0m8.1-3.5h0m6.6 3.9h0m11.1-2h0m-43.9 7h0m2.3-1.4h0m6.8 0.7h0m7.9 0.6h0m2.1-3.4h0m3.3 1.8h0m6.9-0.1h0m16.3-0.1h0m7.8 1.1h0m-58.1 8.5h0m8.2-5h0m8.8 3.7h0m1.8-1.2h0m1.9-0.6h0m2.7 1.3h0m0.4-1h0m0.9 2.7h0m9-5.1h0m1.7 2.1h0m0.1-1.2h0m4.3 1.3h0m-39.4 3.9h0m3 1.3h0m0.6 1.5h0m23.6 1.9h0m0.7-4.7h0m2.4 2.8h0m1.5-0.6h0m1.2 2.3h0m2.9-3.7h0m1.6 1.5h0m10.7 3.1h0m0.6-0.8h0m10.1-2.3h0m3.3 1.2h0m-60.4 6.6h0m0.1-3.1h0m4.3-1.2h0m4.8 3.5h0m5.3 0.8h0m1.4-3.7h0m5.3 1.8h0m0.7-1.9h0m1.3 4.9h0m2.1-1.2h0m2.4-1.5h0m12.6 0.3h0m5.7-3.1h0m0 2.1h0m10.8 0.5h0m-61.4 6.6h0m2.2 0.8h0m1.8 1.1h0m1.8-1.4h0m2.2 1.8h0m1.4-0.3h0m0.8-3.6h0m1.6 1.1h0m0.1 1.8h0m5.2-2.5h0m1.4-1.5h0m0.3 2.6h0m3.6-1.5h0m0.5 1.3h0m0.8 0.5h0m1.3-3.4h0m0.3 4.3h0m0.7-1.7h0m0.5 2.9h0m0.4-4.9h0m1.3 3h0m1.5-3.2h0m1.1 2h0m1.3 0.8h0m21.8 1.8h0m5.8-4.2h0m-69 10.8h0m5.5-1.2h0m3.2-1h0m1.5 1.8h0m0.6-0.5h0m2.7-1.7h0m0.6-2.6h0m1 1h0m2.8 2.7h0m0.2-2.7h0m0.2 1.8h0m2.4-1.2h0m3.9-2h0m3.5 2.2h0m5.1 0.9h0m0-2h0m0.9 3h0m1.9 1.4h0m2.8-5.4h0m2.6 0.6h0m5.5 4.2h0m-43.5 2.7h0m1.3-1h0m5.7 1.4h0m0.2 1.8h0m4.2-3.5h0m1.6 4.1h0m1.1-0.6h0m1.5-2.8h0m5 3.1h0m1.4-2.8h0m0.9 4h0m2 0.1h0m5.4 0.1h0m1.7-1.1h0m0.8-2.6h0m1.1-1.9h0m0.2 4.5h0m0.5-2.2h0m0.1 2.6h0m0.6-0.5h0m4.5-2.1h0m4.6-1.9h0m-50.7 10.8h0m13.9-4.8h0m0.1 0.4h0m0.1 0.7h0m1.8 1.1h0m1.3 2.8h0m1.5-3.4h0m1.7 1.8h0m1.3-0.1h0m4.6 2.1h0m0.1-4h0m1 3.8h0m2.9-0.4h0m0.9-4.1h0m1.8 4.3h0m1-3.3h0m1 0.4h0m1.5 1.9h0m0.9-1.6h0m1.8-0.5h0m0 3.4h0m6.9-5.2h0m3.5 4.6h0m5.5-1h0m-49.8 6.1h0m4.7-0.5h0m3.2-0.6h0m0.1-0.1h0m0.4 2.6h0m2.3-1.2h0m0.2-4.1h0m0.6 3.6h0m3.3-3.2h0m1.7 1.4h0m0.9 2.5h0m0.3-3.7h0m1.1-0.9h0m0.6 3.8h0m1.4-3.2h0m5.1 3.6h0m0.7-3h0m5.3 2h0m3.4-0.5h0m2.6-1h0m4.2-1.6h0m1.6 1h0m0.5 0.5h0m1.9 1.8h0m8.3 0.6h0m-57.4 2h0m5.1 3.2h0m2.4 1.2h0m5-3h0m4.1 2.7h0m0.7-1h0m2 2.5h0m1.8-1.2h0m0.8-0.8h0m4.2-0.3h0m0.2-2.3h0m0.9-1.1h0m0.5 4.3h0m1.5-2.5h0m1.1-0.9h0m2.9 2.7h0m0 0.5h0m0.5-2.3h0m0.2 2.1h0m1.6 1h0m0.6 0.5h0m8.7-0.2h0m0.4 0.1h0m0.5-2.9h0m-46.3 8.9h0m0.4-0.2h0m5.6-1.5h0m0.1-2h0m0.7-1.5h0m0.5 2.1h0m4.2-1.1h0m2 4.4h0m7.4-1.7h0m1.2 2h0m0.4 0h0m0.1-0.8h0m0.2-3.9h0m0.3 1.8h0m1-2.8h0m1.3 0.2h0m1.9 4.1h0m0.6-2.4h0m1.1-0.5h0m0.3 0.2h0m3.2 2h0m0.7-2.9h0m1 0.3h0m4.6 4.3h0m-39.7 4.9h0m1.3 0.7h0m3.5 0.4h0m0.3-2.4h0m1-1.7h0m0.1 1.2h0m0.2 0.5h0m1.5 1.8h0m1.6-1.4h0m1.2 1.9h0m0.5-3.4h0m0-1.8h0m1.1 3.7h0m0.9-2.6h0m0.9 3.6h0m0.5 0.8h0m1.5-2.3h0m0.2 1.4h0m0.2-2.2h0m2.9 0.1h0m1.1-1h0m0.1 3h0m1-3.8h0m1.7 4.7h0m1-2.4h0m1.5 2.1h0m1.5-2.9h0m12.5-1.7h0m2.1 0.8h0m4 4.4h0m-46.3 2.9h0m2.3 1.4h0m0-2.6h0m3.9 3.1h0m0.3-3.2h0m0.6 2.2h0m3.2 1.5h0m0 0.6h0m0.9-5.5h0m1.8 3.4h0m0.4 2h0m0.2-0.6h0m1.1-1.1h0m1-0.7h0m1.1 0.9h0m1.9-0.4h0m0.9-0.9h0m2-2h0m1.4 4.3h0m0.1-4.9h0m1.4 0h0m0.4 5.5h0m1.5-0.2h0m6 0.4h0m6-3h0m-42 8.4h0m2.3-2.6h0m0.4 1.7h0m1.5 0.4h0m0.6-1.8h0m0.4-1.9h0m0.8 1.8h0m0 2.1h0m0.7-2.2h0m0.3-1.7h0m1.4 3h0m0.3-2.2h0m0.4-0.8h0m1.5 2.4h0m0.4 0.5h0m2.7 0.7h0m0.7-2.3h0m1.4 0.2h0m0.4 0.9h0m0.2 0.7h0m1.1 0.3h0m0.3 0.7h0m2-0.8h0m1.1-2.5h0m8.3-1.6h0m3.9 0.8h0m-31.8 5.2h0m0.5 3.6h0m0.6-0.8h0m1.1 2.1h0m0.5-5.1h0m0.1 1.5h0m1.2-0.9h0m1 1h0m0.1 2.2h0m0.1-0.5h0m0.4 1.3h0m0.8-3.5h0m2.3-0.5h0m0.5 3.6h0m3.1 0.7h0m0.9-2.4h0m0.5-0.1h0m1 3.3h0m-18.8 2.9h0m0.2 0.8h0m1-3.4h0m3 3.3h0m0.2-1.5h0m0.7 2.3h0m0.5 1h0m0.5-4.1h0m0.5-1.1h0m1.1 2.1h0m6.2 1.5h0m0.8-2.8h0m1.2 1.2h0"/>
<path d="M584.7 251.7h0m18.2-0.1h0m-25.7 3.5h0m4.2-2.5h0m20.6-0.2h0m1.8 5.4h0m15.9-3.7h0m5.5 1h0m5.5-2.5h0m3.4-0.3h0m2.9 0h0m3.7 0.2h0m9.7-0.3h0m-53.6 9.6h0m34.2 0.9h0m-39.9 7h0m2.3-5.6h0m2.5 5.6h0m2.9-3.9h0m20.4 2h0m-14.3 5h0m4.8 0.5h0m1.8-2.4h0m1.6 3.3h0m9.8-0.8h0m1.5-2.1h0m2.6 3h0m17.8-1.3h0m0.4-0.2h0m-57.2 5.8h0m8 1.6h0m2.4-4.2h0m0.5 2.9h0m2.8-2.5h0m1 4h0m5.3-2h0m10.8 0.1h0m1.9 2h0m3.9-1.7h0m2.8-1.9h0m1.8 2.1h0m2.3 1.7h0m9.2 1.2h0m-56 0.7h0m19.8 1.5h0m7.3 3.2h0m4.7-1.4h0m2.2-1.5h0m8.5 0.5h0m10.9-2.8h0m1.5 4.5h0m2.5-2.6h0m1 1.2h0m-54.2 8.3h0m0.4-0.9h0m2.8 0.2h0m0.5-3.3h0m0.7 0.1h0m1 3h0m0.3-2.2h0m0.2-1.7h0m4.7 2.9h0m2.9 0.5h0m0.6 0.4h0m1.3-3.6h0m0.4 3.5h0m4.8-3.4h0m2 3.1h0m3.1-3.3h0m5.3 3.8h0m1.5 0.3h0m0.7-4.8h0m0.4 3.6h0m2.5 2.2h0m7-4.8h0m2.9 2.3h0m4.1-1.5h0m5.2 1.6h0m-67.5 7h0m5-2.3h0m2.5 2.5h0m9.7 0.7h0m1.3-3.4h0m7 3.8h0m1.8-5.4h0m1.1 3.5h0m0.7 1.8h0m6.8-3.7h0m0.8-0.1h0m1.7 0.3h0m0.4 0.8h0m0.4 0.7h0m0.2-0.1h0m1.8-3.5h0m0.7 0.7h0m1.5 5.1h0m1.7-4.4h0m1.4 0.7h0m3.6 3.3h0m5.1-4.9h0m2.5-0.5h0m9.1 5.6h0m-62.2 1.5h0m3.4 4.6h0m1.4-1.9h0m1.1-2.9h0m9.1 1.5h0m3.2 1.4h0m0.4-3.1h0m1 3.2h0m1.7 1.9h0m2.4-3.5h0m1.3 2.3h0m0.9-0.4h0m2-3.8h0m0.1 1.8h0m0.5-1.5h0m2.9 2.6h0m0.7 0.4h0m0.7-2.6h0m2 3.9h0m14.6-2.1h0m3.2-1.6h0m-53.7 4.7h0m3 4.2h0m1.2 0.1h0m1.8-4.4h0m3.2 4.9h0m0.6-2.7h0m0.8 1.6h0m2.2-3.2h0m0.6 2h0m1.4-1.8h0m1.2 1.7h0m0.6 0.3h0m2 2.9h0m0.1-3.3h0m0.6 0.8h0m0.3 0.7h0m3.4-0.1h0m2.1-0.6h0m0.3 0.9h0m3.6-4h0m1.1 0.5h0m1.8 3.9h0m0.5-1.1h0m0.6 0.2h0m2.4-2.4h0m4.2 4.7h0m-43 2.8h0m2.8 2.8h0m12.2-2h0m1.5-2.1h0m4.1 4.1h0m0.2-0.2h0m0.9-2.2h0m3.3-1.8h0m2.9 0.6h0m0-1.4h0m1.4-0.1h0m2 1.7h0m2.6 0.5h0m1.4-2h0m0.2-0.1h0m0.4 0.4h0m2.5 2.1h0m1.7 0.6h0m0.1 0.5h0m21.4-1h0m-64.2 3.6h0m9.2 0.9h0m0.7 1.9h0m1.4-2.2h0m1.6 3.6h0m3-3.3h0m0.8 2.5h0m2.2-3.7h0m0.7 5.5h0m0.2-0.2h0m0.2-5.4h0m1.6 1.4h0m1-0.2h0m1.6 3.8h0m3.1-3.5h0m1.1-0.1h0m2.7-1.7h0m0.7 1.5h0m0.9 1.2h0m18-1.5h0m3.8 2.4h0m7.5 1.5h0m-68.9 6.7h0m6.7-1.1h0m6-1.9h0m1.3-0.6h0m0.1 1.5h0m2.7-0.2h0m2.1-0.7h0m0.5-2.7h0m3.2 0.4h0m0.6 1h0m0.9-0.2h0m1.5 3.8h0m0.5-0.7h0m0.8-2h0m0.1 0h0m2.4-1.5h0m1.5 3.6h0m0.9-0.4h0m0.3 0.4h0m5.8-0.4h0m2.3 0.7h0m0.4-3.9h0m4.2 0.7h0m3.7 3.7h0m0.2-0.2h0m0.9-4.5h0m9.2 4.9h0m3.4 0.3h0m-55.1 4.4h0m4.3-1.7h0m1.4-1.8h0m1.8 4.9h0m5.2-0.9h0m0.8-0.3h0m0.9-3.3h0m1.5-1h0m0.9 3.6h0m2-0.6h0m0.4 2.1h0m2.3-0.8h0m2.1-3.7h0m0.6 4.6h0m0.9-1.1h0m0.6 1.4h0m1-4.9h0m1.1 1.4h0m0.2 1.9h0m0.2-3.2h0m0.7 1.1h0m1.3-1.2h0m0.7 4.4h0m0.6-0.4h0m0.9-1.6h0m4.8-2.2h0m1.1 1.2h0m2.4-2h0m-40.1 8.1h0m2.5 0.4h0m0.5 1.6h0m1.3 0.9h0m0.5-2.5h0m1.3-0.3h0m1.1 0h0m5.4-1.4h0m1.3 2.6h0m2.9 1.8h0m1.2 0.2h0m0.3-0.7h0m0.6 1.1h0m0.5-0.3h0m0.3-0.7h0m0.2-3.5h0m2.2 1h0m0.3 0h0m2.5 3.2h0m2.1-3.1h0m4.5 1.9h0m1.3-4h0m5.1 4.8h0m0.2-4.6h0m-40.7 5.4h0m1.4 3.1h0m2.5-1.1h0m0.1 0.1h0m0.4 2.5h0m1.7-1.5h0m0 1.5h0m2.6-2.6h0m0.3 1.2h0m2.3-2.5h0m1.7 0.4h0m1.5 3.4h0m1.3 0.6h0m0.8-1.7h0m0.5 0.2h0m1.9-0.5h0m2.9 0.6h0m3.7 0.2h0m2-0.3h0m-32.9 5.8h0m0.8-0.9h0m1.9 2.7h0m1.8-5.1h0m1.9 0.1h0m0.4 2.5h0m0.3 2.8h0m0.5-5h0m0.3 0h0m1.8 3.3h0m0.1-2.5h0m0.6 3.4h0m2.7-1.1h0m1.3-3.5h0m0.3 1.6h0m0.4 0h0m0.5 1.6h0m1.7-1.5h0m1.6 3.4h0m0.3 0.4h0m0.5-2.5h0m1.1 1.7h0m0.2-3h0m0.7 1h0m1.6-2.1h0m1 0.7h0m0-0.6h0m1.1 1.6h0m2.1-0.5h0m-33.3 7.8h0m3.2-0.1h0m2.2-2.1h0m2.6-0.9h0m5 4.7h0m1.7-0.7h0m0.3-1h0m0.1-3.3h0m3 0.8h0m2.5 4.3h0m1.3-0.6h0m3-2.1h0m1.5-0.2h0m0.3-1.3h0m1.8 0.3h0m-23.6 10.4h0m1.3-5.8h0m2 1.9h0m0.9 0.6h0m3.3 2.8h0m0.8-5.3h0m0.1 1.5h0m0.1 2.7h0m0.3-0.6h0m0-2h0m3.3-0.5h0m0.3 0.9h0m0.6-0.2h0m0.9-0.4h0m3.5-0.4h0"/>
<path d="M600.6 251.8h0m30.8-0.2h0m-32.3 2.6h0m4.1-0.8h0m2.6-0.3h0m6.2 4.5h0m1.8-4.6h0m21.6 2.5h0m2.9-3.2h0m8.5 0.6h0m-55.2 8.8h0m9.2 0.9h0m2.2-4.4h0m0.8 1.6h0m0.9-0.4h0m7.4 2.5h0m7.8 0.5h0m-26.8 2.8h0m0.4 1.6h0m14 1.6h0m7.4 1.5h0m13.3-4h0m7 1.2h0m0.1-0.7h0m-21.7 3.8h0m4.3 1.8h0m5.6-2h0m18 1.7h0m-59.7 9.8h0m17.5-0.5h0m8.3 0.3h0m5.7-2.3h0m6.2-2.4h0m4 1.1h0m2.5-0.3h0m0.1-0.5h0m0.1-0.4h0m3.4 1.5h0m8.5 2.8h0m-58.1 4.9h0m16.2-2.7h0m1.1 2.3h0m2.3-1.8h0m0 1.4h0m6.6-2.4h0m0.7 4.2h0m2.2 1.2h0m8.8-0.3h0m5.8-0.6h0m-45.9 6.7h0m8-1.5h0m4.5 1.4h0m1.3-0.5h0m6.4-4h0m0.3 2.8h0m7.1 1h0m6.7-0.1h0m0.5-1.8h0m0.1 1.9h0m0.9-3.3h0m0.6 4.1h0m7.2-3.2h0m15.2-0.5h0m0.4-1.7h0m-51.6 10.9h0m4.4-2.3h0m0.2-0.3h0m9 2.2h0m2.5 0.4h0m6.8-5.2h0m3.5 3.7h0m0.6-3.2h0m0.3 1.7h0m2.4 2.8h0m0 0.7h0m2.6 0h0m0.7-3.3h0m1.6 3.1h0m1.3-1.4h0m7.6-3.8h0m11.8 0.5h0m2.7 2.7h0m-59.9 3h0m4.4 3.2h0m2.9 0.6h0m0.4-3.9h0m5.2 0.7h0m1.5 4.5h0m3.3-0.8h0m2.4-3.8h0m1.8 4.5h0m0.5-3.5h0m1 1.5h0m1 2.2h0m0.1-1.5h0m2.2 1.1h0m1.4-4.6h0m0.7 3.2h0m0.6-1.6h0m0.5-1.7h0m1.2 0.7h0m0.2-0.8h0m0.2 0h0m1.1 2.4h0m1.1 1.4h0m0.3-1.7h0m0.2 0.7h0m19.8 1.5h0m-54.8 1.9h0m0.4 0.6h0m2.8 2.6h0m0.6-2.3h0m0.1 1.3h0m6.2-1.8h0m6.3 1.2h0m0.6 2.4h0m0.4-3.4h0m3.2 0.2h0m2.1 3.9h0m1.2-2.6h0m0.2 0h0m3.8 1.1h0m9.4 0h0m0.4 0.9h0m0.1-3.2h0m-38.6 10h0m2.4-1.3h0m0.7-1.2h0m4.5-1.7h0m3-0.2h0m0.7 4.4h0m4.7-0.6h0m0.2-1.3h0m0.8-2.2h0m1 1.2h0m3.2-0.5h0m0.1-0.6h0m5.5-1.5h0m1.7 3.9h0m3.7-3.2h0m0.1 2.3h0m1.6 2.5h0m4.1-3.8h0m5.3-1.5h0m2.7 0.6h0m-52.1 8.2h0m6.3-3.1h0m3.7 0.3h0m1.9 2.3h0m0.4 3.3h0m1.4-2h0m1.8-3.9h0m1.4 0.5h0m0.5 2.2h0m1.2-2.3h0m5.5 0.9h0m0.6 0.8h0m0.4 3.3h0m2.8-5.4h0m0.7 2.7h0m1.3 2.7h0m2.6-1.6h0m0.5 0h0m12.8-2h0m-43.9 5.6h0m0.9 2.1h0m2.6 2.3h0m0.3-0.4h0m0.7-5.2h0m1.1 3h0m0.9 0.8h0m3.6 0.5h0m4.8-2.4h0m2.4-1.8h0m0.3-0.1h0m0.2 0.7h0m4.9 3.8h0m0.2-4.3h0m0.1 0.3h0m0.1 3.1h0m6.9-3.1h0m4.4-0.6h0m0 0.5h0m5.3 2.4h0m0.7-2.4h0m3.5 3.3h0m3-3h0m2.5-0.1h0m2.1 2h0m-53.1 7.2h0m1.1-1.6h0m2.7 0.2h0m8.1 0.2h0m2.3-0.7h0m1 1.1h0m1.2 1.3h0m1.7-1.9h0m0-0.1h0m3.7 0.5h0m1.2 0.4h0m3.4 1h0m1.9-1.2h0m2.8 1.8h0m2.2-5h0m3.7 3.8h0m5.1 1h0m-46 3.3h0m3.9-1.4h0m0.9 4.6h0m0.9-3.9h0m0.1 0.4h0m0.1 3.9h0m0.5-0.3h0m2.1-5.1h0m0.5 2h0m1.5 1.6h0m1.7 1.8h0m0.6-2.3h0m0.4 0.6h0m0.2 1.5h0m1.6-1.3h0m1.8-3.5h0m1.6 0.5h0m0.1 1h0m0.5-0.2h0m2.5 2.2h0m0.1-2.6h0m5.6 3.4h0m0.4-4.7h0m1.1 0.4h0m0.7 2.4h0m4.7-1.6h0m1.1 1.2h0m0.2 2.2h0m2.8-3.6h0m0.8 0.3h0m1.5-1.5h0m-42.7 8.2h0m0.5 2h0m10.1 1.4h0m0.1-3.1h0m0.3 0.4h0m1.6 0.7h0m2.9 1.4h0m0.4-2.8h0m1.2-1h0m0.7 0.1h0m2.3 3.7h0m6-3.7h0m2.4 2.7h0m3-4.1h0m1.6 0.2h0m0.3 0.7h0m10.5 0.7h0m2.6 3.9h0m11.5-5.5h0m-61.6 11.4h0m6.7-1.5h0m0-3.7h0m1.3 2.1h0m0.2 0.1h0m2.1 3h0m1.1-2.4h0m0.5 1.9h0m1 1h0m0.1 0h0m0.1-3.3h0m6.4-2h0m0.1 5h0m0.4-4.7h0m3.6 4.8h0m0.4-3.2h0m2.8 2.1h0m14.5-4.1h0m-40.1 9.4h0m1.1-1.1h0m0.4 3.1h0m1.5-2h0m0.8-2.9h0m0.8 4.9h0m0.3-0.7h0m0.9-2.8h0m1.7-1h0m0.1 1h0m1.2-0.9h0m3.1-0.6h0m0.4 2.1h0m0.1 0.2h0m1 0.7h0m0.7 1.3h0m2.5-3.9h0m5-0.1h0m1.5-0.2h0m3.4-0.5h0m-30.8 6.5h0m4.6-0.3h0m1.9 2.3h0m1 0.1h0m0-1.6h0m0.5-1.2h0m0.3 0.8h0m1.6 1.6h0m0.3 2.3h0m0.3-3.4h0m1.7 0.9h0m3.1-1.7h0m0.4 0.6h0"/>
</g>
<path d="M559.9 368.2L674 228.2" stroke="#808080" stroke-width="2.4" stroke-dasharray="8.9 3.9" clip-path="url(#cd4)"/>
<rect x="559.9" y="228.2" width="114.1" height="140" fill="none" stroke="#000" stroke-width="2.2"/>
<path d="M559.9 368.2V371.4M556.7 368.2H559.9M597.9 368.2V371.4M556.7 321.5H559.9M636 368.2V371.4M556.7 274.9H559.9M674 368.2V371.4M556.7 228.2H559.9" stroke="#000" stroke-width="2"/>
<text x="559.9" y="383" font-size="14" text-anchor="middle">0.0</text>
<text x="554.5" y="373.1" font-size="14" text-anchor="end">0.0</text>
<text x="597.9" y="383" font-size="14" text-anchor="middle">0.4</text>
<text x="554.5" y="326.4" font-size="14" text-anchor="end">0.4</text>
<text x="636" y="383" font-size="14" text-anchor="middle">0.8</text>
<text x="554.5" y="279.8" font-size="14" text-anchor="end">0.8</text>
<text x="674" y="383" font-size="14" text-anchor="middle"><tspan class="h">1</tspan>.2</text>
<text x="554.5" y="233.1" font-size="14" text-anchor="end"><tspan class="h">1</tspan>.2</text>
<text x="621.1" y="399.2" font-size="11" text-anchor="middle">HR pred.  (eV)</text>
<text transform="translate(525.3 299.7) rotate(-90)" font-size="11.2" text-anchor="middle">HR label  (eV)</text>
<text x="607.9" y="342.8" font-size="11">R<tspan font-size="7.8" dy="-3.6">2</tspan><tspan dy="3.6">: 0.5<tspan class="h">1</tspan><tspan class="h">1</tspan></tspan></text>
<text x="607.9" y="355.9" font-size="11">MAE: 0.087</text>
<clipPath id="ce1"><rect x="46" y="439.3" width="114" height="139.7"/></clipPath>
<g clip-path="url(#ce1)" fill="none" stroke="#ffc473" stroke-opacity=".45" stroke-width="5" stroke-linecap="round">
<path d="M74 439.3h0m5 4.6h0m17.3-4.5h0m24.7 0.2h0m3.6 4.3h0m0.7-4.4h0m12.1 3.3h0m2.3-0.3h0m0.3-3.1h0m0.4 2.4h0m2.2-0.1h0m9.7 0.6h0m2.6 1.4h0m4.4-0.7h0m-33.3 1.9h0m14.5 1.3h0m2.3-0.8h0m1.7 1.1h0m1 1.8h0m6.4-3h0m0.4 3.6h0m0.3-4.7h0m3.2 1h0m0.8 1.5h0m3.3 0.1h0m-35.4 4.7h0m7.3 0h0m8.1 0.4h0m0.4 0.8h0m0-1.7h0m1 3.8h0m3.8 0.6h0m1.1-5.2h0m1.8 5.5h0m3-4.7h0m-52.2 7.2h0m13.3 3.7h0m19.8-2.9h0m2.9-2.1h0m0.7 0.9h0m0.9 1.1h0m4.6-0.3h0m4.7 0.2h0m0.7 1.1h0m4.4-2.5h0m2.5-0.1h0m6.5 2.3h0m-31.8 7.5h0m1 0.2h0m3.2-2.9h0m1.4 0.1h0m20.5-2.3h0m-95.8 10.1h0m17.6-2.8h0m56.9-1.1h0m1.1 2.8h0m2.8 1.3h0m3.8 1.1h0m1-0.2h0m7.3-5.2h0m-55 9.1h0m7.5-0.4h0m6.4-1.6h0m11.5 0.1h0m2.2 0.5h0m20.8-1.6h0m3.1 5.5h0m-49 5.5h0m6.8-0.9h0m10.7 0.5h0m9.5 0.8h0m5.5-1.4h0m6.2 0.8h0m0.4-3.5h0m8.6 0.7h0m-63 6.6h0m14 0.8h0m5.9 0.5h0m7.7 0.7h0m3.3-2.8h0m1.6 3.5h0m1-0.5h0m3-4.5h0m3.3 0.8h0m2.7 2h0m0.8-1.3h0m1.5-1.3h0m-78.3 5.5h0m2.1 3.8h0m16.6-3.1h0m1.3-0.5h0m15.9 0.8h0m12.3 2.7h0m2-3h0m2 3.1h0m5.9 0.6h0m4.7-1.5h0m0.4-1.9h0m1.2 0h0m0.6-0.3h0m1.4 2h0m-65.5 7.1h0m34.8-1.1h0m12.3 0.4h0m1.4-0.8h0m0.2 1.3h0m2.3 1.3h0m5.2-3.4h0m4.3 3.6h0m3.2-5.2h0m2.9 5.3h0m7.6-1.7h0m-49.8 6.6h0m7.5-4.1h0m3.4 0.3h0m0.9 0.3h0m4.8-0.7h0m12.7 1.8h0m6.1-1.2h0m8 1.6h0m4.7-0.3h0m5.4-0.3h0m1.7 2.7h0m-33.2 1.6h0m2.3 0h0m2.8 4.7h0m10.4-3.4h0m-62.1 6.4h0m28.9 1.8h0m8.2 1.7h0m2.1-2.5h0m12.1-0.6h0m5-1.5h0m1.1 0.4h0m6.8-1.1h0m10.5 5h0m-71.5 5.2h0m9.6 1.7h0m14.4 0h0m5.3-0.9h0m9.2-0.9h0m9.4-2.3h0m-54.7 9.9h0m6.9-2.7h0m0.1-1.4h0m0.9 1.2h0m8 2.1h0m2-1.8h0m28.8-1.6h0m4.1 4h0m38.4-1h0m-87.7 4.6h0m7.4-1.3h0m0.7-0.5h0m9.3 1.4h0m1 0.8h0m10.9 1h0m5.2-1h0m1.5-1h0m1.9 0.4h0m5.3 1.4h0m1-0.8h0m12.4-0.5h0m2.6 2.1h0m-58 1.7h0m0.2 2.3h0m3.4 0.1h0m1.7-3.2h0m0.1 2h0m1.5-0.5h0m8.2-1.2h0m1.8 3.2h0m0.9 0.2h0m6.6-3.2h0m2.1 1.2h0m4.4 3.4h0m1.4-4.2h0m41.2 4.7h0m-71.2 3.2h0m0.9 2.4h0m3.1-4h0m3.9 2.7h0m0.5-1.4h0m2.3-2.5h0m6.9 1.3h0m0.8 1.4h0m0 0.9h0m0.2 1.3h0m3.7-1.5h0m2 0.4h0m-25.4 7.4h0m3.6-1.8h0m2.9 2.4h0m0.3-3.5h0m0.4-1.2h0m1.2-0.3h0m0.7-0.6h0m0.5 2.6h0m19.5 2.3h0m-31.7 3.5h0m0.6 2.3h0m4.4-2.4h0m0.6 2.9h0m4.9-4.1h0m0.2 0.1h0m6.7-1.3h0m1.1 1.1h0m6.6 2.3h0m3.8-3h0m7.7 5.4h0m6.3-1.1h0m35.1-2.3h0m-77.7 8.4h0m0.3-1.3h0m0.1-2h0m0.5 0.3h0m0.2-0.8h0m0.5 3.8h0m0.1 0.7h0m0.2-4.7h0m1.7 4.7h0m1.2-1.1h0m2.2-2.1h0m0-1.6h0m0.8 5h0m0.5-1.1h0m2-1.3h0m0.1-1.4h0m0.2 0h0m2 2.5h0m0.3-0.8h0m2.2-2.4h0m4.7 0.2h0m1 3h0m0.4 1h0m2.4-4.4h0m0.3-0.8h0m1.3 0.7h0m3.7 0.6h0m68-1.6h0m-95.3 10.5h0m2.4 0.5h0m1.4-1.2h0m0.3-0.5h0m0.8 0.4h0m1.5-0.4h0m1.7 1.8h0m4.5 0h0m2.3-1.8h0m5.9-1.1h0m2.9-1.8h0m0.6 1h0m3.2 0h0m8.7 1.1h0m-37.5 5.7h0m1.5-1.9h0m0.2 1.8h0m0.3-1.4h0m3.1 0.2h0m12.4-0.9h0m27.9 2.1h0"/>
<path d="M83.2 441.1h0m8 0.1h0m27.9-0.7h0m4.2 3.4h0m4.5-3.6h0m1 0.3h0m1.7-0.2h0m0.3 2.2h0m8 0.5h0m2.3-2.9h0m0.6 0.4h0m0.5-2h0m0 2.4h0m0.4 1.1h0m4.9-0.7h0m0.5-1.5h0m0.5 1.1h0m1.9-1.1h0m0.6-0.1h0m0.5 4h0m0.5-2.5h0m4.9-1.1h0m1.7-0.3h0m0.7 1.7h0m0.4-0.1h0m-73.7 8.4h0m45.3-5.8h0m3.1 0.8h0m2.9 0.4h0m0.9 0.2h0m1 3.5h0m0.5-1h0m1-3.6h0m2.9 0.6h0m1.3 0.8h0m1.2-1.2h0m0.8 1.7h0m1 0.9h0m0.2 2h0m0.1-1.5h0m0.8 1.8h0m2.3-1.8h0m1.4-3.4h0m0.5 1.5h0m4.3-1.3h0m0.5 0.4h0m0.6 0.5h0m-68.8 4.9h0m34.3 0.8h0m9.6 2.9h0m8.1-2.4h0m0.5 3.2h0m0.7 0.3h0m2-0.1h0m0.6-0.9h0m5.7-1.9h0m0.5 2.6h0m1.4-0.8h0m2.9-0.7h0m3.1-2.9h0m0.7 0.6h0m-32.5 10.5h0m2.5-2.8h0m5.9 0.9h0m2.6 1.1h0m2.1-1.2h0m4.3-1.1h0m0.5 0.6h0m0.7-1.4h0m6.6-1.6h0m1.4 0.1h0m2.4 3.3h0m3.3-0.7h0m-113.6 3.7h0m2.4 1.9h0m67.7 2.5h0m3.5-1.4h0m1.2-0.1h0m14-3.3h0m8.6 2.7h0m0.8-1.4h0m1.7 3.9h0m5.6-4.1h0m1.1 2.7h0m-106 3.9h0m23.2-1.1h0m36.9 0.4h0m6.6 3.7h0m1.9 0.2h0m2-2.7h0m6.7-0.1h0m6.7-1.1h0m0.6 4.7h0m10.3-4.2h0m-76.3 9.6h0m18.5-0.5h0m22.7-0.9h0m11.2 2h0m0.6-5.2h0m8.4 0h0m5.3 3.3h0m4.6 0.1h0m9.8-0.6h0m-54.5 8.3h0m3.1-1.5h0m10.3 1.3h0m1.6-4.8h0m1 1.6h0m10.1-0.5h0m1.9-0.2h0m3.4 3.7h0m1.5-3h0m24-1.5h0m-62.7 9.2h0m13.8-3.3h0m2.3 4.8h0m1.7-3.7h0m0.2 3.6h0m2.8 0.4h0m5.1-5.1h0m10.1 1.7h0m0.1 2.9h0m0.7-4.9h0m2.6 3.9h0m2.1-1.7h0m-43.7 5.1h0m0.9 4.3h0m3.4-4.8h0m13.9 4.8h0m1.8-1.6h0m9-1.2h0m4.4-2.6h0m9.7 3.8h0m-52.4 6h0m15.3-3.4h0m7.5 3.9h0m1.3 0.1h0m1.7-0.8h0m3.6-0.3h0m2.2-2.2h0m38.3 1.8h0m-61.3 5.4h0m0.7 1.3h0m0.9-0.5h0m2 0.2h0m5 0.7h0m1.9-1.8h0m4-1.7h0m6.2 4.4h0m12.1-2.5h0m30.4 2.9h0m-99.3 3.4h0m7.8 1.1h0m14.5-2.5h0m20.3 1.7h0m2.3-0.7h0m1.4 2.4h0m3-4.6h0m3.4 1.5h0m0.9-1.4h0m2.5 0.6h0m2.7 3.2h0m1.4-3.9h0m-25.3 5.6h0m33 4.6h0m-68.2 1.5h0m13.9 3.6h0m4.5 0.1h0m8.5 1.2h0m5.5-1.6h0m6.7 0.8h0m7.7-3.1h0m24.8-1.1h0m1.5 4.3h0m-73.8 6.3h0m5.9-1.5h0m15.3-2.6h0m7.3 3.6h0m0 0.9h0m4.8-0.2h0m3.2-3.8h0m75.7 2.8h0m-106.9 4.7h0m2-1.7h0m2.7 0.1h0m1.2 2.4h0m1.7-0.4h0m3 1.7h0m0-3h0m2.4 2.2h0m0.3 0.4h0m0.3-0.6h0m0.9 0.2h0m5.9-0.1h0m3-3.1h0m6.4 4.2h0m4.6 0.4h0m0.5-3.2h0m2.7 3.1h0m-42 2.8h0m11.6-1.6h0m3.9 5h0m9.6-2.1h0m6.2 0h0m-31.5 7.4h0m1.8-2.4h0m0.1 1.4h0m1.3-1.5h0m0.5-1.7h0m1.7 2.4h0m4.1-2.3h0m1.6 1.4h0m2.8-1.5h0m7.4 4.9h0m3.2-5.2h0m0.1 2.8h0m-24.5 4.7h0m2.3 0.5h0m1.2-0.3h0m0.8 2.1h0m2.5 1.1h0m2.4 0.6h0m2.4-1.9h0m2-1.1h0m19.3-0.4h0m1.8-1.5h0m14.1 3.4h0m-49.3 4.8h0m1.3-0.5h0m0.4-0.5h0m3.7 0.4h0m3.3-0.4h0m0.1 0.1h0m2.8 0.7h0m0.3 2.6h0m5.1-5.1h0m0.5 2.3h0m1.8 1.4h0m0.3-4.1h0m0.2 4.9h0m5.6-2.9h0m6.9-1.9h0m7.9 1h0m-40.3 5.4h0m3.2 0.2h0m2.4 2.3h0m0.2-0.5h0m1.3-1.4h0m0.4-0.9h0m0.7 5h0m0.6-2.5h0m0.8-1.9h0m0.1-0.3h0m0.1 2.7h0m2.7 2.1h0m2.8-1.7h0m0 1.2h0m2.3-1.1h0m1.7 1.8h0m1.8-4.2h0m5.3-0.3h0m3.7 3.7h0m-29.3 4.9h0m1.5 1.7h0m1.2-3.6h0m0.4 1h0m0-1.5h0m2 3.1h0m0.8-2.2h0m0.6 1h0m0.1-1.9h0m3 4.4h0m2.2-1.6h0m2.3-2.7h0m1.9-0.2h0m9.3 0.9h0m0.7 3.6h0m5-3.9h0m44.2 1.8h0m-73.9 4.1h0m2.4 0.4h0m0.4 0.2h0m0.6-0.4h0m6.1-0.3h0m1.9 2h0m20.1-2.4h0"/>
<path d="M69.3 440.5h0m8.1 0.1h0m15.1 0.1h0m23.6-0.6h0m18.1 1.9h0m1.4-1.5h0m2.1 2h0m4.4-2.8h0m1.8-0.7h0m3.9 0.4h0m0.5 0.1h0m0.1 3.6h0m1.6-1.2h0m0.3-0.4h0m0.2-0.6h0m0.4 0.9h0m0.1 1.7h0m3.3-3.5h0m1.6-0.7h0m0.7 2.4h0m1.4 1.1h0m1.8-3.4h0m-29.5 7.9h0m9.5 1.4h0m0.1-0.3h0m0.5-4.3h0m5.2 0.1h0m2 1.2h0m0.7 3.2h0m2.2-2.1h0m3.5-2.3h0m3.1 0.7h0m0.1 0.5h0m1.7 2.9h0m-28.4 3.3h0m4.7 1.6h0m3-2.9h0m2.2 3h0m6.1 0.3h0m2.9-3.4h0m7.9 4.5h0m-76.1 2.5h0m40.7 1.1h0m12.4 3h0m3.1-0.4h0m0.5-0.1h0m1.9 1h0m0.2-2.3h0m1.5-0.9h0m7 1.1h0m1.7-1.1h0m9.7-2.2h0m-83.2 9.1h0m40.5-0.8h0m2 2.5h0m12.3-2.6h0m8.3 2.4h0m9.8-0.2h0m7-4.5h0m-89 8.2h0m23-0.2h0m2.2 2.4h0m31.2-4.7h0m8.3 5.5h0m14.8-1.8h0m2.8-3.5h0m7.9 1.6h0m3.2 0.8h0m-46.2 6.4h0m2.7 0.8h0m7.1 0h0m4-2.8h0m3 1.4h0m3.2-2h0m0.8 0.9h0m10.9 2h0m1.4-1.3h0m2.4-1.5h0m8.5 1.6h0m-58.5 6.3h0m6 1.1h0m6-2h0m6.3 4h0m3.1-2.6h0m0.5 2.6h0m-71.8 1.5h0m75.4-0.1h0m5.7-0.3h0m-62.6 10.6h0m17.4 0h0m4.5-0.2h0m25.9-4.2h0m4.6 3.7h0m8.3-4.4h0m1 0h0m-36.6 11.3h0m21.8 0.5h0m0.1-4.7h0m1.4 0.2h0m7.1 0.3h0m1.5 1.2h0m-53.7 5h0m16.4 3.9h0m11.2-0.5h0m1.2-0.7h0m2.4-1.9h0m3.8 1h0m5.3 1.5h0m5.2-3.8h0m2.9 0.6h0m-71.3 6.3h0m22.4 3.1h0m1.6-2.9h0m8.4-2h0m1.8 3.5h0m2-2.3h0m19.3 2.7h0m8.4 0.2h0m-65.3 5.2h0m1-0.3h0m12.2-0.1h0m3.9-2.7h0m3 4.6h0m0.1-3.4h0m15.5 1.5h0m9.1-2.1h0m-38.2 6.5h0m23.5 2.2h0m2.2-3.2h0m6.9 0.8h0m5.5 0.6h0m1.7 0.6h0m3.6 0.8h0m39.8 0.5h0m-86.8 7.6h0m23.4 0.2h0m2-5.6h0m0.6 3.3h0m0.9 1.3h0m1-0.1h0m3.7-0.5h0m4.5-3.3h0m7.3 3.8h0m-30.6 1.3h0m5.2 5.6h0m0.5-1.9h0m3.7-1.5h0m0.3-2.2h0m1.3 1.6h0m0.3 3.2h0m2.4 0.2h0m-30 6.6h0m2.2-1.1h0m0.7 0.5h0m1.8-4.5h0m7.9 1.2h0m14.1 2.2h0m1.4-0.2h0m7.5-3.2h0m9.2-0.1h0m42.4-0.2h0m-87.5 7.9h0m1 0.7h0m0.2-1h0m0.5-1.5h0m0.3 3.4h0m0.5 0.1h0m0.4 1.9h0m1.6-5.6h0m0.2 3.1h0m1.4-1.7h0m1.2 0.2h0m0.8 3.8h0m2.8-5.2h0m1.8-0.1h0m0.4 5.2h0m0.4-3.7h0m1.2 0.4h0m1.8-1h0m1 2.3h0m14-3.4h0m1.2 1.2h0m11.4-0.9h0m-44.4 7.8h0m0.2-1.2h0m3.3 1.1h0m2 3h0m3.1-4.2h0m0.9 0.9h0m0.5-0.3h0m0.7 0.1h0m5.5 3.1h0m0.6-0.5h0m7.5-3.9h0m0.4 3.6h0m2.8 1h0m0.1-1.5h0m-27.9 4h0m3.5 2.4h0m0.4 1.9h0m0.1-2.1h0m1.4-1.8h0m1.4-1h0m0.8 4.1h0m0 0.6h0m0.8-2.8h0m0.5 2.2h0m2.9-1.6h0m2.9 0.2h0m1.7-3.4h0m0.2 5h0m1.8-3.1h0m2.8 2h0m0.2 1h0m7.6-4h0m1.3 1.9h0m-30 5.4h0m1.4 1.2h0m2.1 0.3h0m0.1 1.5h0m2.2-4h0m3.6 3.2h0m0.4-2.8h0m1.2-1.1h0m1 0.1h0m3.1 0.2h0m0 2.4h0m0.2-0.7h0m0.9 1.3h0m3.6-3.3h0m0.4 4.7h0m7.9-4.6h0m41.8-0.5h0m-73.4 9.4h0m5.6 1.9h0m0.2-1.1h0m0.7-3.6h0m0.8 4.6h0m0.1-1.5h0m2.8-3.4h0m3.9 2.2h0m0.8 0.4h0m1.7-2.3h0m1.5-0.3h0m0.1-0.4h0m2.7 0.5h0m0.7 1.3h0m0.2 2.7h0m3.4-0.7h0m0-2.1h0m-23.7 4.7h0m1.2-0.4h0m2.5 2.4h0m0.2 0.2h0m1.1-2.5h0m1.6 1.6h0m0.4 1.2h0m2.4-2.8h0m0.4 0h0m0.5 0.4h0m2.5 1.4h0m0.9-0.6h0m1.4 1h0m5.4-0.6h0m4.6-0.9h0m7.3 0.2h0m66.5-0.6h0"/>
<path d="M76.8 439.7h0m49.7-0.1h0m9.8 1h0m6.7-0.4h0m0.4 2.4h0m4.2-2.2h0m0.6 1.9h0m1.1 0h0m0.9-1.6h0m2.3 3.1h0m1.9-2.4h0m0.7-2.3h0m1.9 3.3h0m0.1-2.9h0m2.3 3.6h0m3.2-4.5h0m-59.3 8.4h0m14.3 1.3h0m23.1-1.5h0m3.5-2.8h0m1.4 2.7h0m0.4-1.4h0m1.2 4.4h0m1.3 0h0m2.1-1.4h0m0.6 1.3h0m0.4-3.9h0m0.8 3.3h0m0.7-1.7h0m0.6 1.4h0m0.2-1.2h0m1.9 2h0m0-2.2h0m1.2-3.1h0m0.5 0.1h0m0.1 4.6h0m1 0.3h0m-100.2 1.8h0m64 1.6h0m1.1 0.7h0m11.6-2.5h0m5.2 5.1h0m1.7-4.2h0m0.3-1.6h0m2.3 4.8h0m1.9-0.9h0m0.2 1.1h0m1-3.7h0m1.6 1.2h0m5.3 1.8h0m1.3-0.6h0m1-0.1h0m-109.7 7.5h0m79.1-3.4h0m2.9 2.1h0m6.1-1.9h0m0.1-0.7h0m2.4 3.5h0m5.4-2.2h0m0.9 1.6h0m12.8-3.1h0m4 0.4h0m-54.2 8.4h0m3.8 0.9h0m3.2 0.1h0m19.2-1.9h0m6.4-1.3h0m6.5-1.3h0m3.1 4h0m-60 7.4h0m15.6-2.5h0m2.7 2.1h0m14.7-0.2h0m4.9-1.8h0m1.4-3.1h0m13.3 1.4h0m0.6 3.3h0m2.6-2.4h0m0.4-0.2h0m12 0h0m-60.3 4.6h0m12.6 2.1h0m1.8-3.1h0m16.9 4.3h0m4.7-4.1h0m3.1 1.4h0m8.4 1.8h0m-69.3 5.6h0m64.4 1.9h0m0.4-2.6h0m-50.6 5.2h0m11.9 1.3h0m10.3 3.1h0m1.2-4.3h0m1.3-1.3h0m10.4 4h0m0.4 0.1h0m1.3-3.2h0m1.2 2.9h0m0-1.8h0m3.9-0.1h0m3.8 3.4h0m6.7-4.9h0m16.1-0.7h0m1.8 0.4h0m-76.4 10.5h0m0.9 0.5h0m3.6-4.6h0m10.4-0.7h0m3.4 5.7h0m3.2-0.6h0m3.9-0.6h0m2.4-1.8h0m7.7 1.2h0m3.8-3.2h0m16.2 1h0m-56.1 8.4h0m6.5 1.7h0m1-4.2h0m14.6 1.2h0m7.2-0.8h0m3.6 1.7h0m0-1h0m6.2-0.8h0m14-1.3h0m-67.1 10.6h0m10.5 0.3h0m7.9-1.4h0m5.4-1.2h0m1.6 2h0m1.6-1.6h0m-47.8 4.5h0m3.1 1.2h0m36.9-1.1h0m16.2-1.3h0m15.2 0.7h0m0 3.9h0m15.7-4.9h0m17 5.4h0m-72.9 4.5h0m2.3-3.6h0m11.4 1.3h0m7.7 1h0m0.5-1.2h0m22.6 0.9h0m0.2 0.9h0m-76 2.6h0m5.6 0.6h0m5.8 1.5h0m4-1h0m9.5 4h0m1.7-1.1h0m2.6-0.9h0m0.2-3.1h0m8.6 0.8h0m3.7 4.2h0m0.8-2.4h0m3.2 1.3h0m10.3-2.8h0m-57.5 6.7h0m4.5 1.2h0m11.8 1.8h0m2.7-2.8h0m9.9 1.8h0m3.4-2.8h0m1.7 2.7h0m11-2.7h0m24.3 3.4h0m-64.7 3.4h0m2-1.1h0m0.2 2.1h0m4.7-1.2h0m0.7 2.8h0m0.5 0.9h0m4.8-3.4h0m2.5 2.1h0m28.5-1h0m2.9 1.8h0m26.3-3.4h0m-75.8 10.3h0m5.8-1h0m1.9-3.9h0m7.8 3.5h0m2.5-3h0m3.3 4.2h0m1.4-3.4h0m1.6-1.8h0m2.1 3.9h0m5.5-4.4h0m12.4 5.8h0m18.6-2.1h0m19-2.1h0m-81.7 6.9h0m1.4 2.1h0m1.4 0.1h0m2.6-1h0m3.5-1.6h0m1.5 3.7h0m1.5-1.8h0m6.5-0.2h0m1-2.1h0m2 1.7h0m6.5 0.2h0m3.2-2.5h0m2.8 2.6h0m7.2-1.6h0m3.1 2.8h0m-44.9 6.3h0m0.3 0.1h0m0.2-4.4h0m0.8 0h0m1.5 0.6h0m10.8 4.3h0m2.6-5.5h0m4.6 5.5h0m6.8-5.1h0m1.5 1.8h0m1.8-2.3h0m14-0.2h0m39.7 5.7h0m-83.3 4.8h0m0.2-2.7h0m1.5 4.1h0m1-2.8h0m4.1-0.9h0m5 0.1h0m7.1 3h0m1.9-0.5h0m1 0.2h0m2.4-1.7h0m0.2 0.5h0m0.5-3.4h0m31.7 1.5h0m15.8-0.2h0m-71.4 4.8h0m0.5 1h0m0.4 4.3h0m0.4 0.1h0m1.7-4.3h0m0.1 0.5h0m0.3 2.6h0m0.8 0.2h0m6 0.3h0m0.2-1h0m1.8-1.8h0m0.5 1.2h0m0.9-3.2h0m0.6 5.3h0m2.3-3.7h0m2.6 1.1h0m3.1-0.4h0m1.2-1.7h0m11.3 4.4h0m-38 3.9h0m1.6 2.3h0m0.8-1.5h0m1.1 1.6h0m1-2.6h0m3.6-3h0m0.1 4.7h0m2.8-3h0m3.7 2.7h0m4 0.2h0m1.8-0.3h0m14.2-3.6h0m-33.7 5.5h0m1.4 2.2h0m0.6-1.6h0m7.6 0.5h0m0.5 3.6h0m3.6-2.7h0m0.2-2.2h0m4.1 5.1h0m5.8-4.7h0"/>
<path d="M135.6 437.5h0m20.6-0.8h0m-85.4 5h0m5-1.4h0m13.7 2.6h0m32.9-0.4h0m14.9-3h0m1 2.2h0m2.2 0h0m2.2-1.1h0m3.8 2h0m0.9-1.2h0m0-1.2h0m0.4 1.9h0m0.2 0.6h0m2.1-2.6h0m0.3 2.1h0m1.3-0.4h0m2.3-2.1h0m1.4 4.1h0m0.9-0.2h0m0.5-2.7h0m-41.6 7.5h0m6.9 1h0m6.7 0.5h0m3.2-1.3h0m1.4 0.7h0m0.2-4.9h0m3.7 0.1h0m4.4 5h0m2.3-2.8h0m0.6-0.7h0m0.9 3.5h0m0-2.4h0m4.4-3h0m1.2 5.3h0m7.6-4.8h0m0.4 2.4h0m0.7-3h0m-111.4 11.2h0m67.3-3.1h0m14.4 3h0m6.2-0.6h0m14.1-2.3h0m5.5 1.5h0m2.5-1.8h0m1 3.6h0m-112.6 6.1h0m84.7-5.5h0m11.5 0.8h0m4.9 1.5h0m3.4 1.8h0m0.5-1.2h0m1.4-3h0m5.5 0.7h0m-110.8 6.5h0m68.5 2.4h0m11.7-3.1h0m0.7-0.5h0m4.6 2.9h0m0.1-1.1h0m5 0.7h0m8.6 1.1h0m1.2-0.9h0m10.6-1.4h0m-95.4 8.9h0m50.7-0.1h0m6.3-0.4h0m2.5 0.3h0m2 1.4h0m10-0.2h0m6.9 0.3h0m-92.7 2.2h0m0.7 0.6h0m46.6 1.5h0m5.3-2.9h0m22.3 3.9h0m1.9 0.7h0m25.6-5h0m-88.3 7.2h0m62.2 3.2h0m8.8-0.7h0m11.6-3.6h0m14.3 0.6h0m-62.5 6.6h0m7.9-1h0m8.4-0.1h0m2-0.4h0m7.9-0.2h0m9.1 0.2h0m19.1 2.4h0m-105.5 8.5h0m29.2-2.6h0m8.2-0.9h0m6.2 3.7h0m11.4-2.6h0m0.7-0.8h0m9.6-0.8h0m6-0.4h0m26.7 1.1h0m-95.9 5.4h0m36.4 4.3h0m7.1-1.2h0m9.6 0.5h0m7.9-3h0m7.6 3h0m1-3.5h0m2.2 3.4h0m-29.9 2.8h0m5.9 0.5h0m5.2-1.1h0m2.3-0.2h0m10.2 0.2h0m1.6 3.8h0m-48.6 1.7h0m21.5 0.6h0m0.8 4.6h0m3.9-4.9h0m1.3 1.5h0m4.4 2.6h0m5.8-0.4h0m1.2-0.7h0m6.6-0.7h0m6.2-0.4h0m-41.9 7.3h0m1.8 1.5h0m1.5-3.2h0m3.7-0.1h0m0.5-1.9h0m6.4 5.1h0m1.5-1.7h0m0.2-0.2h0m4.6 2.4h0m5-5.4h0m0.1 4.2h0m1.4 0.1h0m-41.6 6.4h0m5.3-0.4h0m1.8-3.9h0m1.2 0.5h0m7.9-1.2h0m0.1 2.9h0m1.6 1.5h0m0.3-3.2h0m5.6 3.6h0m5.6 0.8h0m1-2.2h0m-41.8 7.9h0m9.4-0.4h0m6-1.1h0m2 0.9h0m8.9-4.1h0m3.2 3.4h0m3.4-2.5h0m0.1 3.7h0m9.4-4.2h0m0.5 4.2h0m-39.2 6.5h0m6.7-2.6h0m0.5 0.1h0m9.1-3.2h0m1.7 3.2h0m12.3 0.9h0m-40.8 3.7h0m2.6 3h0m4.9 0.2h0m0.4-2.7h0m2.7 2.6h0m1.1-1.2h0m4 1.8h0m2.1-4.7h0m8.2 0.6h0m2.7 1.3h0m0.6 2.6h0m4.3-2.9h0m0.7-1.3h0m-31.2 5h0m5.5 1.9h0m3.8-0.9h0m0.1 0.3h0m1.1-0.8h0m2.3 2.2h0m3.8-2.2h0m4.3 0.9h0m0.4 4.2h0m5.4-3.6h0m0.7 3h0m12.5-4.6h0m30.4 3h0m-73.1 2.8h0m2.6-0.2h0m3.1 5.4h0m2.1-0.4h0m1.5-3.5h0m0.3 2h0m0.5-1.6h0m7.4 3.4h0m3.4-0.7h0m2.2-1h0m0.3-2.6h0m0.8 2.6h0m4.3-0.1h0m0.9-2.9h0m7.6 1.8h0m0.4-2.4h0m-35.4 7.7h0m1.8 0.8h0m1.4 0.5h0m3.8 2.4h0m1.4-4.2h0m1.1-0.3h0m1.1-0.6h0m2.1 4.5h0m2-5.1h0m0.7 2.4h0m0.1 0.7h0m0.1 1.6h0m4.2-3.4h0m5.2-0.5h0m0.7 3.3h0m2 0.8h0m1.4-0.3h0m81.3 0.1h0m-112.5 3.3h0m9.5 2.6h0m0.4-3.1h0m0.8 0h0m1.4 1.8h0m0-1.7h0m3.1 1.7h0m0.2 0.2h0m1.1-1.2h0m1.2 0.7h0m4.6-2.8h0m5 4.3h0m-26.4 1.8h0m2.4 4.6h0m0.2 0.4h0m0.8 0.3h0m2.2-3.8h0m0.3 3.1h0m3.6-4.2h0m0.1 2.3h0m3.4-0.7h0m2.7-0.8h0m3.4 2.5h0m0.7 0.7h0m3.9-2h0m0.2 1.7h0m0.1-1.6h0m4.7-1.1h0m2.6-1.2h0m3.7 3.2h0m-33 8.2h0m0.6-3.3h0m1-0.6h0m0.7-0.1h0m2.3-0.7h0m2.4-0.8h0m0.7 0.5h0m2.5 0.5h0m11.4-0.5h0"/>
<path d="M51.4 442.8h0m7.6-0.4h0m6.5 0.7h0m11.2-2.8h0m1.2 2.7h0m2.3-1.6h0m4.9 0.8h0m2-2.1h0m29.7 1.7h0m13.2 2h0m3.7-4.8h0m0.4 4.6h0m1.9-1.6h0m3.3 1.9h0m1.8-0.1h0m2.6-0.9h0m1.2-2.4h0m2.1 3.2h0m1-3.9h0m2.4 1.4h0m0.3-0.9h0m1.8 0.4h0m2.1 2.1h0m0.9-1.9h0m2.1 0.5h0m0.8 1.1h0m0.9-1.7h0m0 1.7h0m0 0.2h0m0.3-2.3h0m-78.7 5.3h0m24.7-0.8h0m17.7 4.6h0m4-1.4h0m0.8 0.7h0m4.6-2.7h0m0.9 0.9h0m3.3-1h0m5.3 3.9h0m0.6-1.4h0m2.3-2.3h0m2.5 1.6h0m0.2-3.5h0m1.1 0.9h0m0.6 4.7h0m0.2-4.5h0m1.4 2.7h0m2.5-0.4h0m0.1-1.6h0m1.8 0.4h0m4.9-2.4h0m-46.1 9.3h0m12.8-0.3h0m13.6 1h0m1.1-2.2h0m1.4 0.1h0m3.2-0.2h0m1.7-1h0m1 2.8h0m0.7 1.6h0m2.2-4.7h0m2.7 4h0m2.3-3.6h0m0.2-0.8h0m0.5 0h0m2 1.5h0m1.9 1.1h0m-61.1 4.2h0m18.1 2.4h0m12.6-3.1h0m6.1 3.3h0m3.7-0.6h0m3.4 2.1h0m1.1-0.5h0m5.7-3.7h0m1.6-0.5h0m3.8 2.9h0m-86.2 6.1h0m42 1.1h0m3.2-1.8h0m3.5-1h0m9.1 1.2h0m0.3-2.4h0m0.4 5.4h0m8.7-4.4h0m3.8 0.5h0m4 1h0m-95 4.5h0m75.9 0.7h0m5.6-1.3h0m0.1 0.1h0m23.4-0.1h0m5 1.9h0m-94.9 5.6h0m7.8 3h0m36.8 0.5h0m8.8-3.6h0m11.3-1h0m1.4-1h0m4.9 4.6h0m7.5-2.9h0m0.7 0.3h0m0.1 1.8h0m0.2-1.1h0m11.1-2.5h0m-109.1 8.8h0m2.5 0.9h0m44.8-0.7h0m7-0.1h0m11.7-1.7h0m13.6-0.4h0m0.7 0.1h0m4.4-0.4h0m3.1 3.7h0m4.6 1.1h0m-39.1 5.2h0m3.5 0h0m5.7-0.9h0m8.9-3h0m5.7 1.1h0m2.4 3.4h0m3.8-5.1h0m-42.1 6.3h0m6.4 1.6h0m3.1-0.7h0m6 0.2h0m1.8-1.1h0m2.8 3h0m6 0.7h0m4.1-1.8h0m0.1 2.2h0m5.5-0.7h0m-73.1 1.9h0m27.4 0.6h0m4.8 3.8h0m17.1-2.4h0m4.7-1.9h0m2.8 1.3h0m4.2 3.8h0m15.9-2.9h0m-80.1 7.8h0m15-1.6h0m3.1 3.3h0m22.2-0.3h0m4.5 0.2h0m7.2-1.7h0m1.1-0.6h0m22.1-1.8h0m5.6 0.2h0m-58.9 8.6h0m10 0.3h0m7-4.4h0m2.3 2.4h0m3.5 2.8h0m2.8-2.6h0m1.8-2.1h0m16.9-0.3h0m0.9 3.5h0m0.8 1.6h0m-64.7 4h0m5.5 1.7h0m0.3-2.3h0m5.1 2.3h0m2.3-3.6h0m13.3 1.5h0m10.9 1.9h0m4.1-3.1h0m23.7 2.6h0m-56.6 4.6h0m9.4 1.6h0m11.5 0.3h0m0.5-3.6h0m2.1 4.2h0m0.4-1.5h0m2.5-0.8h0m5.2 1.5h0m3.7-2.2h0m15.5 0.5h0m-61.2 4.3h0m17.6 2.4h0m4.8-2.8h0m2.6 1.6h0m18.6 0.4h0m0.4-0.9h0m-44.5 9.5h0m9.9-1h0m6.5 0.9h0m0.8-0.4h0m6.1 0.2h0m2.8 0.4h0m3.3-1.1h0m1.4-4.5h0m0.4-0.2h0m0.7 1.9h0m14.7 0.7h0m6.4 0h0m15-2.1h0m-69.7 8.6h0m2 1.4h0m1.8-3.4h0m0.2 3.7h0m0.2-1.7h0m1.2-1.2h0m3.2 0.9h0m0.7 0.6h0m1.6 2.2h0m0-3.2h0m1.1 1.2h0m4.6-3.2h0m5.2 2h0m0.6-1.8h0m6.3 1.5h0m3.6 2.5h0m4-2.6h0m7.5 1.1h0m6.6 2.2h0m-48.3 1.9h0m6.3 1.6h0m1.7 0.1h0m3-0.1h0m0.2-1.1h0m0.1 1.8h0m1-2.1h0m4.3 2.9h0m1.5-2.3h0m3.3-1.3h0m4.4 4.6h0m1.5-5.1h0m7 0.5h0m-37.1 10h0m1.1-3.8h0m0.3 3.7h0m3.1 0.6h0m0.6-2.3h0m1.7-2h0m1.5 3.7h0m3.4-3.3h0m2.7 0.8h0m0.2-1.2h0m0.7 3.7h0m3.3-4.5h0m1.2 3.9h0m2.9-1.9h0m2.8 2.4h0m-25.2 4h0m0.6-1.9h0m0.3 2.1h0m0.3 0.9h0m0.6-1.7h0m1.9 1.7h0m1.4 1.9h0m0.1-1.2h0m1.1-2.1h0m3.8 2.6h0m0.6-3.9h0m0.5-0.7h0m0.4 2.8h0m1.8 0.5h0m0.6-1.3h0m1.2-1.7h0m1.1 3.4h0m2.2-1.4h0m1.8 1.3h0m0.3 0.8h0m6.7 1.1h0m4-2.1h0m-34.2 5.6h0m4.1-1.3h0m1 1.5h0m1.1 0.1h0m0.1-0.4h0m0.8 1.5h0m0.2 0.6h0m1.1-4.5h0m1.6 4.8h0m1.6-0.1h0m0.1 0.2h0m4-5.2h0m1.2 0.5h0m0.4 4.5h0m0.5-1.2h0m2.7 0.7h0m2.4-4.8h0m9.4 1.5h0m0.1 2.7h0m1.1-4h0m10.3 0.2h0m-39.1 7.3h0m0.9 2.5h0m0.7-0.4h0m1.1-3.5h0m8.9 4.6h0m3.6-1.8h0m0.3 2h0m0.4-0.9h0m1.5-4h0m2.6 4h0m0.9-0.6h0m0.7-3.1h0m-15.8 6.7h0m1.4-0.2h0m1.3-0.9h0m0.3-0.2h0m4 2.7h0"/>
<path d="M152.4 437.6h0m-88.1 5h0m1.3-1.5h0m6-0.1h0m25.8-1.3h0m15.9 1.3h0m0.1-1.5h0m4.6 1.3h0m9.6 2.9h0m4.1-0.2h0m0.2-2.2h0m2.5-1.4h0m3.7 0.4h0m2.5 1.2h0m5.4-0.3h0m1.1-1.2h0m0.7-0.3h0m3.8 2.1h0m0.8-2h0m0.4 1.9h0m2.8-2.3h0m2.9 1h0m-55.8 5.7h0m27.6 2.6h0m3.4 0.9h0m0.5-2.7h0m5.7 2.1h0m0-3.8h0m1.6 4.1h0m12-4.3h0m0.3 3h0m0.8-1.3h0m1.3 2.7h0m2.1-2.3h0m0.1 2.4h0m0.1-3.5h0m1.1 2.4h0m0.1-4.4h0m-42 8.8h0m11.8 1h0m2.4-2.5h0m11.4 3.1h0m4-4.4h0m0.2 1.3h0m2.1 4.3h0m0.9-4h0m2.5-1h0m0 3.9h0m0.3 0.3h0m3.3-4.2h0m0 0.3h0m2 4.9h0m2.1-5.6h0m-78.2 8.6h0m42.9 3h0m10.1-2.2h0m1.5 1.2h0m7.5 0.7h0m-28.2 2.8h0m5 2.9h0m3.3-3.4h0m8-1.1h0m0.2 4.2h0m0.5-4.5h0m1.2 2h0m1.6 2.1h0m6.6-4.2h0m6.1 0.5h0m4.2 2.3h0m4.6-1.3h0m-94.3 8.6h0m56.6-1.9h0m1.7 3.4h0m4.1-4.3h0m3.4 1.3h0m9.1 0.1h0m-83.8 7.3h0m36.9-1.1h0m11.3-2h0m0.9 1.3h0m5.9 1.3h0m3.4 0.2h0m8.7-3h0m2.5 1.5h0m0.8 2.9h0m14.5-0.6h0m14.3-4.6h0m3.4 0.8h0m-106.8 9.3h0m33.1 0.5h0m9.5-1.2h0m10.3-2.5h0m8.9 0.9h0m8-1.8h0m0.9 2.3h0m4.9 2.9h0m23.4-2.7h0m-57.7 7.5h0m0.1 1.6h0m10.8-1.2h0m7.2 0.6h0m3.9-4.9h0m1.7 0.5h0m1.2 2.2h0m4.3 1h0m0.1-3h0m8 3.7h0m-82.1 6.7h0m47-5h0m10.2 2.7h0m9.3 1.6h0m1.1-1h0m7.6 1h0m7.5-2.9h0m8.6-0.9h0m-90.6 6.2h0m51.3 3.5h0m9.6-1.5h0m3 0.8h0m5.6-2.3h0m3.8 2.9h0m9.2 0.9h0m-72.1 1.8h0m22.6-1h0m8 3.3h0m0.4-0.8h0m8.2-0.3h0m25.1-0.2h0m1.7-0.5h0m-70.5 6.3h0m7.1-1.8h0m7.9 3.3h0m0 1.9h0m0.2-4.7h0m6.2 4.3h0m6.9-1.2h0m6 0.5h0m0.5-3.3h0m6.2 4.9h0m4.8-2.2h0m0.5-0.4h0m-31.7 2.9h0m12.4 3.2h0m2-1.5h0m3.1-0.4h0m4.6 4.2h0m9.8-5.4h0m13.9 3.7h0m11-1.8h0m-78.3 7.4h0m7-2.2h0m28.9 0.6h0m6.1 1.7h0m5.6-0.5h0m-44.9 4.5h0m1.1 4h0m10.7-1.5h0m13.2-0.2h0m5.5-0.1h0m1.7-1.4h0m6.2 1.3h0m-40 3.9h0m0.3 0.2h0m2.1 1.4h0m3.2 1.3h0m3.6-2.5h0m0.7 2.4h0m6.3-1.6h0m8.5-0.8h0m1.7 1.7h0m3 1h0m2.9-2.6h0m24.9 0.5h0m-56.3 8.8h0m2.4-1h0m0.9 0.5h0m4.5-4.5h0m4.5 3.6h0m5.9-1.8h0m3.3-0.5h0m3.8-0.6h0m4.2 1.8h0m1 1.5h0m-31.3 7.4h0m0.6-5.7h0m3.9 2h0m2.9 3.5h0m4.8-0.2h0m5-3.6h0m2.5 4h0m6.1-0.5h0m4.6-3h0m67.9 3.1h0m-99.4 1.1h0m1.9 1.4h0m0.8 0.5h0m6.6-1.3h0m1.2-0.5h0m4.3 4.1h0m1-1.4h0m6-3.4h0m0.1 1.6h0m1.6 2.2h0m2.1-0.9h0m74.4 2.4h0m-97.8 3.6h0m1.2-1.4h0m1.2-0.4h0m0.2 4.3h0m1.9-2.4h0m1.7-1.2h0m1.2 2.9h0m0.5-4.7h0m0.2 2.2h0m0.7 3.4h0m3.1-1.7h0m6.1 1h0m0.1-2.2h0m0.5-1.8h0m0.1 1.1h0m8.9-1.1h0m0.3 0.9h0m6-0.5h0m11.3 4.2h0m-47.1 6h0m0.5-5.3h0m0.8 2h0m2.2 0.9h0m0.2-1.3h0m1.8 2.7h0m0.9-2.3h0m0.1 3.4h0m3-5.4h0m6.3 4.5h0m1 0.2h0m0.4-2.9h0m0.5 3.8h0m2-4.7h0m6.6 4.8h0m16.7-1.5h0m14.3-3.5h0m-56.2 6.9h0m0.2-0.7h0m1.7 0.8h0m1.8 2.1h0m3.1-1.8h0m1.2 0h0m0.1 0.6h0m2.1-1.7h0m5.1 0.9h0m3.9 1.4h0m0.1-0.6h0m3.5-2.8h0m5.1 3.6h0m2.1-1.4h0m0.1 1.6h0m17-3.5h0m-51.7 7.3h0m6.2 4.2h0m0.6-3.1h0m1.4-1.4h0m0.3-0.2h0m1.9 1.9h0m1.7-2.7h0m0.6 2.3h0m7.5 1.9h0m11.9-1.8h0m4.7-1.2h0m10.2 0.4h0"/>
<path d="M148.3 437.6h0m-87 2h0m5.2 0h0m12.5 3.8h0m17-1.6h0m17.2-1.8h0m8.5 1h0m4.5 1.5h0m1 1.1h0m3.6-3h0m8.1-2h0m5.2 4.5h0m2-2.5h0m3.1-0.6h0m2.7-0.8h0m2.8 4.7h0m2.2-2h0m0.2-1.5h0m1.1 2.4h0m-48.4 4.2h0m22.2-2.7h0m1.3 2.1h0m3.2-0.9h0m1.6 0.9h0m2.3 3.2h0m0.3-5h0m0.8 5h0m1.9-2.6h0m0.5 2.8h0m1.1-3.9h0m1 2h0m4.2 1.3h0m0.7-5.1h0m1.6 2.7h0m1.6-0.2h0m3.7 0.1h0m3.1-2.5h0m0.6 5h0m-29.3 1.5h0m5.6 4.5h0m2.4-0.4h0m0.3-2.3h0m1.9 2.1h0m5-2h0m0.7 3.3h0m2-0.2h0m0.7-2.1h0m0.2 0.8h0m1.4-3.1h0m3.6 0.4h0m1.2 2.3h0m2.3-0.4h0m-112.4 6.7h0m65.2 0h0m4.7-1.5h0m26.3 0.2h0m2.7 1.5h0m7.8 1.3h0m5.2-0.8h0m-109.9 4.3h0m31.1-2h0m53.6-0.8h0m9.7 0.1h0m0.9 2.7h0m2.2-3.2h0m5.1 0.6h0m3.9 3.6h0m-88.2 7.4h0m35.6-4.6h0m20.9 1.1h0m1.7-0.9h0m4-0.3h0m5.3 4.9h0m0.1-0.4h0m3.8-5.5h0m-60.4 11.5h0m20.2-1.7h0m9.9-2h0m6.7-0.4h0m0.2 4.3h0m5.8-3.1h0m21.7-1.1h0m2 2.6h0m-50.3 3.5h0m5.7 0.3h0m7.9 2.4h0m0.4 1.5h0m14.8-1.5h0m0.7 1.5h0m2.3-3.6h0m10.5-0.7h0m17.9 1.5h0m-71.1 7.1h0m24-1.5h0m1.8 1.5h0m15.5 0.8h0m15-0.8h0m-53.2 7.4h0m2-5h0m17.8-0.3h0m16.7 5.7h0m1.6-0.6h0m-56.1 1.8h0m27.4 4.3h0m5.5 0h0m2.9-2h0m15.4 2.4h0m1-4.5h0m37.4 4.4h0m-85.2 6.1h0m5.9-2.2h0m0.3-3.6h0m15.2 2.9h0m1.1-1.4h0m4.2-0.7h0m14.2 3h0m-49.9 2.5h0m11.9 1h0m0.9-0.5h0m14.3 3.1h0m2.1 2h0m6.5-2.2h0m0.3-3.2h0m7.8 2.3h0m1.5-0.5h0m-61.9 6.9h0m20.3-2.2h0m4.4 3.3h0m12.2-3.1h0m2.1 2.9h0m16.9-3.6h0m5.5 4.3h0m4.5-2.2h0m2.4 3.2h0m-69 0.7h0m0.7 0.7h0m3.6 2.7h0m0.7-0.7h0m17 2.1h0m4.5-1.2h0m6.7-3.2h0m0.8 0.2h0m1.8 2.7h0m11.9-0.1h0m1.1 1.8h0m4-4.5h0m-48.6 6.9h0m11.2 2.7h0m7.7-3.4h0m7.3 1.2h0m4.8-1.2h0m5 0h0m1.8 0.7h0m8.9-1.1h0m49 0.7h0m-98.9 9.7h0m2.1-3.1h0m10.2 0.3h0m2.1-1.7h0m0.8 1.8h0m11.8 1.7h0m5.2-3.2h0m5.1 0.8h0m5.7 3.4h0m0.3-1.2h0m1.3-3.7h0m-42.2 11.2h0m0.7-1.1h0m7.9 0h0m0.8-4.1h0m0 3.7h0m8.3-2.7h0m0.8 0h0m2.7-0.5h0m1.1 4.6h0m4.4-4.1h0m1.4 1.9h0m15.3-2.2h0m6.9 2.2h0m-52.3 3.7h0m2.8 3h0m1.2-1.5h0m0.6 1.9h0m0.1-0.5h0m2.4-3.8h0m0.9 3.5h0m0.2-2.6h0m0.6-0.7h0m1.9 1.5h0m6.6 2.8h0m4.2-3.6h0m1.9 2.9h0m0.6 2h0m9.3-0.5h0m3.5-2.5h0m-39.9 4.7h0m0.2-0.5h0m1.9 3.5h0m0.2-1.9h0m0.3-2.4h0m3 2.7h0m1.3 2h0m2.7-4.1h0m5.6 0.3h0m2.9 4.3h0m4.1-4.2h0m1.9 2.1h0m0.5-0.6h0m0.5 0.6h0m0.8 0.4h0m2.9-0.4h0m11.1 2.3h0m-38.6 5.3h0m0.4-1.1h0m1.2-1.1h0m2.6 0.1h0m2.1 2.2h0m0.8-4.4h0m0.2 2.5h0m3-1.8h0m2.6 2.8h0m0.3-0.5h0m0.3 0.8h0m3.6-3.6h0m3.2 2.3h0m2.2 1.4h0m1-4.4h0m7.9 5.6h0m25.2-0.1h0m53.8-1.7h0m-110.2 2.5h0m4 5.5h0m2.3-2.5h0m1.6 2.4h0m0.5-5.4h0m0.8 2.4h0m1.8-1.8h0m0 0.1h0m1.8 1.6h0m0.2 2h0m0.3-3.9h0m1.8 1h0m3.9 0.4h0m0.4-0.9h0m2.9 0.8h0m0.7 0.7h0m-21.9 8.4h0m0.5-0.6h0m0-1h0m4.9 1.3h0m0.7-3.5h0m0.7 1h0m0.6 3.4h0m1.9-2.4h0m1.3-1.2h0m0-1.4h0m8.6 1.6h0m-23.4 6.8h0m7.4 1h0m2.3-2.9h0m1.4 1.4h0m4.3-1.4h0m1.2 1.3h0m0.5-1.1h0m5 0.7h0m5.6 0.1h0m8.5-0.3h0"/>
</g>
<path d="M46 579L160 439.3" stroke="#808080" stroke-width="2.4" stroke-dasharray="8.9 3.9" clip-path="url(#ce1)"/>
<rect x="46" y="439.3" width="114" height="139.7" fill="none" stroke="#000" stroke-width="2.2"/>
<path d="M46 579V582.2M42.8 579H46M103 579V582.2M42.8 509.1H46M160 579V582.2M42.8 439.3H46" stroke="#000" stroke-width="2"/>
<text x="46" y="593.8" font-size="14" text-anchor="middle">0.0</text>
<text x="40.6" y="583.9" font-size="14" text-anchor="end">0.0</text>
<text x="103" y="593.8" font-size="14" text-anchor="middle">0.5</text>
<text x="40.6" y="514" font-size="14" text-anchor="end">0.5</text>
<text x="160" y="593.8" font-size="14" text-anchor="middle"><tspan class="h">1</tspan>.0</text>
<text x="40.6" y="444.2" font-size="14" text-anchor="end"><tspan class="h">1</tspan>.0</text>
<text x="102.4" y="610" font-size="11" text-anchor="middle">PLQY pred.</text>
<text transform="translate(12.7 510.8) rotate(-90)" font-size="11.2" text-anchor="middle">PLQY label</text>
<text x="97.6" y="556.4" font-size="11">R<tspan font-size="7.8" dy="-3.6">2</tspan><tspan dy="3.6">: 0.722</tspan></text>
<text x="97.6" y="569.5" font-size="11">MAE: 0.<tspan class="h">1</tspan>0<tspan class="h">1</tspan></text>
<clipPath id="ce2"><rect x="219" y="438.1" width="111.7" height="139.8"/></clipPath>
<g clip-path="url(#ce2)" fill="none" stroke="#ffc473" stroke-opacity=".45" stroke-width="5" stroke-linecap="round">
<path d="M313 446.5h0m-15.1 14.7h0m-8.4 2.4h0m-6.4 8.8h0m-11.9 7.5h0m10.2 4.1h0m1-0.6h0m-11.9 6.2h0m16.3-3h0m1.6-0.5h0m-25.7 10.3h0m19-1.5h0m2.6 0.4h0m3.9-1.5h0m-28.4 6.7h0m3.4 3.4h0m3.1-2h0m4.1 1h0m3.2-1.2h0m1.6 1.8h0m1-1h0m1.6-2.1h0m1-0.8h0m2.1 2.8h0m2-0.1h0m-27.1 5.7h0m9.9-3.3h0m0.7 0.2h0m2.4 1.8h0m-12.6 7h0m2.3 1.4h0m1.7-4.1h0m0.6-0.8h0m2.7 3.9h0m0.4 0.5h0m1 0.3h0m0.7-0.2h0m0.4-3.7h0m2.5 1.3h0m0.6 0.5h0m1 1.8h0m0.7 1.3h0m2.4-3.4h0m0.2-1.6h0m1.7 4.3h0m1-5h0m2.4 1.8h0m0.8-0.3h0m-20.9 6.8h0m0.6 0.6h0m2.1 1.5h0m3.4 1.3h0m0.9-3.9h0m0.6 2.5h0m1.9-1.7h0m1.5 1.1h0m3.6-2.1h0m0.6 0h0m0.8 0.5h0m-28.6 6.4h0m11.4 1.9h0m0.4-3.6h0m0.7-0.1h0m0.7 4h0m0.2-4.3h0m0.2 2.7h0m2.2 1.4h0m0.9-2.9h0m2.2 1.5h0m1.4-2.2h0m1.6 4.7h0m0.6-2.9h0m-20.7 3.3h0m3.3 5.1h0m1.5-2.6h0m0.1 2.2h0m2.3 0.2h0m0.1-4.9h0m0.5 3.7h0m0.8-0.1h0m0-1.5h0m0.6 3.3h0m1-5.4h0m3.1 5.3h0m6.1-5.2h0m-24.6 7.8h0m6.1 0.9h0m2.3-1.3h0m1.7-0.5h0m0.2 0.2h0m1.8-0.9h0m0.1 2.2h0m2.3 2.7h0m0.5-0.2h0m4.6-1.4h0m0.3-1.4h0m2.8 3.4h0m0.9-2.1h0m-17.8 6.6h0m0.6-2.8h0m2.5 1.4h0m0.2 0.5h0m0.4-1.1h0m0.2 2.3h0m1.5-1.2h0m2.1 1.3h0m0.2-3.7h0m0.5 4.6h0m0.3-3.1h0m2.8 3h0m1.8-0.1h0m2.7-3.5h0m1.5-0.3h0m-25.9 4.9h0m0 3.2h0m8.8 0h0m4.1-2.8h0m2.2 2.6h0m3.4 2h0m1-0.1h0m-8.7 3.4h0m1.3-0.2h0m-19.4 9h0m1.6-3.2h0m0.1 2.9h0m1-1.3h0m0.5 0.7h0m5.6 0.5h0m-5.2 5.7h0"/>
<path d="M309.9 451.7h0m-26.5 10h0m28.5 7.4h0m-31.1 10.3h0m-6 4.5h0m8 1.6h0m-17.4 5.3h0m17.2-2.8h0m-1.5 7.8h0m1-2.8h0m0.7-0.7h0m-18.9 9.1h0m2 1.9h0m2.1-1.4h0m1.5-1.8h0m0.5-2h0m0.2 3.3h0m6 0.6h0m5.3-3h0m-23.6 9.4h0m4.4-0.2h0m0.3-3.4h0m3.3 1.3h0m0.2 2.5h0m1.1-1.9h0m0.7 3h0m0.5-1.8h0m0.1-3.4h0m2.2 2.7h0m1.9 0.5h0m3.8-3.7h0m6.9 0.1h0m-33.6 6.7h0m6.3 2.4h0m3.4 0.7h0m0.5-2.6h0m0.2 4.2h0m1.2-4.2h0m2 1.1h0m3.3-1.9h0m3.1-0.2h0m0.2 0.8h0m1.8 3.2h0m6.3 1.4h0m-26.1 2h0m0 2.6h0m3.5 1h0m0.2-2.9h0m1.1 2.8h0m3.3-1.5h0m0.9 1.7h0m0.1-3.5h0m0.3 3.2h0m6.1-4.3h0m2.3-0.2h0m1.7 3.4h0m-18.8 3.2h0m6.3-0.1h0m4.7 1.6h0m0.8-2.4h0m3 5.1h0m0.6-4.1h0m1-0.9h0m0.9 1.9h0m2.2-2.1h0m-26 11.4h0m6.8-5.2h0m4.3 4.3h0m0.1-3h0m0.8 3.2h0m0.4-0.9h0m0.1 0.2h0m1.7 1.3h0m5.2-3.5h0m1.4 0.2h0m0.1 2.1h0m0.6 0.8h0m-18.8 3.2h0m0.4-0.9h0m0.3 3.5h0m0.5-4.3h0m0.2 2.9h0m0.4 0.6h0m3.8-2.6h0m3.9-0.9h0m1.8-0.5h0m0.2 1.4h0m1.6-0.5h0m5.5 4.2h0m-27.2 5.5h0m2.2 0.9h0m2.2-0.8h0m0.1-3.7h0m0.7 0.9h0m0.3 0h0m3 3.2h0m1.1-4.4h0m0.3 0.6h0m2-0.3h0m0.2-0.5h0m1.6 1.8h0m3.4 2.7h0m0.6 0.8h0m-14 5.6h0m0-4.4h0m3.2 0.4h0m1.8 2.1h0m1.9 1h0m1.6-1.9h0m0.4-0.1h0m0.3 0.6h0m2.3 1.4h0m0.3-0.7h0m0.3-2h0m1.9 0.8h0m-16.7 8.2h0m1.1-0.5h0m0.1-4.2h0m0.9-0.1h0m3.8 2.2h0m2.4 2.8h0m6.6-3.8h0m-30 9.4h0m7.9-0.6h0m4.7-3.9h0m1.6 3.4h0m0.3-0.6h0m5.8-2.3h0m-16.3 7.4h0m1 3.7h0m3.6-5.2h0m3.1 4.6h0m4.4-4.8h0"/>
<path d="M311.5 442.7h0m-33.6 3.1h0m3.6 14.2h0m-0.8 21.3h0m7.8-0.6h0m-31.4 8.2h0m6.2 2.2h0m8.7 3.7h0m1.9-0.5h0m1.2-1.8h0m0 3.8h0m2.2-2.2h0m9.4 1.7h0m-21.2 5.9h0m2.3-2.9h0m0.4 4.2h0m0.3 0.9h0m0.3-4.5h0m3.2 3.4h0m5.8-4.2h0m-23.5 9.1h0m8.4-1.2h0m1.8 2.1h0m1.7-0.2h0m4.8-3.2h0m1.2 2.9h0m2.3 1.3h0m0.7-2.3h0m3.4-2h0m1.1 4.2h0m-18.2 4.8h0m1.1-2.3h0m2.5 0.7h0m1 0.9h0m2.5-0.8h0m0.1 1.2h0m2.7 1.7h0m-25.2 2.8h0m6.3 1.2h0m3.5 1.7h0m1.4-2.5h0m0.1 0h0m1.3-2.3h0m1.2 3.4h0m0.2 2h0m0-2h0m0.4-2.7h0m3.6 2.2h0m1.7 1.5h0m1.7-4.1h0m1.6 0.5h0m0.9-0.8h0m1.2 5.1h0m1.2-1.6h0m4.5 0.1h0m0.1-1.9h0m0.1 0.6h0m2.4-1.5h0m0.8 0.3h0m-27.9 10h0m0.6-0.8h0m1.8-2.2h0m0.3-2.4h0m2.6 0.5h0m1.2 0.4h0m1.1 1h0m0.1-0.2h0m0.7 3.4h0m0.9-0.8h0m0 1.5h0m0.7-5.6h0m0.2 2.9h0m1.2-2.9h0m0.9 5.1h0m1.6-2.6h0m0.5 0.1h0m-12.3 5.3h0m0 2.9h0m-4.7 4.8h0m2.3 1.3h0m2.2-1.1h0m4.2-3.6h0m1.5 2.6h0m-17.9 7.6h0m0.3 0.7h0m2.4-1.9h0m1.7 0.2h0m0.5-3.4h0m1.3 4.5h0m4.7-2.2h0m5.3 1.8h0m0.4-1.4h0m0.6-0.7h0m0.8-2.1h0m7 0.9h0m-27 7.4h0m5.5-1.6h0m0.1 4.1h0m0.3-1.5h0m0.2 2.2h0m0.4-0.4h0m14.1 0.6h0m-17.3 2.7h0m0.6-1.6h0m0.5 0.8h0m1.1 2.8h0m10.2 1.1h0m-19.6 5.9h0m3.8-3.2h0m1.9 1.6h0m4.8-3.1h0m-13.6 10.1h0m2.5-1.8h0m-0.3 4.2h0"/>
<path d="M297.6 446.9h0m-9.1 17h0m-17.3 25.7h0m-1.3 7.8h0m8.7-0.5h0m-21.6 4.4h0m13.3 1.1h0m3.8-2.3h0m1.1-1.4h0m1.7-0.3h0m-21.6 7.6h0m4.2 1.3h0m3.8 2h0m0-4.5h0m3.8 3.9h0m3.9-1.1h0m0.6-1.6h0m0.6 2.1h0m3.1-3h0m5.1-0.3h0m-22.9 7.5h0m0.4-1.7h0m0.1 1.9h0m1 2h0m2.3-4.2h0m1.1 2.5h0m1.1-2h0m0 1.7h0m1.3 2.9h0m0.6-3.1h0m0.8 1.5h0m0.2-1.6h0m2.7 0h0m0.6 2.2h0m0.4 1.3h0m0.7-1h0m1.3-1.3h0m0.1 0.9h0m3-2h0m4.7-0.9h0m-30.1 8.9h0m8.1-1.1h0m0.2 0h0m3.1 1.6h0m1.9-2.8h0m0.7 0.1h0m2.3-0.8h0m0.3 1.4h0m2-2.3h0m4.1 2.9h0m1.3-0.7h0m-28.8 6.6h0m2.8 0.4h0m0.9-2h0m1.9 3.5h0m1.6-4.2h0m2.5 3.1h0m0.7 1.8h0m2.7-0.2h0m0.7-4h0m0.5 2.9h0m1-0.4h0m1.5-4.1h0m0.8 5.7h0m1.9-1.3h0m0.3-0.8h0m-13.6 2.9h0m4 3h0m2.2-0.8h0m0.2 1.7h0m0.3-1.5h0m1.5 1.3h0m0.6 1.4h0m0.2-3.5h0m7.6-1.9h0m-31.1 10.8h0m15.6-4.4h0m1.7 3.2h0m0.1-0.2h0m0.1-1.5h0m0.5 3.7h0m1.9-2h0m7.4 0.6h0m-23.4 7.5h0m3.7-1.5h0m5.5-2.3h0m0.6-0.7h0m0.1 0.7h0m2-1.3h0m7.3-0.4h0m-13 7.5h0m1 0.2h0m0.8 1.7h0m0.2-3.4h0m0.7 1.3h0m1.7-1.6h0m0 5.7h0m-11.7 0.2h0m10 0.9h0m3.4-0.3h0m-13.6 10.4h0m0.1-1.2h0m-7.1 7.6h0m2.8-3h0m1 2.3h0m1.8-3.4h0m3.2-0.1h0"/>
<path d="M301.8 465.5h0m-31.9 13h0m13.2 1.9h0m5.9 0.8h0m-23 7.4h0m-8.8 7.4h0m16.1 1.1h0m1.3-0.5h0m17.4-2.7h0m-43.2 9.2h0m7.7-1.7h0m9.8 0.1h0m1.7 1.6h0m0-0.6h0m2.1-1.4h0m0.9 0.5h0m0.2-1.1h0m1.6 0.3h0m2.8 0h0m0.2 0.8h0m1.7 0.2h0m-13.4 6.4h0m3.5-3.3h0m1.9 0.7h0m3.2 1.6h0m4-1.5h0m5.7 1.8h0m-35.7 6h0m4.3 0.2h0m6.1-0.5h0m3.4-2.3h0m1.4 4.6h0m1.9 0.2h0m2-3.3h0m0.3 1.9h0m0.1-2.1h0m1.4-0.3h0m0.2 0.9h0m0.3-0.6h0m1.1 3.6h0m0.8-2.7h0m0.5-1.7h0m8 2.4h0m-32 7.7h0m5.7-5.4h0m0.9 0h0m4.9 3.1h0m2.7-1.8h0m4.2 1.8h0m0.8-0.3h0m1.4-1.9h0m0.1 1.1h0m0.1-0.5h0m2.8 1.9h0m1.4-2.2h0m1.2-1h0m6.7 3.6h0m-27.3 6.3h0m6.3-2.2h0m2.8 0.3h0m0.4 0.8h0m1 2.5h0m0.2-3.2h0m3.9-2h0m0.1 3.6h0m1.6-4h0m4.5 4.2h0m-25.3 5h0m5.2-2.6h0m1.2 3.3h0m0.6-3.3h0m0.2 3.4h0m6.2 1.7h0m1.3-2.9h0m1.7-0.9h0m0.1 1.5h0m4.3 1.2h0m1.7-0.8h0m1.3-0.1h0m-24.3 6.1h0m0.8-2.5h0m6.3 4.3h0m0.1-1.8h0m3 0.4h0m1.4 1.7h0m0-0.6h0m3.7-0.7h0m-19.9 4.9h0m9.4 0.1h0m1.7-0.8h0m0.2-0.7h0m1.1 0.2h0m2.1 1.8h0m2.2-0.6h0m5.5 0.8h0m-26.9 4.9h0m2.5 2.2h0m4.3-3.7h0m0.1 1.1h0m0.7 0.2h0m2.5 0.6h0m0.6 1.3h0m0.8-2h0m6.1-0.5h0m-18.5 8.5h0m3 0.3h0m3.3-1.1h0m1.8 0.8h0m0.8-4h0m4.6 0.5h0m-9.3 6.8h0m-13.7 7h0m2.9-0.4h0m1.8-1.8h0m2.6 4.2h0m0.4-0.9h0m1.7-2.5h0m3.3 1.6h0"/>
<path d="M313.4 445.7h0m-19.2 21.8h0m-24.8 17.4h0m-0.3 7h0m3.1-3h0m4.2 1.8h0m3.2 0.6h0m6.4-2.2h0m-25.4 7.3h0m1.3-3h0m7.8 2.6h0m4 0.7h0m0.7-0.3h0m0.3-0.7h0m2-0.1h0m4.8-0.6h0m2.5 0.5h0m-26.4 8h0m11.8-4h0m6 3.3h0m0.4-1.5h0m1.7-1.9h0m1.2 0.6h0m0.5 1.2h0m-17.2 5.2h0m3.3-2.3h0m4.3 3h0m1-1.3h0m0.5-1.3h0m1.8 4.7h0m2.1-1.7h0m2 1h0m-26.2 4.6h0m7 0.9h0m3.2 0.8h0m0.7-2.7h0m1.2 3.7h0m2 0h0m0.5-3h0m4.9 0.1h0m3.9 2h0m1.9 0.6h0m-25.4 3.8h0m4.1 0.6h0m0.2 0.3h0m0.5-4.2h0m3.3 1.2h0m2.2-0.1h0m1.6 0.6h0m0.4-1h0m0.2 5h0m2.6-0.3h0m0.6-4.6h0m1.9 2.2h0m0.7-1h0m0.5-0.7h0m0.8-0.7h0m0.5 2.5h0m-21.2 2.9h0m9.5 2.2h0m1.6-1.3h0m0.8-0.3h0m1.4-0.4h0m1.8 5.1h0m0.3-0.5h0m0.3-2.3h0m4.9-0.9h0m-30.1 8.1h0m0.7-1.2h0m13.2 3.3h0m2.1-0.2h0m5.3-0.2h0m2.5-3.1h0m1.2 2.9h0m1.3-3.7h0m0.2 3.9h0m1.4-1.5h0m1.1-3.5h0m3.2 1.9h0m-18.5 6h0m0.9-1.8h0m0.6 3.8h0m1.7 1.6h0m0.7-0.8h0m1.1-0.9h0m0.3-1.5h0m2.1-1.3h0m0.1 0.5h0m0 0.8h0m1.1-2.4h0m7.6 1.7h0m7.5 0.1h0m-36 9.2h0m5.8-4.3h0m1 2.6h0m1.8 0h0m3.5-2h0m7.4 2.6h0m0.5-3.7h0m0.1-0.3h0m2.7 0.1h0m-25.2 10.5h0m1.5-3.1h0m0.8 2.9h0m3.5 0.1h0m2.7-2.6h0m2.5 2.3h0m2.3 0h0m1.2-1.2h0m-19.2 5.1h0m4.1-0.7h0m2.7 0.4h0m1.5-1.2h0m0.1 3.7h0m0 1.1h0m2.7-2.8h0m0.8 1.8h0m1.5-0.2h0m0.2 0.3h0m0.1 0.7h0m2.8-3.9h0m-14.3 9.7h0m3.7-2.5h0m1.8-0.3h0m0.1 0.3h0m12.4-1.6h0m-27.2 10.7h0m4 1h0m2.3-0.7h0"/>
<path d="M295.2 461.8h0m8.5 6.7h0m-29 19.3h0m-13 6h0m7.3 0.4h0m0.1-0.7h0m3.7 0.8h0m-19.3 8.9h0m8.1 0.6h0m3.6-4.6h0m9.2 3h0m0.6-0.7h0m3.1 2.1h0m-28.6 1.5h0m4.6 4.7h0m6.8-0.5h0m1.4 0.5h0m1.5-1.2h0m3.1-2.7h0m0.6 0.9h0m11.3-2.4h0m-33.6 7.6h0m12.5 3.8h0m3.1-1.5h0m0-2.2h0m0.1 2.7h0m3.1-1.9h0m0.7 1.5h0m0.3-3.3h0m0.2 0.2h0m1.8-0.3h0m0.5 1.3h0m0 1.9h0m2.1-1.4h0m-24.9 5.8h0m7.2 2.1h0m4.7-0.3h0m1.5-1.1h0m1.6 2h0m4.8-0.4h0m1.2-1.5h0m0.3 0h0m5.8-2.5h0m-25.1 6.9h0m7.8-0.7h0m0.4 3.5h0m0.9 1.2h0m0.2-3.4h0m0.4 0.7h0m2.7-0.7h0m1 3.5h0m4-1.1h0m1.3-3.2h0m0.1 0.7h0m0.5 0.2h0m5.4-2.1h0m7.6 3.3h0m-35.6 2.4h0m4.6 1.9h0m2.2 3.4h0m0.4-1.4h0m3.4 0.2h0m2.2-4.2h0m0.7 5.2h0m3.6 0.6h0m0-4.6h0m4.6 3.3h0m-19 6.2h0m1.4 0.1h0m1.5-1.7h0m1.9 0.6h0m0.9 1.4h0m0.4-3.5h0m2.5 1.3h0m2.6 0.4h0m-16 7.5h0m8.1-1.3h0m2.1 1.6h0m0.4-2h0m2.7-1.4h0m1.5 3.2h0m1.8 0.4h0m0.4-2.1h0m0.5-3.1h0m0 2.3h0m4.4 2.4h0m-24.9 7.1h0m1.3-0.9h0m3.8 0.9h0m3.8-1.3h0m1 0.6h0m2.5-4.2h0m1.8 3.6h0m1.2-1.6h0m1-0.2h0m0.6-2.8h0m2.5 2.4h0m-16.5 7.9h0m0.6-3.7h0m0.9 3.9h0m2-1.6h0m0.4-0.3h0m0.8-2h0m4.5 0.9h0m0.1 0h0m-21.2 6.2h0m4.1 0.9h0m8.1 1.4h0m-7.7 4h0m4.1-2h0m0.9 1.4h0"/>
<path d="M293.9 462.8h0m6.3-0.8h0m-28.5 19.8h0m2.9 6.2h0m23.5-0.9h0m-29.1 5.4h0m3 0.1h0m9.2 0.4h0m2.2 4.2h0m-29.1 6.5h0m6-3.1h0m7-1.1h0m4.4-1.4h0m1.1 2.4h0m2.7-0.5h0m-12.5 4.4h0m4.4 0.2h0m1.4 4.5h0m0.9-2.1h0m3.4-1h0m4.2 2.8h0m-36.6 6.1h0m15.7-0.8h0m7.1-3.5h0m0.1 4.7h0m0.5 0.2h0m0.2 0.3h0m8.8-4.9h0m-15.4 6.7h0m0.9-0.7h0m0.8 3.8h0m1.6-2.4h0m4 1.4h0m0.2-3.3h0m1.2 3.6h0m0.7 1.4h0m0.5-2.5h0m3-0.5h0m2.5-0.5h0m3.4-1.3h0m0.3 4h0m-26.6 6.7h0m3.9-2.6h0m0-2.7h0m0.9 1.8h0m1.8-0.5h0m2.3 0.6h0m3 0.8h0m0-2.5h0m5.3 0.4h0m0.4 2.8h0m3-2.7h0m2.3-0.5h0m-26.7 10.8h0m4.5-1.3h0m1.5-0.7h0m1.2-1.8h0m2.7 3.1h0m0-0.3h0m0.8 0.4h0m0.6-3.4h0m2.7 2.3h0m0.2 1.8h0m3.6-1.4h0m1.6 1h0m0.1-2.7h0m3.7-0.5h0m1-0.3h0m1.8-0.2h0m6.2 2.6h0m-29.3 7.9h0m4.5-3.9h0m1.6 1h0m3.4 0.6h0m7 2.4h0m0.2-3.5h0m2.4 3.3h0m1.8-4h0m-26.1 5.8h0m2.1 1h0m2.7-0.7h0m0.4 2.6h0m1.1-0.6h0m1.1 2.4h0m0.7-1.6h0m1.9-3.1h0m0.4-0.2h0m1.9 4.5h0m4.1-4.8h0m-11.5 5.9h0m0.1 1.6h0m1.6 3.2h0m0.4-1h0m1.6 0.8h0m0.8-0.9h0m-16.4 4.8h0m3 0.8h0m2.4-2.8h0m2.3 0.9h0m-9.1 6.5h0m0.8-0.1h0m1.8 2.5h0m0.2-4.2h0m4.1-0.4h0m1.4 0.3h0m9.4 0.2h0m-22.1 10.8h0m5.8-3.5h0m0.3 3.9h0"/>
</g>
<path d="M219 577.9L330.7 438.1" stroke="#808080" stroke-width="2.4" stroke-dasharray="8.9 3.9" clip-path="url(#ce2)"/>
<rect x="219" y="438.1" width="111.7" height="139.8" fill="none" stroke="#000" stroke-width="2.2"/>
<path d="M219 577.9V581.1M215.8 577.9H219M256.2 577.9V581.1M215.8 531.3H219M293.5 577.9V581.1M215.8 484.7H219M330.7 577.9V581.1M215.8 438.1H219" stroke="#000" stroke-width="2"/>
<text x="219" y="592.7" font-size="14" text-anchor="middle">0</text>
<text x="213.6" y="582.8" font-size="14" text-anchor="end">0</text>
<text x="256.2" y="592.7" font-size="14" text-anchor="middle">70</text>
<text x="213.6" y="536.2" font-size="14" text-anchor="end">70</text>
<text x="293.5" y="592.7" font-size="14" text-anchor="middle"><tspan class="h">1</tspan>40</text>
<text x="213.6" y="489.6" font-size="14" text-anchor="end"><tspan class="h">1</tspan>40</text>
<text x="330.7" y="592.7" font-size="14" text-anchor="middle">2<tspan class="h">1</tspan>0</text>
<text x="213.6" y="443" font-size="14" text-anchor="end">2<tspan class="h">1</tspan>0</text>
<text x="282.7" y="608.9" font-size="11" text-anchor="middle">FWHM pred. (nm)</text>
<text transform="translate(186.2 512.5) rotate(-90)" font-size="11.2" text-anchor="middle">FWHM label (nm)</text>
<text x="265.7" y="555.3" font-size="11">R<tspan font-size="7.8" dy="-3.6">2</tspan><tspan dy="3.6">: 0.7<tspan class="h">1</tspan>9</tspan></text>
<text x="265.7" y="568.4" font-size="11">MAE: 9.<tspan class="h">1</tspan>23</text>
<clipPath id="ce3"><rect x="389.7" y="438.3" width="111.9" height="139.7"/></clipPath>
<g clip-path="url(#ce3)" fill="none" stroke="#ffc473" stroke-opacity=".45" stroke-width="5" stroke-linecap="round">
<path d="M487.6 454h0m5.4-4h0m-12.5 11.5h0m0.9-3h0m2.4 0.7h0m4.4-1.8h0m-12.6 9.1h0m0.1-1.1h0m5.8 2.4h0m14.6-0.1h0m-28.1 2.3h0m1.3 1.8h0m1.9 1.1h0m6-4.5h0m0.3-0.4h0m-16.2 11.2h0m2.8-3.3h0m1.7 2.9h0m0.8-0.5h0m-4.1 2.6h0m2.9 2.4h0m0.7-2.1h0m7.3-0.8h0m-21.2 9.4h0m2.5 0.4h0m0.1-3.4h0m3.7 2.5h0m2.7-1.5h0m-14.5 8.9h0m1.5-0.2h0m1.5-0.8h0m4.2-0.2h0m0.5-3h0m0.1 2.5h0m2.9-1.8h0m-13.2 7.6h0m5.4-1.8h0m1.3 2.1h0m1.1-3h0m0.2 0.6h0m0.2 3.4h0m3.1-4h0m-18.4 10.3h0m2.9-0.2h0m0.2 1.5h0m0.2-0.3h0m0.6-2.1h0m0.1 1.3h0m0.7 1h0m0.5-2.8h0m1.1 0.1h0m0.9 2.7h0m0 0.1h0m0.2-2.2h0m0.3-0.9h0m5-2.1h0m-20.3 6.4h0m2.1 1.7h0m3.4 2.4h0m2.4-3.8h0m0.3 1.6h0m0.2-0.7h0m0.6-1.5h0m0.1 4.8h0m2.5-0.7h0m0.5-1.9h0m0-1.7h0m3.5 0.1h0m-13.3 9.2h0m0.6-1.9h0m1.6 1.4h0m0.2-2.6h0m0.1 0.6h0m0.5-1.9h0m0.1 0.1h0m1.9 5.8h0m3.7-3.5h0m-15.9 6.6h0m3.6-2.5h0m0.2 3.3h0m0.1-2.8h0m0.5 3.5h0m0.9-0.6h0m2.8-2.9h0m0.3 2.1h0m0.1 0.1h0m0-0.5h0m1-1.8h0m-15.1 10.4h0m3.5-4.6h0m2.3 1.2h0m0.8 1.2h0m1.3-0.8h0m1.6-1.3h0m0.4 1.5h0m5.7 0.1h0m-28.8 8h0m10.3 0.4h0m3.1-3.8h0m0.6 3.5h0m0.8 1h0m2.6-1.6h0m2.5-4h0m0.6 2h0m0 0h0m0.2 0.6h0m-12.2 5.5h0m0.3 0.7h0m1.6-0.3h0m0.2-2.3h0m0.7 0.9h0m0.7-0.4h0m0.9 0.3h0m0.5 2.4h0m3.4-1.8h0m3.1-1.5h0m0.2 2h0m-17.9 9.2h0m1.3-4h0m0.5-0.8h0m0.4 3.6h0m4-3.5h0m0.7 0.3h0m0.3 1.1h0m0.1 0h0m4.7-1h0m-18.4 10.4h0m5.3-1.7h0m1.6-1.5h0m1-1.5h0m0.3 1.3h0m2.4 1.1h0m-13.8 7.8h0m1.2 0.9h0m4.2-0.3h0m0.1-1.8h0m1.3-0.6h0m1.2 2h0m1.8-3.5h0m3.5-0.8h0m-12.9 9.8h0m2.4-2.7h0m3.6 0.8h0"/>
<path d="M491.4 447.9h0m-16 16.2h0m0.8-0.8h0m6.1-0.8h0m-18.1 9.7h0m5.4 0.9h0m0.9 0.7h0m0.9-1.3h0m1.8 0.2h0m6-0.4h0m-20.2 11.4h0m0.4 0.1h0m0.1-1.8h0m1.3-1.4h0m5.5 0.3h0m1.8 5h0m-16.5 5.2h0m0.1-1.9h0m4 1.9h0m3.1-0.2h0m1.7-0.8h0m1.5-3.4h0m5.8 1.7h0m-17.1 5.8h0m7.5 2.9h0m2.6 0.3h0m-23.7 5.6h0m0.6-4.9h0m0.8 5.8h0m3.6-0.1h0m4.8-3.6h0m0.2 2.3h0m0.6-1.6h0m0.8 2.5h0m0.5-3.7h0m0.7-1.7h0m1.2 5.6h0m1-4.2h0m2.4 3.4h0m-14.4 3.6h0m0.2-0.4h0m0.7-0.6h0m1.1 1.2h0m2.5-0.7h0m3.3 1.7h0m0.6-0.2h0m0.9-2.4h0m-19.6 9h0m4.9 0.7h0m1.8-1.2h0m0.8-2.3h0m1.1 4.2h0m1.3-2.8h0m0.2 3.1h0m2.3-3h0m-13.6 7.4h0m0.4 0.3h0m0.4 1.4h0m0.1-2.8h0m0 1.5h0m0.2-1.2h0m1.7-2.9h0m0.3 3.4h0m0.8-1.1h0m1.2 0.6h0m0.4 2h0m0.1-3.1h0m0.6 3.5h0m0.2-4.1h0m1.5 0.8h0m0.2-0.3h0m0.4-1.8h0m1.3 0.6h0m0.2 4.2h0m3-4.4h0m-18.3 10.2h0m1.9 0.8h0m0.8-1.9h0m0.4-2.7h0m0.6 2.1h0m1.2-2.4h0m0.2 0.5h0m0.9 4h0m0.2-5h0m0.3 4.2h0m0.1-2.9h0m1.4-1.4h0m0.4 2.4h0m0.6-2.5h0m2.3 2.2h0m-17.3 6h0m4.7 3h0m0.4 0.2h0m1.3-3.8h0m2.2 0.9h0m0.2-1.2h0m0.1-1.3h0m0 0.5h0m4.3 1.6h0m0.5-2.2h0m1.5 3.3h0m8.3-2.2h0m-28.7 9.7h0m3-0.6h0m2.6 0.4h0m0.9-0.7h0m0.2-3.4h0m1.2 4.7h0m0.6-1.6h0m1.6 1.7h0m0.3 0.1h0m0.3-1.5h0m0.7-0.5h0m0.5-2.3h0m-13.5 9.8h0m2.9 0.7h0m0.3-1.2h0m2.1 1.4h0m0.4-0.6h0m0.4-4.9h0m0.4 1.7h0m0 0h0m0.8-0.3h0m0.7 2.1h0m0.6-1.1h0m0.1-1.1h0m1.3 1.3h0m1.6-0.1h0m3.4 1.9h0m0.3-4.3h0m-16.1 10.7h0m1.8-2.9h0m0.1 2.8h0m0.2-4.1h0m2.1 2.9h0m0.1-2.5h0m0.3 0.7h0m0.8 2.7h0m0 0h0m0.4-4h0m1.6 0h0m0.6 0.8h0m0.6-1.5h0m1.7 2.3h0m-14.5 4.7h0m0.7 2.4h0m0.8 1.3h0m2.7-4.1h0m0.4-0.6h0m2.3 0.4h0m0.2 0.6h0m1.1-0.3h0m1.5 0h0m2.1 0.7h0m-16.1 8.3h0m0.1-0.7h0m2.9-0.6h0m4.7-0.5h0m0.5-1.7h0m-17.2 11.3h0m4.2-2.5h0m1.9-2.5h0m0 3.7h0m1.3-3h0m-11.5 4.9h0"/>
<path d="M489.4 448.3h0m-1.7 5h0m14.3 8.1h0m-31 5.9h0m2.6-1.7h0m3.9-1.1h0m0.2 2.4h0m4.4-3.4h0m-14.4 7.8h0m3.8 1.3h0m1.6-2.6h0m4.9-1.9h0m-15.3 8.6h0m0.8 0.9h0m0.9-0.4h0m0.8-0.3h0m10.2-2.1h0m-15.9 8h0m4.9 2.2h0m-10.7 2.7h0m0.9 2.6h0m0.8-2.2h0m1.5 3.4h0m3.7-3.9h0m7.9-1.2h0m-18.7 10h0m1.3-3h0m2.8-1.4h0m0.6 3.4h0m0-0.4h0m0.4-1.8h0m0.1 3.4h0m2.5-4.4h0m-16.4 6.1h0m2.3 1.1h0m0.1 4.1h0m0.7-0.9h0m1.6-0.3h0m0.7-2.9h0m1.3-0.7h0m2.2 2.1h0m2-2.2h0m4.6 4.2h0m3.4-0.6h0m-26.6 5.5h0m2.5 1.1h0m4.4-0.7h0m1-0.9h0m1.3 0.2h0m1-2.2h0m2.6-1h0m3.7 3.9h0m-17.3 2.1h0m1.6 3.7h0m0.2 1.7h0m0.1-0.9h0m0.1-2h0m0.6-0.7h0m4.8 0.5h0m1.1 2.9h0m0.5-1.6h0m-11.3 7.5h0m0.7-3.2h0m0.6 0.7h0m1.7-1.7h0m0.2 4.3h0m0.5-2.5h0m0.1-1h0m0.2 1.3h0m1.5-0.5h0m2.5 0.1h0m-13.7 9h0m4.1-3.4h0m0.3-0.7h0m1-0.6h0m-11.1 9.7h0m2.6 0.8h0m0-3.1h0m0.3-1.5h0m0.4 0.4h0m0.4 3.8h0m0.8-3.6h0m0 0.6h0m0.4 2h0m0.3-3.8h0m0.5 0.1h0m0.5 2h0m0.1-1h0m1.4 2.7h0m0.7-1.7h0m0.9 2.2h0m5.1-4.5h0m-13.9 10.8h0m0.3-2.8h0m1.6-2.2h0m0 2.3h0m1.1 3.5h0m0.3-3.4h0m0.7-0.7h0m1.5 1h0m6.3-1.1h0m-16.8 6.7h0m3.3 2.8h0m3.7-5.1h0m-11.7 10.3h0m0.7 1.4h0m0.8-0.5h0m0.1-3.3h0m1.2 3.8h0m0.9-3h0m1 1.7h0m0.1 0.7h0m-10.9 5.5h0m0.8 1.1h0m1.2-0.5h0m0.1-0.4h0m2.2-0.2h0m0.3-2.6h0m2.9-0.2h0m2.1-1.2h0m0.8 1.2h0m0.4-0.5h0m-15.5 8.5h0m3.5 1.5h0m2.5-0.8h0m0.4-3.7h0m0.7-0.7h0m4.6 1.5h0m-12.7 5.2h0m0.9 2h0"/>
<path d="M494.7 449.9h0m-1.1 2.2h0m0.4 0.2h0m-15.8 5h0m-5.8 10.2h0m4.4-0.9h0m5.8-2.5h0m-12 8.2h0m0.1-1.1h0m5.2-2.4h0m1.6-0.8h0m-14.7 8.9h0m2.1 1.2h0m0.9-1.2h0m3 0.4h0m1.1-2h0m1.1 0.3h0m-16.4 9.6h0m4.8-4.9h0m1.2 0.8h0m0.7-0.4h0m4.4 2h0m-14.9 5.5h0m8.3-1.8h0m0.2 2.7h0m2.5 2.3h0m2-4.9h0m-16.1 7.7h0m1.7 2.1h0m0.4-3h0m2.7 0.4h0m2.7 3.2h0m4.6-0.1h0m0.1-1.3h0m-16.1 8h0m1.3-2.7h0m2.6 1.3h0m1.1-1.1h0m0.8-2.6h0m1.4-0.4h0m-12.2 10.2h0m2.6 0.9h0m0.8-2.4h0m2 1.4h0m2.4-0.3h0m0.9-3.7h0m-28.7 11.3h0m11.1 0.3h0m3.2-1.6h0m2-0.1h0m0.3-2.5h0m0.3 0.4h0m0.2 1.3h0m3.1 0.5h0m3.4 0.9h0m0.5 0.9h0m3.2-5.2h0m3.5 3.7h0m-19.7 6.9h0m0.6-1h0m1.1-0.7h0m0.6 2.4h0m0.7-5.6h0m1.2 0.3h0m2.5 0.4h0m-14.4 9.4h0m2.2 1.1h0m1.1-0.2h0m4.4-3.9h0m0.6 3.6h0m0.7-4.1h0m1.7 2.3h0m0.1 2h0m0.9-0.6h0m1.5-2.5h0m1.8 3.2h0m4.2 0.6h0m-20.8 5.7h0m3.2-4h0m3.9-0.9h0m-13.4 7.1h0m1.5 0.1h0m2.6-0.1h0m1.4 3.7h0m0.3-3.8h0m0.4 3.3h0m0.1-2.6h0m0.4 2.9h0m0.6-1.2h0m3.2-1.7h0m2.2-1.8h0m-16.5 11.6h0m3.2-1.9h0m0.8 0.1h0m0.1 1.2h0m0.3-2.3h0m0.9 1h0m0.1-2.2h0m0.4 3.6h0m0.5-2.8h0m0.3 0.4h0m1.6-1.7h0m0.2-0.4h0m2.6 1.2h0m0 1.2h0m1.7-3.1h0m-14.4 6.8h0m0.6 1.7h0m3.3 2.3h0m3.1-2.9h0m2-1.6h0m-15.8 10.4h0m1.6 0.8h0m0.6 0h0m0-3.1h0m2.8 0h0m0.1-0.8h0m1 3.5h0m0.4-2.3h0m1.1-1.5h0m0.1-0.4h0m1.5 1.1h0m9.5-1.9h0m3.5 3.8h0m-19.7 2.8h0m0 3.1h0m0.5-3.6h0m0 4.7h0m0.5-4.4h0m2.9 0.9h0m-8.3 5.7h0m0.1 0h0m0.8 1.3h0"/>
<path d="M491.9 455.6h0m4.4-5.5h0m-18.5 11h0m9-4h0m-7.3 7.3h0m5.1 1h0m-14 7.9h0m1.1 0.5h0m0.1-2.2h0m2.1 0.6h0m1.8-1.1h0m1.1-2.8h0m0.2 3.7h0m-14.2 6.7h0m2.9 0h0m0.7-2.8h0m5.3-1.9h0m3.3 0.2h0m1.4 0.7h0m-17.3 9.4h0m3.1 1.4h0m0.3-4.7h0m-8.8 6.6h0m0.5 2.2h0m-1 5.7h0m4-0.6h0m-16.2 7.1h0m2.2 0.5h0m1.4-3.1h0m2.2 2.2h0m2.8-2.5h0m9.1 0.6h0m-22.8 10h0m3.5-3.4h0m0.5-0.3h0m1.8 0.3h0m0.4 1.9h0m0.5-3.8h0m0.6 1.1h0m0.4 2.8h0m-20.3 7.3h0m10.1-3.1h0m1.5-2.2h0m0.8 5.5h0m2.4-0.9h0m0.9-3.9h0m0.3 4.5h0m0.8-2.3h0m2.9-2.6h0m1.7 0.9h0m1.6 1h0m-21.5 5.9h0m4.6 1.5h0m1.6 1.2h0m0.2-2.9h0m1 3.5h0m0.6-0.6h0m0.8-1.3h0m3 1.4h0m10.6-4.8h0m-21.3 10.5h0m1.3-2h0m6.1-2.9h0m-12.4 10.1h0m0.4 1.5h0m0.7-2h0m0.3-3.6h0m0.6 4.1h0m0.7 1.8h0m1.4-4.6h0m1.1 1.1h0m0 0.8h0m3.4-3.2h0m1.2 2h0m0.3-0.6h0m-13 5h0m0.8 4.3h0m1.6-4.3h0m0.1-0.3h0m0.2 3.4h0m0.4 2.4h0m0.1-3.7h0m0-1.9h0m0.5 3.2h0m0.2-2.7h0m2 1.9h0m0.4 0.7h0m1-2.3h0m0-1.1h0m2.7 0.3h0m5.5 5.4h0m-20 0.9h0m1.3 4.4h0m2.9-4.8h0m0.9 1.2h0m0-0.1h0m0.6 4.3h0m1.7-5.4h0m-14.2 9.7h0m4.9-0.7h0m0.1-2.5h0m0.3 4.3h0m0.8-4h0m1.9 3.9h0m0.8-1h0m2.1-1.9h0m0.8 0.3h0m3.1-2.1h0m-21.1 7.7h0m0.7 1.2h0m2.4-2.4h0m1 1.4h0m2 3.5h0m0.5-1.8h0m1-3.6h0m2.3 2.3h0m1.7 0.2h0m-14.9 7.2h0m6.4-2.3h0m1.5-0.5h0m0.3 2.7h0m2.5-0.8h0m-20.1 7.3h0m8.9 0.9h0m4.7-3.9h0m2.7-0.2h0"/>
<path d="M498.3 445.9h0m-12.4 9.2h0m-1.8 2.5h0m-10.3 7.5h0m0.5 1.9h0m4.8-4.8h0m0.9-0.2h0m-13.9 10.8h0m1.3-1h0m0.6-3.1h0m0.5 2.9h0m8.1-1.1h0m1.8 0.2h0m2.5-0.7h0m8.5-2h0m-35.9 17.9h0m7-5.4h0m1.3 2.2h0m0.1-1.1h0m1.1 1.1h0m0.3-0.5h0m1.5 3.7h0m-12.6 0.3h0m2.6 2.1h0m4.2-0.7h0m0.3-1.1h0m0.3 1.8h0m-9.2 5.3h0m0.6 3.2h0m0.4-1.8h0m0.7-1.8h0m1.1 2.1h0m17 1.1h0m-32 4.5h0m5.9 1.3h0m1.1-0.8h0m1.1-1.1h0m3.1 3.5h0m1.6-5.8h0m-14.5 8.6h0m0.5 2.1h0m2.4-2.6h0m0.9 2h0m0.6 1.1h0m0.3-2.2h0m0-1.3h0m0.8 1.9h0m0.4-1.9h0m0.1 2.9h0m0.6-1.8h0m0.7-0.7h0m0.5 2.9h0m3-2.1h0m6.9-1.6h0m-22.9 7.8h0m1.9 1.3h0m4.8 0.6h0m2.9-0.6h0m0.2-3.2h0m2.4 1.1h0m-12 6.5h0m0.2 1.8h0m5.5-0.2h0m-12.5 5.4h0m0.2 0.9h0m1.2-3.7h0m0.1 1.5h0m0.8 2h0m0.7-1.3h0m0.2 2.6h0m0-4.4h0m0.7 1.8h0m0-0.4h0m0.1-2.7h0m0.2 0.7h0m0.2 4.3h0m1.2 0h0m1.5-3h0m0.6-0.9h0m0.7-0.8h0m-11.3 10.9h0m1.6 0.4h0m1.2-1.3h0m0.4-3.3h0m0 0.7h0m0.1 0.4h0m1.2-1.8h0m1.1 3.4h0m0-0.7h0m0.1-2.1h0m5.1 0.1h0m0.4 0.8h0m-15.9 8.9h0m1.8 0.7h0m1.8 0.4h0m0.4-1.9h0m0.7-0.5h0m0.1 2.2h0m0.2-4.8h0m0.9 4.3h0m0.6-5h0m4.4 5.7h0m-13.3 3.2h0m0.2 0.4h0m0.5 0.1h0m0.2 0.2h0m0.8-3h0m1.2-0.7h0m0.2 4.4h0m0.1-4.2h0m0.4 2.1h0m1 3.1h0m0.4 0.1h0m2.8-4.1h0m-11.7 5.6h0m0.3 0.7h0m0.9 0.1h0m1.2 0.4h0m0.2-1.4h0m1.7 3.3h0m0.5-3.4h0m0.8-0.7h0m-16.7 10.9h0m1.6 0.1h0m0 0.6h0m0.6-0.3h0m1.3-0.6h0m2.6-1.6h0m0.4 0.5h0m0.7-0.3h0m3.2-2.9h0m0.6 2.8h0m0.1 0.5h0m0.3-3.5h0m-12.2 9.2h0m2.1-1.8h0m3.2 2.6h0m0.6-1.6h0m2.7 0.2h0m0.8-2.1h0m-8.2 7.1h0m0.9-0.1h0m6.1-0.3h0m-18.6 5.2h0m13.7 0.3h0"/>
<path d="M477.3 460.4h0m4.2 0.6h0m-9.8 1.5h0m7.1 0.9h0m6.1 1.6h0m-12.9 3h0m2.3 3.5h0m10.5 2.1h0m-22.5 5h0m3.2 0.5h0m3.3 0.8h0m-9.9 2.5h0m1.9-1.4h0m-4.3 6.5h0m2.7 3.6h0m1.3-0.7h0m-16.5 5.9h0m4.6 0.2h0m1.7-0.8h0m1.6-3.7h0m0.6 0.4h0m2.7 4.3h0m-16.2 2.7h0m3 3.9h0m2.8-4.4h0m1.3 0.7h0m0.4 1.1h0m0.5 2h0m1.7-2.8h0m2.3 2.3h0m17.9-0.9h0m-31.6 7.3h0m3.5-0.1h0m1.1-3.6h0m0.8 4.4h0m0.2-4.9h0m1.4 1.7h0m1.3 0.7h0m-14.4 9.1h0m2.7-4.4h0m0.4 2.8h0m3.1 0.1h0m1.8 0.7h0m0.5-0.4h0m0.7-1h0m1.4-2.1h0m-11.5 7.7h0m0.5-1.3h0m0.8-1.7h0m1.3 1.6h0m1.7-0.4h0m0.6 0.9h0m-9.5 8h0m0.1-1.1h0m0.1-1.9h0m3.4 0.3h0m0.1 3.9h0m0.5-3.2h0m3.1-2.4h0m0.1 2.4h0m0.2-1.2h0m18.5 2.5h0m-28.2 3.7h0m2.3-0.8h0m0.4 4.8h0m1-2.8h0m0.2 2.9h0m0-4h0m1 2.1h0m1.2 0.9h0m0.8-0.1h0m-17.3 6.1h0m4.9-0.2h0m0.5-2.7h0m0.1 4.3h0m0.4-1.4h0m0.1 1.1h0m0.5-5.1h0m0.7 2.6h0m1.5-3h0m3.6 5.6h0m0.3-1.4h0m4.7-3.8h0m2.1 0.6h0m-20.4 5.3h0m0.9 2.6h0m1.7-2.3h0m0.8 3.5h0m1.7 0.2h0m0.8-1.5h0m0.1 1.7h0m0-4.2h0m1.1 4.6h0m0.1-4.3h0m0.2 1.2h0m0.7 2.1h0m0-0.2h0m1.2-3.5h0m2 2.5h0m-14.7 5.4h0m1.4 0.2h0m2 2h0m0-3.7h0m1.4 3.4h0m1.6-4.1h0m1.4 2.9h0m0.9-2.9h0m1.7 2.1h0m-18.2 9.7h0m4.6-1h0m4-1.3h0m1.1 1.1h0m1.5-4h0m0.1-0.1h0m1.8 1.9h0m-12.8 3.8h0m1.4 2.7h0m0.9-0.7h0m1 0h0m0.7-2.1h0m1 5.4h0m-9.7 1h0m1.4 1.7h0m2.8 0.2h0m0.6-1h0m6.1-0.2h0m-16 7.1h0"/>
<path d="M489.2 450.6h0m-7.8 8h0m2.1-2.4h0m2.5 0.2h0m6.9 3.2h0m-13.9 4.4h0m1.8-1.7h0m-21.4 10.2h0m10.8-1.5h0m4.2 0h0m1.5-2.2h0m0.5 0.5h0m2.2-0.6h0m-15.3 7.4h0m4.9-2.1h0m0.8 2.6h0m0.1 2.8h0m2.9-4.6h0m-13.7 7.2h0m1.4 1.7h0m0.2 0.6h0m1.5 1.4h0m0.2-0.8h0m0.4-4.8h0m0.4 4h0m2.1 1.4h0m0.2-3.6h0m1 1.6h0m-13.8 7.2h0m0.2 1h0m0.6-3.1h0m0.2-2.4h0m1.2 3.2h0m1-1.2h0m0 3.4h0m0.2-1.3h0m5.5-4.2h0m2.1 0.9h0m-11.7 7.9h0m2 2.2h0m1.3-0.3h0m0-2.5h0m-13 5.4h0m0.7 0.1h0m1.3 0.1h0m2.7-1.5h0m0.6 4h0m3.2-4.2h0m3-0.2h0m0.6 0.1h0m-14.4 11.2h0m1.1-0.3h0m3.7-0.9h0m2.4-3.1h0m1-0.4h0m-19.1 11.3h0m5-0.9h0m1-0.5h0m0.6 1.1h0m0.2-2.2h0m0.1 2.5h0m1.2-1.6h0m0.2-2.4h0m1.3 2.6h0m0.1-1.9h0m0 0.9h0m3.3-3.5h0m-13.2 8h0m1.4-2h0m1.8 5.6h0m0.9-2.2h0m0.4 1.4h0m1-1.6h0m0.7-1.9h0m1.3 1h0m0.3 1.1h0m3.8-2.6h0m3.6 3.9h0m-16.7 5.3h0m0.5-0.6h0m0.4 2.4h0m0.3-0.1h0m1-2.2h0m1.6 0.5h0m1.1 0.5h0m2-3.9h0m-11 5.4h0m1.1 4.2h0m1.1 1.4h0m0.5-5h0m0 3.7h0m0.5 0.4h0m0.1-3.5h0m0.9 0.9h0m0.3 2.2h0m0.9-1.5h0m0.2-1.4h0m0.1 0.1h0m-11.9 6.2h0m0.8 0h0m1.1 3.7h0m1.1-1.4h0m0.5 1.2h0m1.7-2.8h0m0.5-2.1h0m0.1 1.4h0m0.4 0.2h0m0.3 2.6h0m2-3.6h0m-13.9 8.4h0m3 1.4h0m0.8-2.6h0m1 1.1h0m0.1-1.2h0m1.2-0.1h0m3.4-0.9h0m5-1h0m-16.5 9.3h0m1 0.4h0m1.2 1.3h0m0.5-2.6h0m0.7 1.5h0m0.3 0.9h0m0.3-4.4h0m0.1 1.2h0m0.1-0.3h0m0.9 1.6h0m-13 3.7h0m2 3.6h0m1.3-2.9h0m0.2 2.2h0m1 0.4h0m1.7-0.5h0m1.9-2.4h0m4.2-0.7h0m-15.1 6.4h0m1.3 3.6h0m1.5-3.4h0m0.2 1.1h0m-14.3 9.5h0"/>
</g>
<path d="M389.7 578L501.6 438.3" stroke="#808080" stroke-width="2.4" stroke-dasharray="8.9 3.9" clip-path="url(#ce3)"/>
<rect x="389.7" y="438.3" width="111.9" height="139.7" fill="none" stroke="#000" stroke-width="2.2"/>
<path d="M389.7 578V581.2M386.5 578H389.7M427 578V581.2M386.5 531.4H389.7M464.3 578V581.2M386.5 484.9H389.7M501.6 578V581.2M386.5 438.3H389.7" stroke="#000" stroke-width="2"/>
<text x="389.7" y="592.8" font-size="14" text-anchor="middle"><tspan class="h">1</tspan>50</text>
<text x="384.3" y="582.9" font-size="14" text-anchor="end"><tspan class="h">1</tspan>50</text>
<text x="427" y="592.8" font-size="14" text-anchor="middle">400</text>
<text x="384.3" y="536.3" font-size="14" text-anchor="end">400</text>
<text x="464.3" y="592.8" font-size="14" text-anchor="middle">650</text>
<text x="384.3" y="489.8" font-size="14" text-anchor="end">650</text>
<text x="501.6" y="592.8" font-size="14" text-anchor="middle">900</text>
<text x="384.3" y="443.2" font-size="14" text-anchor="end">900</text>
<text x="452.2" y="609" font-size="11" text-anchor="middle">Abs. pred. (nm)</text>
<text transform="translate(354 511.4) rotate(-90)" font-size="11.2" text-anchor="middle">Abs. label (nm)</text>
<text x="436.8" y="554.9" font-size="11">R<tspan font-size="7.8" dy="-3.6">2</tspan><tspan dy="3.6">: 0.982</tspan></text>
<text x="436.8" y="568" font-size="11">MAE: 7.085</text>
<clipPath id="ce4"><rect x="562" y="439.4" width="111.8" height="140"/></clipPath>
<g clip-path="url(#ce4)" fill="none" stroke="#ffc473" stroke-opacity=".45" stroke-width="5" stroke-linecap="round">
<path d="M662.6 459h0m2.4 0.1h0m-10.8 3.1h0m1.1 2.6h0m2.3 2.9h0m-20.2 5.1h0m13.6-3.8h0m8-0.8h0m-19.9 8.6h0m4.1-2.2h0m1.8 2.7h0m0.3-2.5h0m1.1 5.1h0m0.9-1.3h0m2.3-3.4h0m-14.3 9.7h0m2.2-1.5h0m3.2-2.2h0m0.1 1.9h0m-7.9 8.8h0m2-0.7h0m0.8 0.3h0m0.7-2.8h0m2.9-2h0m0.2 3.5h0m1.6-3.6h0m-17.5 8.7h0m3.4-1.3h0m1.7 1.4h0m3.3-0.3h0m0.7-2.9h0m4.1 4.2h0m2.5-3.1h0m-26.7 8.3h0m0-2.4h0m2.4 4.3h0m5.5-1.1h0m1.8-0.5h0m0.7 0.3h0m3.3-2.5h0m0.1 4h0m16-4.5h0m-30.8 10.1h0m0.7 0.5h0m1.2-1.6h0m3.8-2.7h0m1.4 2.2h0m0.1-3.5h0m1.2 2.2h0m0.1-0.2h0m0.2-0.3h0m0.7 0.4h0m1.3-1.9h0m0.7 1.3h0m0.1 3h0m0.3-1.2h0m0.2-3.2h0m1.1 3.4h0m1.7-1.9h0m2.7 0.2h0m-24.8 4.7h0m1.6 4.6h0m0.6-0.5h0m3.5-1.6h0m0.6 0.9h0m3.2-1.3h0m0.4-0.9h0m2.1 0.8h0m0.2 1.2h0m0.3-1.9h0m2 0.9h0m3.8 1.1h0m1.1-3.7h0m2 3.1h0m-24.9 7.1h0m6 1.1h0m2.1-4.8h0m0.3 2.9h0m5.7-3.3h0m-18.5 7.4h0m0.9 2.8h0m2.5 0.7h0m2-4h0m0.8 1.4h0m0.5 2.7h0m0.1-1.2h0m2.7 0.3h0m2.6-0.4h0m1.8-1.2h0m0.6 2.4h0m1.3-4.1h0m-17.1 7.2h0m1.8 3.1h0m0.1-2.4h0m2 0.7h0m1.7-3.7h0m0.2 5.6h0m2.6-5.6h0m1 0.4h0m5.8 0.1h0m2.5 5.2h0m4.2-4.9h0m-29.4 7.7h0m3.8 2.7h0m1.1-4.9h0m4.3 2.6h0m4.3-3h0m3 0.2h0m8.2 2.5h0m-27.9 9h0m1.8-1.6h0m0.5 1h0m4.1-5.1h0m0.3 4.6h0m1.9-2.3h0m0.2-0.2h0m3.4-1.8h0m-21.8 10.8h0m4.3-0.9h0m5-0.8h0m3.6 0h0m0.3-0.3h0m2.5-1.8h0m1-0.6h0m0.9 1.3h0m3.8 1.5h0m-20 7.2h0m0.4 1h0m3.5-4.7h0m1.4 4.4h0m2.7-2.3h0m1.7-2.1h0m1.8-0.5h0m5.7 0.1h0m-17.1 8.9h0m0.1-1.3h0m3.3 2.8h0m5.1-0.4h0m0.6-0.5h0m0.1-2.1h0m-14.3 7.5h0m2.1-0.4h0m0.1 1.7h0m2.2 0.1h0m-15.8 1.4h0m0.2 2h0m6.7 3.6h0m3.1-0.3h0"/>
<path d="M655.7 453.1h0m6.2-2h0m-18.7 11.5h0m4.4 4.3h0m2.9-2.8h0m5.6 1.5h0m1.4-0.2h0m0.8-1h0m-14.6 4.9h0m1.6 3.1h0m0.2-0.4h0m0.9-1.6h0m22.2 2.8h0m-30.8 5.8h0m1.6-1h0m-7.1 2.1h0m4.1 0.4h0m8.7 5.3h0m-16 2.9h0m2.8 1.8h0m2.5-0.5h0m3.2-2.9h0m0.4 1.4h0m2.3 2.6h0m7.6-4h0m-29.8 10.3h0m2.1-3.8h0m2.5 4.1h0m1-1.9h0m0.1 2.1h0m1.3-5.6h0m2.5 3.3h0m0.4 1.8h0m0.2 0.1h0m2.8-1.5h0m3.4-2.8h0m-19.5 6.8h0m1.7 0.8h0m0.7-1h0m3.2-0.6h0m1.2 4.2h0m1.5-2.1h0m0.7 1.8h0m4 0.4h0m3.5-5.1h0m0.4 1.7h0m10.7 3.2h0m-27.7 4.2h0m0.7-1.3h0m1.6 3.1h0m0.5 0.2h0m0.7-2.4h0m0.3 1.2h0m1.1-3.9h0m0.4 3.9h0m5.4-1.3h0m0.6-1.8h0m1 4.5h0m1.5-0.3h0m-21.5 5.6h0m1.5-3.8h0m0.2 1.5h0m1.2 3h0m0.8-3.9h0m5.8 2.7h0m0.6 0.5h0m1.2-2.5h0m1 0.4h0m0.1 0.8h0m5.8-0.8h0m-20.9 5.2h0m3.8 1.5h0m0.6-3.4h0m0.3 3.1h0m6.2-1.6h0m0.4-0.5h0m1.4 4h0m1.7-1.8h0m-16.5 8h0m0-3.1h0m0.7-0.7h0m0.2 1.3h0m0.2 1h0m3.7-2.6h0m0.9 0.5h0m0.5-1.8h0m0.9 3.7h0m1.5 2h0m3.9-0.3h0m13.1-5.2h0m-31.3 6h0m1.6 2.8h0m0.2 0.3h0m0.1 1.2h0m2.2-3.7h0m1.1 0.1h0m0.9 4.1h0m3.6-0.7h0m-21.3 5.8h0m1.5-3.5h0m3.8 3.2h0m0.1-2.2h0m1.7 3.7h0m1.5 0.4h0m1.5-1.8h0m0.4-3.6h0m0.3 3.7h0m2.9-1h0m0.7 0.3h0m2.6-2.5h0m2.9 2.8h0m0.9-2.9h0m3.2 0.6h0m-28.7 10h0m1 0.2h0m2.6-0.3h0m1.5-0.6h0m0.5-1h0m1.6-1.8h0m1.1 0.9h0m0.6-2.5h0m0.8 0.3h0m1.9 1.5h0m2.5 0.6h0m2.3 0.8h0m0-2.1h0m3.4-0.6h0m-21.4 10.4h0m1.6-4.6h0m1.1 4.7h0m0.4-1.7h0m1.6-3.5h0m1.2 3.1h0m0.5 1.5h0m0.3-0.6h0m6.2 0.1h0m-15 6.1h0m0.1-1.3h0m1.7-1.5h0m0.2 3.1h0m0.7-3h0m0.8-1.3h0m1 5h0m1.6-4.4h0m1.3 3h0m1.2-3.1h0m1.7 3.2h0m-21.8 4.9h0m1.9 2.6h0m0.3-1.5h0m4-2.6h0m2.5 0.8h0m0.9 1.3h0m0.8 1.1h0m0.5-1h0m1.3 2h0m0.8-1.3h0m0.5 1h0m0.4-0.5h0m0.1-2.9h0m0.9 3.6h0m1.1-1.8h0m1 0.5h0m0.1-4h0m5.9 3.8h0m-24.1 7.3h0m3 0.1h0m0.3-0.1h0m1-4.4h0m9.6 4h0m2.8-3.4h0m7.6-0.2h0m-27.5 10h0m1.2-1.4h0m1.2 0.4h0m2.3-3.7h0m3.2 1.1h0m0.1-0.7h0m0.6 0.1h0m4.1-0.6h0"/>
<path d="M657.4 457.8h0m7.5 0.4h0m-13.7 3.8h0m3.1 3.3h0m21.9-2.5h0m-53 8.8h0m34.8-1.9h0m-23 8.3h0m0.3 1.6h0m5.7 0.2h0m1-2.2h0m0.2-3h0m1.9 1.6h0m5.6 0.3h0m0.6 1.2h0m-14.2 7.5h0m12.4-1.5h0m-21.4 4.2h0m1.3-1.2h0m3.5 0.5h0m1.2 2h0m0.4 1h0m0.6-2.5h0m1.8 1.1h0m2.2 2.2h0m0.6-3.5h0m1.1 3.7h0m-23 5h0m4.6 0.3h0m3.6 1h0m0.6 0h0m1.2-2h0m4.1-2.7h0m2.2 5.1h0m2-5.6h0m0.1-0.1h0m5.3 1.1h0m-21.7 7.9h0m0.4 1.5h0m0-2.2h0m2.8 2.1h0m0.2-1.1h0m0.2-0.3h0m0.5 0.2h0m1.3 0h0m9.5-2.8h0m0.5 2.8h0m-23.7 6.1h0m0.3-0.5h0m3.8-0.5h0m0.2 3h0m2.6-2.3h0m0.9-0.8h0m2.8-0.8h0m0.8-0.5h0m2.7 3.2h0m1-4.2h0m2.2 0.6h0m-22.9 9.7h0m0.2 0.6h0m0.5-2.6h0m1 1.1h0m3.3-0.6h0m0.5-0.8h0m4.9 0h0m0.9 1.1h0m0.1-0.9h0m2.2-1.1h0m2.1-0.8h0m-18.1 8.6h0m3.2 2h0m2.3-0.8h0m0.7-1.1h0m1.8-2.5h0m0.3 2.9h0m4.4-0.7h0m0.1 0h0m0.7 1h0m1.8-3.4h0m1.5 2.9h0m-21.9 5.4h0m8.1-1.6h0m0.3 0.7h0m3.8-0.1h0m0.1 0.1h0m0.6 1.2h0m8.2-1.1h0m-31.5 8.7h0m5.5-1h0m2.9-2.9h0m0.7 0.7h0m0.8 0.4h0m2.2 0.6h0m1.4-1.4h0m3.8 4.1h0m0.5-3.7h0m0.2-1.2h0m2.1 5.7h0m-17.5 3.7h0m0 1.4h0m1.2 0.8h0m1.4-2.1h0m0.6-0.7h0m1.1-0.8h0m0.9-1.7h0m0.9 4.2h0m1.9 0h0m1.2 0.7h0m0.8-3.7h0m2.8-0.8h0m1 2.8h0m1.9-3.4h0m0.4-0.2h0m5 4.3h0m-27.6 1.9h0m0.4 0.7h0m2-0.3h0m2.1 3.2h0m1.5 1h0m0.4-0.7h0m0.3-0.7h0m1.7-1.2h0m0.2-1.3h0m3.1 0.9h0m2.4 0.7h0m0.9-2.6h0m-16.8 7.6h0m1.7-0.2h0m0.2 3h0m0.2 0.2h0m0.1 0.2h0m2.5 0.9h0m0.7-5.6h0m0.5 5.6h0m0.2-1h0m0.9-4.6h0m1.1-0.1h0m0.6 0.1h0m1.8 4.1h0m-20.5 6.7h0m2.9 1h0m1-0.4h0m2.7-3.5h0m2.3-1h0m0.9 2.2h0m0.6-2.5h0m1.6 4.1h0m0.6-2.2h0m0.9 0h0m1.4 1.5h0m3.1-1.1h0m0.3-1.1h0m7 3.2h0m-25.9 5.9h0m0.6-3.8h0m4.3-0.3h0m0.4 1.2h0m1.3 2.5h0m3.2-3.4h0m1.2-0.5h0m1.5 0.5h0m14.5 0.1h0m-32.1 6.5h0m0.8 1.4h0m0 2.4h0m2 0.1h0m1.4-5.2h0m2.8 0.6h0m2.8 0.1h0m3.2 3.5h0m-19 7.1h0"/>
<path d="M653.7 454.1h0m4 1.7h0m6.3-3.9h0m4.8 3.8h0m-20.4 5.8h0m0.8-2.3h0m9.9-2.4h0m-13.9 7.2h0m3.3 0.1h0m4.1 0.2h0m6.2 0.3h0m-10.5 6.4h0m4.9-0.8h0m-22.1 8.7h0m4.4-0.8h0m3 0.7h0m-7.5 6.5h0m1.7 0.2h0m0.4-0.1h0m1.6 0.4h0m4.2-4.2h0m3.6 1.6h0m0.1-1.1h0m2 3.6h0m9.7-3.6h0m-48.3 9.7h0m19.2-0.5h0m1.2-5.3h0m0.4 5.7h0m0.9-3h0m0.8 2.7h0m2-1.1h0m1.3 0.6h0m0.3-2.9h0m2.7 2.3h0m6.3-1.4h0m-18 8.2h0m0.5-3.7h0m2.9-1.3h0m5.1 1.5h0m0 2.7h0m0.9-3.6h0m1.2 3.2h0m5.4-2.1h0m-30.3 8.8h0m5.5-1.6h0m9.5-0.9h0m0.6 1.1h0m0.3 1.4h0m0-2.7h0m1.4 3.1h0m4.8-1.4h0m5-0.7h0m-20.9 7.7h0m0.1-1.3h0m2.9-1.5h0m1.7-0.9h0m2.9-0.7h0m0.9 3.4h0m3.2-3h0m0.4-0.5h0m-25.3 7.2h0m3.1 4.3h0m2-1.6h0m1.8-3.6h0m3 3.9h0m0.8-3.3h0m0-0.1h0m0.4 4.2h0m1.2-5h0m0.1 1.3h0m1.2 1.1h0m1.4 2.1h0m0.4-0.5h0m0.1-3.8h0m0.7 3.7h0m-14.6 7.4h0m3.5-3.8h0m0.1-0.5h0m1.4-0.1h0m2.9 4.5h0m0.9-4.3h0m0.8-0.5h0m0.1 1.2h0m6.3-0.8h0m16.2 3.5h0m-44.9 4.6h0m12.1-2.9h0m4.8-0.3h0m5.9 3.4h0m0.3 0.7h0m-23 3.3h0m8.2-1h0m2.4 1.1h0m0.2 2.3h0m1 2h0m-11.7 6h0m0.4-0.1h0m3.3-2.2h0m0.1 1.3h0m1.5 0.3h0m1.6-3.8h0m0.5 4.4h0m-19 5.8h0m8.6-1h0m2.9 1.3h0m1.8-5.7h0m1.6 0.3h0m-15.9 6.8h0m0.7 3.4h0m2.1-0.9h0m0.5-0.3h0m2-0.6h0m0.2-0.5h0m3.4-1.4h0m0.3 2.9h0m0.3 2.1h0m0.8-5.8h0m1.5 2.1h0m0.3 0.5h0m-15 5.9h0m1.1 0.8h0m1.4-1.4h0m2.6-0.7h0m0.5 1.6h0m0.4 2.9h0m0.8-0.3h0m1.9-4.6h0m1.4 2h0m0.9-2.2h0m3.9-0.4h0m1.4 1h0m-25.7 7h0m2.5 2h0m3.8-1.6h0m2.5 2.6h0m0.1-3.2h0m1.2-1.5h0m0.4 5.3h0m0-4.7h0m1.1 0.3h0m0.9 2.2h0m0.6-2.3h0m8-0.6h0m-27.8 10.8h0m7.5 0.2h0m1.4-2.2h0m3.3-1.3h0m1.1 0.4h0m0.3 0.4h0m4.1-1.9h0m4.7-0.2h0m3 1.4h0m-22.2 5.5h0m0.3 1.8h0m3.6-0.2h0m3.3 2.3h0m-10.2 0.4h0"/>
<path d="M669.9 447.8h0m-21.4 7.6h0m2.3 7.2h0m2.4 3.7h0m-4.8 4.5h0m8.9 1.8h0m-25.4 5.9h0m6.1-1.7h0m2.2 0.8h0m3-0.5h0m0.3 2.3h0m1.4 0.3h0m0.9-1.6h0m7.5-4h0m-20.4 6.6h0m4.6 2.6h0m1.3 2.3h0m0-1.8h0m1.1-0.5h0m3.6 0.2h0m1.5-1h0m-19 8.4h0m6.8-1.8h0m2.7-0.6h0m0.6-1.6h0m0.1 1.9h0m0.1-1.6h0m1 2.7h0m0.5 1.5h0m-13.9 4.3h0m1.8-1.1h0m0.1 1.7h0m0.7-1h0m0.3 1.6h0m1.8-1.3h0m10.2 0.2h0m-16.5 7.9h0m1.4-0.1h0m0.4-5.4h0m1.6 5.6h0m1.2-4.5h0m0.9 0.5h0m0.7 1.9h0m2-0.2h0m3.3-1h0m-22.2 7.5h0m3.9-3.2h0m2.1 4.7h0m0.3-0.9h0m1.3 0.3h0m1.8 0.6h0m1.9-1.4h0m0.2-0.4h0m0.4-0.3h0m0.4-2.9h0m3.9 3h0m-18.8 7.9h0m3.6-2.8h0m0.7 2.2h0m0.4-1.4h0m0.3-2h0m0.2 1.1h0m0.7 2.9h0m2.1 0h0m0.7 0h0m-16.7 4.5h0m5.8-2.2h0m0.5-0.8h0m0 4.2h0m2.1-1.6h0m2.9-3.1h0m2.7 1.4h0m6 0.2h0m5.6 0.1h0m1 0.4h0m-42 9.4h0m13.9-0.2h0m0.7-3.4h0m0.5 3.3h0m3.3-3.7h0m0.6 0.6h0m0 0.3h0m0.4 0.9h0m0 0.1h0m0.4-0.8h0m1.9 1h0m1.6-0.6h0m0.3-1.1h0m0.9-1.2h0m0.1-0.3h0m0.5 4.6h0m-19.6 2.6h0m2.8 3.1h0m3.6-0.5h0m0.9 1.1h0m0.4-0.5h0m0.1-3.6h0m0.2 0h0m0.1 3.2h0m0.2-2.9h0m1.1 3.9h0m0-2.5h0m4.8-2.6h0m0.9 0.1h0m8.3 0.6h0m3.1 3.6h0m-45.1 6h0m19.6 0.4h0m1.6-3.8h0m0.3 2.9h0m4.2-4.4h0m0.2 1.9h0m3.6-0.7h0m-17.4 7h0m3.7 3.5h0m1.2-3.7h0m4.9 3.4h0m0.6-2.5h0m1.9-1.4h0m-23.7 9.1h0m5.3-4.3h0m2.7 2.7h0m0.4 2.3h0m1.7 0.5h0m1.8-3.8h0m0.3 0.3h0m1.2 2.6h0m1.9 0.8h0m0.3-5.7h0m1.1 1.2h0m1.4-1h0m5 1.5h0m2.9-0.9h0m-25.8 10.7h0m2.5-2.3h0m1.5 2.4h0m2.5-0.4h0m0.6-4h0m0.4 0.7h0m0.4 2.5h0m1.2 0.9h0m0.8-3.6h0m1 2.1h0m0.4-0.4h0m0.1-1.9h0m-24.6 8.1h0m10-2.1h0m1 0.2h0m1.1-0.4h0m0.8 3.1h0m2-1.7h0m4.1-2.4h0m0.4 2.9h0m0-0.2h0m1.5-0.2h0m12.9-1.4h0m-21 6h0m2-1.2h0m1.7 0.4h0m0.8 2.4h0m-15.9 6h0m3.9-2.1h0m2.1 3.5h0m9.4 0.3h0"/>
<path d="M664.6 448h0m-1.2 5.4h0m-14.2 4.8h0m3.1 7.7h0m1.2-2.8h0m1.3-0.4h0m5.8-0.7h0m-11.7 8.5h0m0.7-0.2h0m0.9-0.3h0m-19.4 8.2h0m7.5 0.6h0m4.1 1h0m2.7-4.4h0m1.5 2.8h0m2.4-0.7h0m-20.1 5.4h0m4.7 2.4h0m1.5-3.4h0m1.5 0.5h0m1.4-1.3h0m1 3.1h0m7.7-1.8h0m-16.2 5.7h0m1.1 3.4h0m0.3-4.4h0m0.6-0.4h0m0 3.1h0m1-0.1h0m0.5 1.5h0m0.1-3.9h0m1.9 2h0m2.1-2h0m-15.6 9.9h0m0.4-0.3h0m2.9-3.4h0m1 3.2h0m0.2-2.5h0m2.9 2.2h0m3.6-1.1h0m17.6-1.7h0m-32.4 8.4h0m1.2-2.7h0m0.1 3.3h0m0.2-1.1h0m1-1.1h0m0.5 1.1h0m0.9-2.4h0m0.4 2.8h0m0.4-3h0m2.4-0.4h0m5.9 2.2h0m4.1-2.3h0m15 4.5h0m-41.7 5.1h0m6 1.5h0m0.4-1.1h0m2-1.7h0m2 2.4h0m0.6-2.8h0m1.2 2.4h0m0.2-1.8h0m1.2 0.4h0m0.2-0.8h0m-22.1 4.4h0m1.2 2.9h0m5.3 1.7h0m4.1-4.2h0m0 2.1h0m0.7-1.8h0m0.2 4.1h0m2.7-2.4h0m1.4 1.1h0m0.7 1.3h0m2.2-0.3h0m0.2-2.6h0m0.2-0.2h0m-16.4 8.6h0m2-1h0m3.2-3.2h0m0.9-0.2h0m1.2 0.7h0m1.1 3.1h0m0.4-1.7h0m2.6 0.1h0m2 0.2h0m7.3 0.5h0m-33.3 7.3h0m7.2 0.7h0m2.3-3.6h0m2.5 3.7h0m1.2-1.8h0m0 0.1h0m0.7-0.5h0m1.1-1.8h0m3 1.7h0m0.9-3h0m4.2 2.9h0m-17.9 4.4h0m5.1-1.7h0m2.1 4.5h0m0.4-2.3h0m0.3-0.8h0m1.5 3.4h0m7.2-1.3h0m-25.9 4.7h0m0.4 1.1h0m1.3 1.5h0m3.3-0.7h0m1 1.2h0m3.3-0.8h0m0.8 1.3h0m3.4-5.6h0m0.1 5.6h0m-20.7 3.6h0m3.1 1.9h0m1.9-2.7h0m0.4 1.5h0m1.2 0.6h0m0.5 0.9h0m1.1-5h0m4.1 0.5h0m0.1 1.4h0m2.3 0.5h0m4.5-1.1h0m3.7 3.9h0m-25.3 1.4h0m1.4 2.2h0m4.3-2.1h0m1.3 0.6h0m1.5-0.2h0m3.1-1h0m1.2 0.5h0m0.7 2.6h0m0.1-1.7h0m2.4 2.6h0m-19.8 6.5h0m2.6-2.5h0m1.5 2h0m0.1-2h0m4.2-2.8h0m0.1 1.8h0m0.5-0.6h0m0.4 4.4h0m0.4-2.5h0m0.1 0.7h0m0.5 1.5h0m0.2-4.9h0m2.7 0.3h0m5.5 1.1h0m4-1.3h0m-32 7.4h0m3.3 1.4h0m1.8 0.1h0m1.6 0.2h0m2.3 1.8h0m0.8-3.5h0m5.5 3.3h0m0.3 0h0m-10.1 3.6h0m9.2-0.9h0m-13.1 6.7h0m0.2-1.6h0m1.1-0.1h0m0.4 4.5h0"/>
<path d="M673.9 447.6h0m-10.5 5.1h0m8 0.9h0m-27.9 7.6h0m12.8-3.6h0m-1.8 7h0m2-1.8h0m-14.1 9.5h0m-7.6 6.1h0m8.5 0.8h0m4.6-1.5h0m2-2.2h0m19.3-1.5h0m-52.7 11.7h0m20.5-1.6h0m0.3 1.6h0m0.6-2.6h0m9.9 1.7h0m-22.4 5.2h0m0.6-2.2h0m1-0.2h0m2.1 0.9h0m0.9 2.8h0m1-0.9h0m0.8-2.9h0m2.3 1.8h0m2.8-1h0m2.9 3.5h0m1-0.8h0m-19.3 6.2h0m3.7-3.6h0m0.5 1.7h0m4.9 1.2h0m4.2-0.6h0m1.1-2.3h0m0.5-1.3h0m1.6 3.7h0m-22.3 5.2h0m0.6-1h0m1.4 2h0m3.3 0.9h0m5.5-0.8h0m1.3-0.9h0m-17.5 5.6h0m2.8-0.2h0m2-2h0m5.4 2.4h0m0.5 0.6h0m0.1-1.9h0m1.2 1h0m0.2-1h0m0.2 1.9h0m-29.5 6.5h0m13.4-1.8h0m6 2.1h0m0.2-0.1h0m2.2-2.2h0m0.2 1.5h0m2.1 0.5h0m0.4-1.6h0m0.1 0.1h0m2 1.8h0m3.2-2h0m0.8-1.7h0m-19 9h0m3-1.9h0m0.3 2.2h0m1.5-1.4h0m2 0.4h0m0.8 0.6h0m1.1 1h0m-19.7 3.6h0m5-1.2h0m0.6 1.1h0m1.8 1.1h0m0.1 0.6h0m1.9-3.4h0m1 3.6h0m1.1-1h0m0.7 0h0m4-3.1h0m0.2 1.8h0m0.7-1.9h0m3.8 1.7h0m-19.3 9.5h0m3.3-4.3h0m5.6 0.8h0m2.5-1.2h0m11.7 2.8h0m-31.9 5.8h0m5.5-2.6h0m0.4 4.1h0m0.1-0.1h0m0.8 0.7h0m1.7-2.9h0m0.8 0.3h0m0.6 1.1h0m0.5-0.4h0m0.3-0.7h0m1.8-2.5h0m0.5 0.7h0m0.6-0.1h0m0.2 1.5h0m3.6-2h0m2.2 0.5h0m-29 5.9h0m0.1 4.1h0m4.7-2.5h0m0.1 2.8h0m1.5 0.2h0m0.8-0.5h0m3.5 0.5h0m3.3 0.3h0m1.3-4.3h0m0.1 2.3h0m0.7-2.9h0m1.8 4.3h0m0.2-3h0m-11.5 8.6h0m1.3-4.1h0m0 0.4h0m0.5 3.2h0m0.5-2.8h0m2-0.5h0m0.1 4.8h0m0.8-2.8h0m-22.5 9.2h0m1.3-0.7h0m6.3-2.2h0m2.5 2.9h0m1.2-3.8h0m1.1 1h0m0.8 0.1h0m0.4-1.3h0m2.7 2.2h0m0.2-3.3h0m-13.5 9h0m2.5 0.1h0m0.1 0h0m0.8-3.7h0m1.3 0.8h0m1.6 2.8h0m0.8 1.2h0m1-2.3h0m2.8 1.1h0m-14.2 3.7h0m3.8-0.6h0m1.5 3.5h0m0.1 0.9h0m0.2-4.3h0m1.3 1.4h0m1.5 3.5h0m3.7-5.1h0m1.7-0.3h0m8.8 0.5h0m-21 6h0m0.7 0.5h0m0.9-0.7h0m0.6-0.3h0"/>
<path d="M656.3 458.2h0m-4.6 4.1h0m8.9-0.3h0m6.7 3.9h0m-22.5 7h0m1-1h0m4.3-0.4h0m-2.3 7.8h0m0.4-4.7h0m2.9 2.6h0m-17.7 7.5h0m4.1-3.2h0m8.2 0.4h0m2.6-1.2h0m-28.9 9.2h0m8.1-0.8h0m5.5-0.2h0m0.3-0.6h0m0.5-1.3h0m1 0.3h0m1.4 2.3h0m2.4 0.3h0m0.9-3.2h0m-21.1 11h0m8.7-2.4h0m0.8-2.6h0m0.1 0.5h0m1.6 3.6h0m0.8-4.7h0m-15.5 10h0m5.1 1.3h0m0.4-0.1h0m2-1.6h0m1.1 1.5h0m2.6-4.5h0m1.6 3.3h0m-12.2 6.5h0m0.6-3.8h0m0.3 0h0m2.7 3h0m0 0.5h0m1.7-3.6h0m1 2.5h0m2.1-0.6h0m6.4 0.4h0m-23 6.3h0m5.2-1.9h0m3.2 3.4h0m0.4-3.2h0m1.5 1.7h0m0.1-1.5h0m0.9-0.6h0m4.1-0.9h0m0.1 0.9h0m-14.9 5.3h0m0 1h0m0-0.6h0m0.3 3.8h0m0.6-4.1h0m0.3 4.2h0m1.6-1.5h0m0.1-0.2h0m1.6-2.5h0m2.4 1.7h0m6.8-1.8h0m-27.9 9.7h0m2.7-3.6h0m5.6 3.6h0m3.3-0.7h0m0.4-2.5h0m7 0h0m-20 10.3h0m2.7-1.7h0m1.2 2.2h0m1.4-0.2h0m1.4-1.9h0m0.8 1.7h0m0.3-5.3h0m0.5 5.2h0m4-1.5h0m18.7-2.1h0m-34.1 9.6h0m1.4-3.5h0m0.1 3.3h0m1.5-0.6h0m3.9-1.3h0m4.7 0.7h0m1.4-1.4h0m-16.8 9.4h0m5.5-0.7h0m3-5h0m1.3 4h0m-30.7 7.6h0m6.9-3.8h0m11-1.6h0m2.5 4.1h0m4.9-2h0m-19.2 9.4h0m4.9-0.8h0m1.9-1.1h0m0.5-0.7h0m0.5 0.9h0m0.3-2.8h0m2 3.3h0m1.3-3h0m3.9 2h0m5-2.2h0m-22.2 6.2h0m6.1-1.1h0m9.6 1.7h0m1.3-1h0m-23.8 10.2h0m0.4-0.3h0m4.2 0.3h0m1.8-3.5h0m3.2 1.9h0m0.7 1.1h0m3.2-0.9h0m1.2-1.7h0m5.9-0.8h0m0.1 1.5h0m-14.8 5.1h0m0.2-1.7h0m1.3 1.8h0m6.8-1.8h0"/>
</g>
<path d="M562 579.4L673.8 439.4" stroke="#808080" stroke-width="2.4" stroke-dasharray="8.9 3.9" clip-path="url(#ce4)"/>
<rect x="562" y="439.4" width="111.8" height="140" fill="none" stroke="#000" stroke-width="2.2"/>
<path d="M562 579.4V582.6M558.8 579.4H562M599.3 579.4V582.6M558.8 532.7H562M636.5 579.4V582.6M558.8 486.1H562M673.8 579.4V582.6M558.8 439.4H562" stroke="#000" stroke-width="2"/>
<text x="562" y="594.2" font-size="14" text-anchor="middle">250</text>
<text x="556.6" y="584.3" font-size="14" text-anchor="end">250</text>
<text x="599.3" y="594.2" font-size="14" text-anchor="middle">470</text>
<text x="556.6" y="537.6" font-size="14" text-anchor="end">470</text>
<text x="636.5" y="594.2" font-size="14" text-anchor="middle">690</text>
<text x="556.6" y="491" font-size="14" text-anchor="end">690</text>
<text x="673.8" y="594.2" font-size="14" text-anchor="middle">9<tspan class="h">1</tspan>0</text>
<text x="556.6" y="444.3" font-size="14" text-anchor="end">9<tspan class="h">1</tspan>0</text>
<text x="619.4" y="610.4" font-size="11" text-anchor="middle">Emi. pred. (nm)</text>
<text transform="translate(524.4 510.2) rotate(-90)" font-size="11.2" text-anchor="middle">Emi. label (nm)</text>
<text x="601.7" y="555.2" font-size="11">R<tspan font-size="7.8" dy="-3.6">2</tspan><tspan dy="3.6">: 0.949</tspan></text>
<text x="601.7" y="568.3" font-size="11">MAE: <tspan class="h">1</tspan><tspan class="h">1</tspan>.<tspan class="h">1</tspan>67</text>
<path class="o" vector-effect="non-scaling-stroke" transform="translate(154.50 79.90) scale(0.00537 -0.00537)" d="M799 0H518V1010Q364 880 155 815V1070Q265 1105 394 1200Q523 1300 571 1409H799Z"/>
<path class="o" vector-effect="non-scaling-stroke" transform="translate(176.30 70.90) scale(0.00537 -0.00537)" d="M799 0H518V1010Q364 880 155 815V1070Q265 1105 394 1200Q523 1300 571 1409H799Z"/>
<path class="o" vector-effect="non-scaling-stroke" transform="translate(117.20 21.80) scale(0.00527 -0.00527)" d="M799 0H518V1010Q364 880 155 815V1070Q265 1105 394 1200Q523 1300 571 1409H799Z"/>
<path class="o" vector-effect="non-scaling-stroke" transform="translate(375.50 79.90) scale(0.00537 -0.00537)" d="M799 0H518V1010Q364 880 155 815V1070Q265 1105 394 1200Q523 1300 571 1409H799Z"/>
<path class="o" vector-effect="non-scaling-stroke" transform="translate(397.40 70.80) scale(0.00537 -0.00537)" d="M799 0H518V1010Q364 880 155 815V1070Q265 1105 394 1200Q523 1300 571 1409H799Z"/>
<path class="o" vector-effect="non-scaling-stroke" transform="translate(490.25 125.90) scale(0.00635 -0.00635)" d="M799 0H518V1010Q364 880 155 815V1070Q265 1105 394 1200Q523 1300 571 1409H799Z"/>
<path class="o" vector-effect="non-scaling-stroke" transform="translate(496.77 125.90) scale(0.00635 -0.00635)" d="M799 0H518V1010Q364 880 155 815V1070Q265 1105 394 1200Q523 1300 571 1409H799Z"/>
<path class="o" vector-effect="non-scaling-stroke" transform="translate(489.53 72.80) scale(0.00635 -0.00635)" d="M799 0H518V1010Q364 880 155 815V1070Q265 1105 394 1200Q523 1300 571 1409H799Z"/>
<path class="o" vector-effect="non-scaling-stroke" transform="translate(496.77 19.80) scale(0.00635 -0.00635)" d="M799 0H518V1010Q364 880 155 815V1070Q265 1105 394 1200Q523 1300 571 1409H799Z"/>
<path class="o" vector-effect="non-scaling-stroke" transform="translate(151.06 383.80) scale(0.00684 -0.00684)" d="M799 0H518V1010Q364 880 155 815V1070Q265 1105 394 1200Q523 1300 571 1409H799Z"/>
<path class="o" vector-effect="non-scaling-stroke" transform="translate(21.92 233.90) scale(0.00684 -0.00684)" d="M799 0H518V1010Q364 880 155 815V1070Q265 1105 394 1200Q523 1300 571 1409H799Z"/>
<path class="o" vector-effect="non-scaling-stroke" transform="translate(207.96 383.00) scale(0.00684 -0.00684)" d="M799 0H518V1010Q364 880 155 815V1070Q265 1105 394 1200Q523 1300 571 1409H799Z"/>
<path class="o" vector-effect="non-scaling-stroke" transform="translate(192.82 373.10) scale(0.00684 -0.00684)" d="M799 0H518V1010Q364 880 155 815V1070Q265 1105 394 1200Q523 1300 571 1409H799Z"/>
<path class="o" vector-effect="non-scaling-stroke" transform="translate(264.23 399.20) scale(0.00537 -0.00537)" d="M799 0H518V1010Q364 880 155 815V1070Q265 1105 394 1200Q523 1300 571 1409H799Z"/>
<g transform="translate(189.2 305.3) rotate(-90)"><path class="o" vector-effect="non-scaling-stroke" transform="translate(-18.34 0.00) scale(0.00547 -0.00547)" d="M799 0H518V1010Q364 880 155 815V1070Q265 1105 394 1200Q523 1300 571 1409H799Z"/></g>
<path class="o" vector-effect="non-scaling-stroke" transform="translate(303.94 355.90) scale(0.00537 -0.00537)" d="M799 0H518V1010Q364 880 155 815V1070Q265 1105 394 1200Q523 1300 571 1409H799Z"/>
<path class="o" vector-effect="non-scaling-stroke" transform="translate(377.46 383.00) scale(0.00684 -0.00684)" d="M799 0H518V1010Q364 880 155 815V1070Q265 1105 394 1200Q523 1300 571 1409H799Z"/>
<path class="o" vector-effect="non-scaling-stroke" transform="translate(362.32 373.10) scale(0.00684 -0.00684)" d="M799 0H518V1010Q364 880 155 815V1070Q265 1105 394 1200Q523 1300 571 1409H799Z"/>
<path class="o" vector-effect="non-scaling-stroke" transform="translate(664.26 383.00) scale(0.00684 -0.00684)" d="M799 0H518V1010Q364 880 155 815V1070Q265 1105 394 1200Q523 1300 571 1409H799Z"/>
<path class="o" vector-effect="non-scaling-stroke" transform="translate(535.02 233.10) scale(0.00684 -0.00684)" d="M799 0H518V1010Q364 880 155 815V1070Q265 1105 394 1200Q523 1300 571 1409H799Z"/>
<path class="o" vector-effect="non-scaling-stroke" transform="translate(642.21 342.80) scale(0.00537 -0.00537)" d="M799 0H518V1010Q364 880 155 815V1070Q265 1105 394 1200Q523 1300 571 1409H799Z"/>
<path class="o" vector-effect="non-scaling-stroke" transform="translate(647.73 342.80) scale(0.00537 -0.00537)" d="M799 0H518V1010Q364 880 155 815V1070Q265 1105 394 1200Q523 1300 571 1409H799Z"/>
<path class="o" vector-effect="non-scaling-stroke" transform="translate(150.26 593.80) scale(0.00684 -0.00684)" d="M799 0H518V1010Q364 880 155 815V1070Q265 1105 394 1200Q523 1300 571 1409H799Z"/>
<path class="o" vector-effect="non-scaling-stroke" transform="translate(21.12 444.20) scale(0.00684 -0.00684)" d="M799 0H518V1010Q364 880 155 815V1070Q265 1105 394 1200Q523 1300 571 1409H799Z"/>
<path class="o" vector-effect="non-scaling-stroke" transform="translate(137.94 569.50) scale(0.00537 -0.00537)" d="M799 0H518V1010Q364 880 155 815V1070Q265 1105 394 1200Q523 1300 571 1409H799Z"/>
<path class="o" vector-effect="non-scaling-stroke" transform="translate(150.19 569.50) scale(0.00537 -0.00537)" d="M799 0H518V1010Q364 880 155 815V1070Q265 1105 394 1200Q523 1300 571 1409H799Z"/>
<path class="o" vector-effect="non-scaling-stroke" transform="translate(281.81 592.70) scale(0.00684 -0.00684)" d="M799 0H518V1010Q364 880 155 815V1070Q265 1105 394 1200Q523 1300 571 1409H799Z"/>
<path class="o" vector-effect="non-scaling-stroke" transform="translate(190.23 489.60) scale(0.00684 -0.00684)" d="M799 0H518V1010Q364 880 155 815V1070Q265 1105 394 1200Q523 1300 571 1409H799Z"/>
<path class="o" vector-effect="non-scaling-stroke" transform="translate(326.80 592.70) scale(0.00684 -0.00684)" d="M799 0H518V1010Q364 880 155 815V1070Q265 1105 394 1200Q523 1300 571 1409H799Z"/>
<path class="o" vector-effect="non-scaling-stroke" transform="translate(198.01 443.00) scale(0.00684 -0.00684)" d="M799 0H518V1010Q364 880 155 815V1070Q265 1105 394 1200Q523 1300 571 1409H799Z"/>
<path class="o" vector-effect="non-scaling-stroke" transform="translate(300.01 555.30) scale(0.00537 -0.00537)" d="M799 0H518V1010Q364 880 155 815V1070Q265 1105 394 1200Q523 1300 571 1409H799Z"/>
<path class="o" vector-effect="non-scaling-stroke" transform="translate(306.04 568.40) scale(0.00537 -0.00537)" d="M799 0H518V1010Q364 880 155 815V1070Q265 1105 394 1200Q523 1300 571 1409H799Z"/>
<path class="o" vector-effect="non-scaling-stroke" transform="translate(378.01 592.80) scale(0.00684 -0.00684)" d="M799 0H518V1010Q364 880 155 815V1070Q265 1105 394 1200Q523 1300 571 1409H799Z"/>
<path class="o" vector-effect="non-scaling-stroke" transform="translate(360.92 582.90) scale(0.00684 -0.00684)" d="M799 0H518V1010Q364 880 155 815V1070Q265 1105 394 1200Q523 1300 571 1409H799Z"/>
<path class="o" vector-effect="non-scaling-stroke" transform="translate(669.90 594.20) scale(0.00684 -0.00684)" d="M799 0H518V1010Q364 880 155 815V1070Q265 1105 394 1200Q523 1300 571 1409H799Z"/>
<path class="o" vector-effect="non-scaling-stroke" transform="translate(541.01 444.30) scale(0.00684 -0.00684)" d="M799 0H518V1010Q364 880 155 815V1070Q265 1105 394 1200Q523 1300 571 1409H799Z"/>
<path class="o" vector-effect="non-scaling-stroke" transform="translate(632.87 568.30) scale(0.00537 -0.00537)" d="M799 0H518V1010Q364 880 155 815V1070Q265 1105 394 1200Q523 1300 571 1409H799Z"/>
<path class="o" vector-effect="non-scaling-stroke" transform="translate(638.39 568.30) scale(0.00537 -0.00537)" d="M799 0H518V1010Q364 880 155 815V1070Q265 1105 394 1200Q523 1300 571 1409H799Z"/>
<path class="o" vector-effect="non-scaling-stroke" transform="translate(647.58 568.30) scale(0.00537 -0.00537)" d="M799 0H518V1010Q364 880 155 815V1070Q265 1105 394 1200Q523 1300 571 1409H799Z"/>
</svg>
</body></html>
